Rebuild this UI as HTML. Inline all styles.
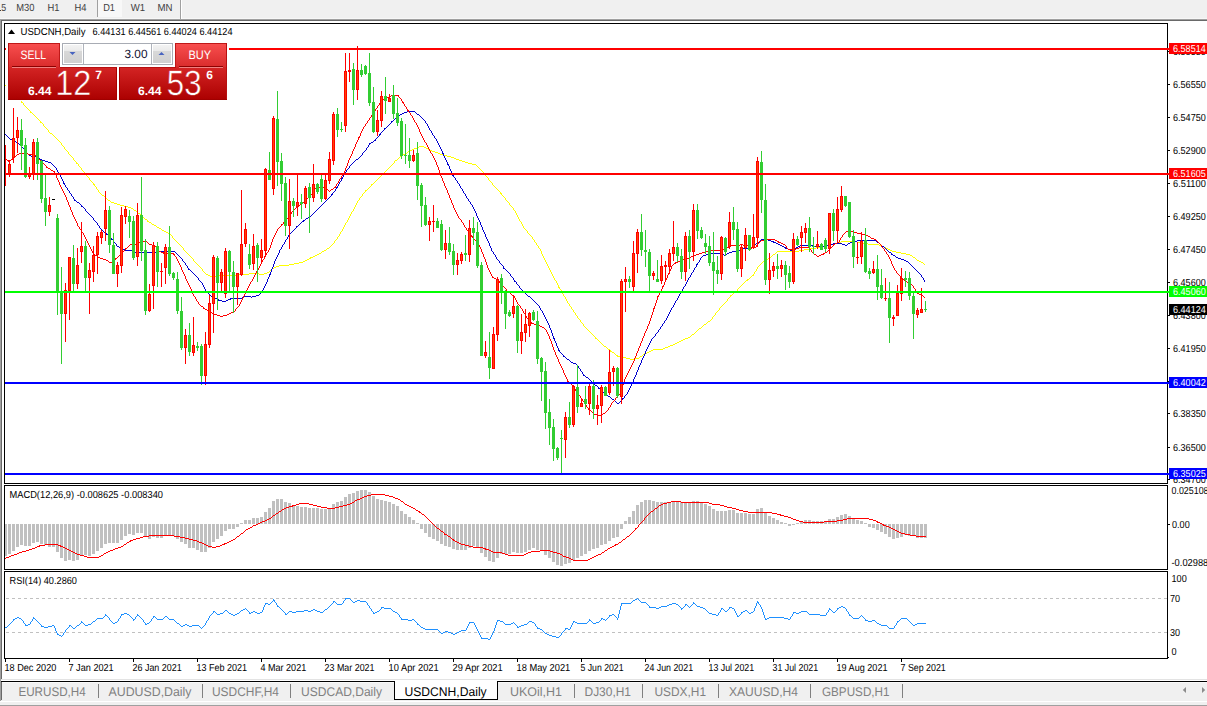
<!DOCTYPE html>
<html><head><meta charset="utf-8"><title>USDCNH,Daily</title>
<style>html,body{margin:0;padding:0;background:#fff;overflow:hidden}body{width:1207px;height:706px;font-family:"Liberation Sans",sans-serif}svg{display:block}text{font-family:"Liberation Sans",sans-serif}</style></head>
<body>
<svg width="1207" height="706" viewBox="0 0 1207 706" shape-rendering="crispEdges" text-rendering="geometricPrecision" font-family="Liberation Sans, sans-serif">
<rect x="0" y="0" width="1207" height="706" fill="#ffffff"/>
<rect x="0" y="0" width="1207" height="18" fill="#f0f0f0"/>
<rect x="0" y="18" width="1207" height="1" fill="#f7f7f7"/>
<rect x="0" y="19" width="1207" height="1" fill="#a0a0a0"/>
<rect x="0" y="20" width="1207" height="1" fill="#696969"/>
<rect x="98" y="0" width="24" height="17" fill="#f8f8f8"/>
<rect x="97" y="0" width="1" height="17" fill="#a0a0a0"/>
<rect x="0" y="10" width="1" height="1" fill="#404040"/>
<rect x="180" y="0" width="1" height="19" fill="#a0a0a0"/>
<rect x="181" y="0" width="1" height="19" fill="#ffffff"/>
<text x="1.2" y="11" font-size="10.3" fill="#404040" textLength="4.9" lengthAdjust="spacingAndGlyphs">5</text>
<text x="16.3" y="11" font-size="10.3" fill="#404040" textLength="18.2" lengthAdjust="spacingAndGlyphs">M30</text>
<text x="47.4" y="11" font-size="10.3" fill="#404040" textLength="12" lengthAdjust="spacingAndGlyphs">H1</text>
<text x="74.6" y="11" font-size="10.3" fill="#404040" textLength="12" lengthAdjust="spacingAndGlyphs">H4</text>
<text x="103.2" y="11" font-size="10.3" fill="#404040" textLength="11.8" lengthAdjust="spacingAndGlyphs">D1</text>
<text x="130.8" y="11" font-size="10.3" fill="#404040" textLength="14.4" lengthAdjust="spacingAndGlyphs">W1</text>
<text x="157.5" y="11" font-size="10.3" fill="#404040" textLength="15" lengthAdjust="spacingAndGlyphs">MN</text>
<rect x="0" y="19" width="1" height="661" fill="#a0a0a0"/>
<rect x="1" y="20" width="1" height="660" fill="#696969"/>
<rect x="4" y="23" width="1164" height="1" fill="#000"/>
<rect x="4" y="483" width="1164" height="1" fill="#000"/>
<rect x="4" y="23" width="1" height="461" fill="#000"/>
<rect x="1167" y="23" width="1" height="461" fill="#000"/>
<rect x="4" y="485" width="1164" height="1" fill="#000"/>
<rect x="4" y="569" width="1164" height="1" fill="#000"/>
<rect x="4" y="485" width="1" height="85" fill="#000"/>
<rect x="1167" y="485" width="1" height="85" fill="#000"/>
<rect x="4" y="571" width="1164" height="1" fill="#000"/>
<rect x="4" y="658" width="1164" height="1" fill="#000"/>
<rect x="4" y="571" width="1" height="88" fill="#000"/>
<rect x="1167" y="571" width="1" height="88" fill="#000"/>
<g id="main">
<path d="M5 85h1v1h-1zM6 86h1v1h-1zM7 87h1v1h-1zM8 88h1v1h-1zM9 89h1v1h-1zM10 90h1v1h-1zM11 91h1v1h-1zM12 92h1v1h-1zM13 93h1v1h-1zM14 94h1v1h-1zM15 95h1v1h-1zM16 96h1v1h-1zM17 97h1v1h-1zM18 98h1v1h-1zM19 99h1v1h-1zM20 100h1v1h-1zM21 101h1v2h-1zM22 102h1v1h-1zM23 103h1v2h-1zM24 105h1v1h-1zM25 106h1v1h-1zM26 107h1v1h-1zM27 108h1v1h-1zM28 109h1v1h-1zM29 110h1v1h-1zM30 111h1v2h-1zM31 112h1v1h-1zM32 113h1v1h-1zM33 114h1v1h-1zM34 115h1v1h-1zM35 116h1v1h-1zM36 117h1v1h-1zM37 118h1v1h-1zM38 119h1v1h-1zM39 120h1v1h-1zM40 121h1v2h-1zM41 122h1v1h-1zM42 123h1v1h-1zM43 124h1v2h-1zM44 126h1v1h-1zM45 127h1v1h-1zM46 128h1v1h-1zM47 129h1v1h-1zM48 130h1v2h-1zM49 132h1v1h-1zM50 133h1v1h-1zM51 133h1v1h-1zM52 134h1v1h-1zM53 135h1v1h-1zM54 136h1v1h-1zM55 137h1v1h-1zM56 138h1v1h-1zM57 139h1v1h-1zM58 140h1v1h-1zM59 141h1v1h-1zM60 142h1v1h-1zM61 143h1v2h-1zM62 145h1v1h-1zM63 146h1v1h-1zM64 147h1v2h-1zM65 149h1v1h-1zM66 150h1v1h-1zM67 151h1v1h-1zM68 152h1v2h-1zM69 154h1v1h-1zM70 155h1v1h-1zM71 156h1v1h-1zM72 157h1v1h-1zM73 158h1v2h-1zM74 160h1v1h-1zM75 161h1v1h-1zM76 162h1v2h-1zM77 163h1v1h-1zM78 164h1v2h-1zM79 166h1v1h-1zM80 167h1v1h-1zM81 168h1v2h-1zM82 170h1v1h-1zM83 171h1v1h-1zM84 172h1v2h-1zM85 174h1v1h-1zM86 175h1v1h-1zM87 176h1v1h-1zM88 177h1v1h-1zM89 178h1v2h-1zM90 180h1v1h-1zM91 181h1v1h-1zM92 182h1v1h-1zM93 183h1v2h-1zM94 184h1v2h-1zM95 186h1v1h-1zM96 187h1v2h-1zM97 189h1v1h-1zM98 190h1v2h-1zM99 192h1v1h-1zM100 193h1v1h-1zM101 194h1v1h-1zM102 195h1v1h-1zM103 195h1v1h-1zM104 196h1v1h-1zM105 197h1v1h-1zM106 198h1v1h-1zM107 199h1v1h-1zM108 200h1v1h-1zM109 200h1v1h-1zM110 201h1v1h-1zM111 202h1v1h-1zM112 202h1v1h-1zM113 202h1v1h-1zM114 203h1v1h-1zM115 203h1v1h-1zM116 203h1v1h-1zM117 204h1v1h-1zM118 204h1v1h-1zM119 204h1v1h-1zM120 205h1v1h-1zM121 205h1v1h-1zM122 205h1v1h-1zM123 205h1v1h-1zM124 206h1v1h-1zM125 206h1v1h-1zM126 206h1v1h-1zM127 206h1v1h-1zM128 207h1v1h-1zM129 207h1v1h-1zM130 207h1v1h-1zM131 208h1v1h-1zM132 208h1v1h-1zM133 209h1v1h-1zM134 210h1v1h-1zM135 210h1v1h-1zM136 211h1v1h-1zM137 212h1v1h-1zM138 213h1v1h-1zM139 213h1v1h-1zM140 214h1v1h-1zM141 215h1v1h-1zM142 216h1v1h-1zM143 217h1v1h-1zM144 218h1v1h-1zM145 219h1v1h-1zM146 219h1v1h-1zM147 220h1v2h-1zM148 221h1v1h-1zM149 222h1v1h-1zM150 222h1v1h-1zM151 223h1v1h-1zM152 224h1v1h-1zM153 224h1v1h-1zM154 225h1v1h-1zM155 225h1v1h-1zM156 226h1v1h-1zM157 227h1v1h-1zM158 227h1v1h-1zM159 228h1v1h-1zM160 228h1v1h-1zM161 229h1v1h-1zM162 230h1v1h-1zM163 230h1v1h-1zM164 231h1v1h-1zM165 231h1v1h-1zM166 232h1v1h-1zM167 232h1v1h-1zM168 233h1v1h-1zM169 234h1v1h-1zM170 234h1v1h-1zM171 235h1v1h-1zM172 236h1v2h-1zM173 238h1v1h-1zM174 239h1v1h-1zM175 240h1v1h-1zM176 241h1v1h-1zM177 242h1v1h-1zM178 243h1v1h-1zM179 244h1v1h-1zM180 245h1v1h-1zM181 246h1v1h-1zM182 247h1v1h-1zM183 248h1v2h-1zM184 250h1v1h-1zM185 251h1v1h-1zM186 252h1v1h-1zM187 253h1v1h-1zM188 254h1v1h-1zM189 255h1v1h-1zM190 256h1v1h-1zM191 257h1v1h-1zM192 258h1v1h-1zM193 259h1v2h-1zM194 261h1v1h-1zM195 262h1v1h-1zM196 263h1v1h-1zM197 264h1v1h-1zM198 265h1v1h-1zM199 266h1v1h-1zM200 267h1v1h-1zM201 268h1v1h-1zM202 269h1v2h-1zM203 271h1v1h-1zM204 272h1v1h-1zM205 273h1v1h-1zM206 274h1v1h-1zM207 274h1v1h-1zM208 275h1v1h-1zM209 275h1v1h-1zM210 276h1v1h-1zM211 276h1v1h-1zM212 276h1v1h-1zM213 276h1v1h-1zM214 276h1v1h-1zM215 276h1v1h-1zM216 276h1v1h-1zM217 276h1v1h-1zM218 275h1v1h-1zM219 275h1v1h-1zM220 275h1v1h-1zM221 275h1v1h-1zM222 275h1v1h-1zM223 275h1v1h-1zM224 275h1v1h-1zM225 275h1v1h-1zM226 275h1v1h-1zM227 275h1v1h-1zM228 275h1v1h-1zM229 275h1v1h-1zM230 275h1v1h-1zM231 275h1v1h-1zM232 275h1v1h-1zM233 275h1v1h-1zM234 275h1v1h-1zM235 275h1v1h-1zM236 274h1v1h-1zM237 274h1v1h-1zM238 274h1v1h-1zM239 274h1v1h-1zM240 274h1v1h-1zM241 274h1v1h-1zM242 274h1v1h-1zM243 274h1v1h-1zM244 274h1v1h-1zM245 274h1v1h-1zM246 274h1v1h-1zM247 274h1v1h-1zM248 274h1v1h-1zM249 273h1v1h-1zM250 273h1v1h-1zM251 273h1v1h-1zM252 273h1v1h-1zM253 273h1v1h-1zM254 273h1v1h-1zM255 273h1v1h-1zM256 273h1v1h-1zM257 273h1v1h-1zM258 273h1v1h-1zM259 274h1v1h-1zM260 274h1v1h-1zM261 274h1v1h-1zM262 274h1v1h-1zM263 274h1v1h-1zM264 273h1v1h-1zM265 273h1v1h-1zM266 273h1v1h-1zM267 272h1v1h-1zM268 272h1v1h-1zM269 271h1v1h-1zM270 270h1v1h-1zM271 269h1v1h-1zM272 268h1v1h-1zM273 268h1v1h-1zM274 267h1v1h-1zM275 267h1v1h-1zM276 266h1v1h-1zM277 266h1v1h-1zM278 266h1v1h-1zM279 265h1v1h-1zM280 265h1v1h-1zM281 265h1v1h-1zM282 265h1v1h-1zM283 265h1v1h-1zM284 265h1v1h-1zM285 265h1v1h-1zM286 265h1v1h-1zM287 265h1v1h-1zM288 265h1v1h-1zM289 264h1v1h-1zM290 264h1v1h-1zM291 264h1v1h-1zM292 264h1v1h-1zM293 264h1v1h-1zM294 263h1v1h-1zM295 263h1v1h-1zM296 263h1v1h-1zM297 263h1v1h-1zM298 263h1v1h-1zM299 262h1v1h-1zM300 262h1v1h-1zM301 262h1v1h-1zM302 262h1v1h-1zM303 261h1v1h-1zM304 261h1v1h-1zM305 260h1v1h-1zM306 260h1v1h-1zM307 259h1v1h-1zM308 259h1v1h-1zM309 258h1v1h-1zM310 257h1v2h-1zM311 257h1v1h-1zM312 257h1v1h-1zM313 256h1v1h-1zM314 256h1v1h-1zM315 255h1v1h-1zM316 255h1v1h-1zM317 254h1v1h-1zM318 254h1v1h-1zM319 253h1v1h-1zM320 253h1v1h-1zM321 252h1v1h-1zM322 251h1v1h-1zM323 251h1v1h-1zM324 250h1v1h-1zM325 250h1v1h-1zM326 249h1v1h-1zM327 248h1v1h-1zM328 248h1v1h-1zM329 247h1v1h-1zM330 246h1v1h-1zM331 245h1v1h-1zM332 244h1v1h-1zM333 243h1v1h-1zM334 241h1v2h-1zM335 240h1v1h-1zM336 239h1v1h-1zM337 237h1v2h-1zM338 236h1v1h-1zM339 234h1v2h-1zM340 232h1v2h-1zM341 231h1v1h-1zM342 229h1v2h-1zM343 227h1v2h-1zM344 225h1v2h-1zM345 223h1v2h-1zM346 222h1v1h-1zM347 220h1v2h-1zM348 218h1v2h-1zM349 216h1v2h-1zM350 214h1v2h-1zM351 212h1v2h-1zM352 211h1v1h-1zM353 209h1v2h-1zM354 207h1v2h-1zM355 205h1v2h-1zM356 203h1v2h-1zM357 201h1v2h-1zM358 200h1v1h-1zM359 198h1v2h-1zM360 197h1v1h-1zM361 196h1v1h-1zM362 194h1v2h-1zM363 193h1v1h-1zM364 192h1v1h-1zM365 190h1v2h-1zM366 190h1v1h-1zM367 189h1v1h-1zM368 188h1v1h-1zM369 187h1v1h-1zM370 186h1v1h-1zM371 184h1v2h-1zM372 184h1v1h-1zM373 183h1v1h-1zM374 182h1v1h-1zM375 181h1v1h-1zM376 180h1v1h-1zM377 179h1v1h-1zM378 178h1v1h-1zM379 177h1v1h-1zM380 176h1v1h-1zM381 175h1v1h-1zM382 174h1v1h-1zM383 173h1v1h-1zM384 172h1v1h-1zM385 171h1v1h-1zM386 170h1v1h-1zM387 169h1v1h-1zM388 168h1v1h-1zM389 167h1v1h-1zM390 166h1v1h-1zM391 165h1v1h-1zM392 164h1v1h-1zM393 163h1v1h-1zM394 161h1v2h-1zM395 160h1v1h-1zM396 160h1v1h-1zM397 159h1v1h-1zM398 158h1v1h-1zM399 157h1v1h-1zM400 156h1v1h-1zM401 156h1v1h-1zM402 155h1v1h-1zM403 154h1v1h-1zM404 154h1v1h-1zM405 153h1v1h-1zM406 153h1v1h-1zM407 152h1v1h-1zM408 151h1v1h-1zM409 151h1v1h-1zM410 150h1v1h-1zM411 150h1v1h-1zM412 149h1v1h-1zM413 149h1v1h-1zM414 148h1v1h-1zM415 148h1v1h-1zM416 148h1v1h-1zM417 147h1v1h-1zM418 147h1v1h-1zM419 146h1v1h-1zM420 146h1v1h-1zM421 146h1v1h-1zM422 146h1v1h-1zM423 146h1v1h-1zM424 147h1v1h-1zM425 147h1v1h-1zM426 148h1v1h-1zM427 148h1v1h-1zM428 149h1v1h-1zM429 149h1v2h-1zM430 150h1v1h-1zM431 150h1v1h-1zM432 151h1v1h-1zM433 151h1v1h-1zM434 151h1v1h-1zM435 152h1v1h-1zM436 152h1v1h-1zM437 152h1v1h-1zM438 153h1v1h-1zM439 153h1v1h-1zM440 154h1v1h-1zM441 154h1v1h-1zM442 154h1v1h-1zM443 155h1v1h-1zM444 155h1v1h-1zM445 155h1v1h-1zM446 155h1v1h-1zM447 156h1v1h-1zM448 156h1v1h-1zM449 156h1v1h-1zM450 156h1v1h-1zM451 157h1v1h-1zM452 157h1v1h-1zM453 157h1v1h-1zM454 158h1v1h-1zM455 158h1v1h-1zM456 159h1v1h-1zM457 159h1v1h-1zM458 159h1v1h-1zM459 160h1v1h-1zM460 160h1v1h-1zM461 160h1v1h-1zM462 161h1v1h-1zM463 161h1v1h-1zM464 161h1v1h-1zM465 162h1v1h-1zM466 162h1v1h-1zM467 162h1v1h-1zM468 163h1v1h-1zM469 163h1v1h-1zM470 163h1v1h-1zM471 163h1v1h-1zM472 164h1v1h-1zM473 164h1v1h-1zM474 164h1v1h-1zM475 164h1v1h-1zM476 165h1v1h-1zM477 166h1v1h-1zM478 167h1v1h-1zM479 168h1v1h-1zM480 169h1v1h-1zM481 170h1v1h-1zM482 171h1v1h-1zM483 172h1v1h-1zM484 173h1v1h-1zM485 174h1v2h-1zM486 176h1v1h-1zM487 177h1v1h-1zM488 178h1v2h-1zM489 180h1v1h-1zM490 181h1v1h-1zM491 182h1v1h-1zM492 183h1v2h-1zM493 185h1v1h-1zM494 186h1v1h-1zM495 187h1v1h-1zM496 188h1v1h-1zM497 189h1v1h-1zM498 190h1v1h-1zM499 191h1v1h-1zM500 192h1v2h-1zM501 193h1v2h-1zM502 195h1v1h-1zM503 196h1v1h-1zM504 197h1v1h-1zM505 198h1v2h-1zM506 200h1v1h-1zM507 201h1v1h-1zM508 202h1v1h-1zM509 203h1v2h-1zM510 205h1v1h-1zM511 206h1v1h-1zM512 207h1v1h-1zM513 208h1v2h-1zM514 210h1v1h-1zM515 211h1v2h-1zM516 213h1v2h-1zM517 215h1v2h-1zM518 217h1v2h-1zM519 219h1v2h-1zM520 221h1v1h-1zM521 222h1v2h-1zM522 224h1v2h-1zM523 226h1v2h-1zM524 228h1v1h-1zM525 229h1v1h-1zM526 230h1v1h-1zM527 231h1v2h-1zM528 233h1v1h-1zM529 234h1v1h-1zM530 235h1v1h-1zM531 236h1v1h-1zM532 237h1v2h-1zM533 239h1v1h-1zM534 240h1v2h-1zM535 242h1v1h-1zM536 243h1v2h-1zM537 245h1v1h-1zM538 246h1v2h-1zM539 248h1v1h-1zM540 249h1v2h-1zM541 251h1v3h-1zM542 254h1v2h-1zM543 256h1v2h-1zM544 258h1v2h-1zM545 260h1v2h-1zM546 262h1v2h-1zM547 264h1v2h-1zM548 266h1v2h-1zM549 268h1v2h-1zM550 270h1v2h-1zM551 272h1v2h-1zM552 274h1v2h-1zM553 276h1v2h-1zM554 278h1v2h-1zM555 280h1v1h-1zM556 281h1v2h-1zM557 283h1v2h-1zM558 285h1v3h-1zM559 287h1v2h-1zM560 289h1v1h-1zM561 290h1v2h-1zM562 292h1v2h-1zM563 294h1v2h-1zM564 296h1v1h-1zM565 297h1v2h-1zM566 299h1v2h-1zM567 301h1v2h-1zM568 303h1v1h-1zM569 304h1v2h-1zM570 306h1v1h-1zM571 307h1v2h-1zM572 309h1v1h-1zM573 310h1v2h-1zM574 312h1v1h-1zM575 313h1v2h-1zM576 315h1v1h-1zM577 316h1v2h-1zM578 318h1v1h-1zM579 319h1v1h-1zM580 320h1v2h-1zM581 322h1v1h-1zM582 323h1v1h-1zM583 324h1v2h-1zM584 326h1v1h-1zM585 327h1v1h-1zM586 328h1v1h-1zM587 329h1v1h-1zM588 330h1v1h-1zM589 331h1v1h-1zM590 332h1v1h-1zM591 333h1v1h-1zM592 334h1v1h-1zM593 335h1v1h-1zM594 336h1v1h-1zM595 337h1v2h-1zM596 338h1v1h-1zM597 339h1v1h-1zM598 340h1v1h-1zM599 341h1v1h-1zM600 342h1v1h-1zM601 343h1v1h-1zM602 344h1v1h-1zM603 345h1v1h-1zM604 346h1v1h-1zM605 346h1v1h-1zM606 347h1v1h-1zM607 348h1v1h-1zM608 349h1v1h-1zM609 349h1v1h-1zM610 350h1v2h-1zM611 351h1v1h-1zM612 352h1v1h-1zM613 352h1v1h-1zM614 353h1v1h-1zM615 354h1v1h-1zM616 355h1v1h-1zM617 355h1v2h-1zM618 356h1v1h-1zM619 356h1v1h-1zM620 356h1v1h-1zM621 357h1v1h-1zM622 357h1v1h-1zM623 357h1v1h-1zM624 357h1v1h-1zM625 357h1v1h-1zM626 358h1v1h-1zM627 358h1v1h-1zM628 358h1v1h-1zM629 358h1v1h-1zM630 359h1v1h-1zM631 359h1v1h-1zM632 359h1v1h-1zM633 359h1v1h-1zM634 358h1v1h-1zM635 358h1v1h-1zM636 358h1v1h-1zM637 358h1v1h-1zM638 358h1v1h-1zM639 357h1v1h-1zM640 356h1v1h-1zM641 356h1v1h-1zM642 355h1v1h-1zM643 354h1v1h-1zM644 353h1v2h-1zM645 353h1v1h-1zM646 353h1v1h-1zM647 352h1v1h-1zM648 352h1v1h-1zM649 351h1v1h-1zM650 351h1v1h-1zM651 350h1v1h-1zM652 350h1v1h-1zM653 349h1v1h-1zM654 349h1v1h-1zM655 349h1v1h-1zM656 349h1v1h-1zM657 349h1v1h-1zM658 349h1v1h-1zM659 349h1v1h-1zM660 349h1v1h-1zM661 349h1v1h-1zM662 349h1v1h-1zM663 348h1v1h-1zM664 348h1v1h-1zM665 347h1v1h-1zM666 347h1v1h-1zM667 347h1v1h-1zM668 346h1v1h-1zM669 346h1v1h-1zM670 345h1v1h-1zM671 345h1v1h-1zM672 345h1v1h-1zM673 344h1v1h-1zM674 344h1v1h-1zM675 343h1v1h-1zM676 343h1v1h-1zM677 342h1v1h-1zM678 342h1v1h-1zM679 341h1v1h-1zM680 341h1v1h-1zM681 340h1v1h-1zM682 340h1v1h-1zM683 339h1v1h-1zM684 339h1v1h-1zM685 338h1v1h-1zM686 338h1v1h-1zM687 338h1v1h-1zM688 337h1v1h-1zM689 337h1v1h-1zM690 336h1v1h-1zM691 335h1v1h-1zM692 334h1v1h-1zM693 334h1v1h-1zM694 333h1v1h-1zM695 332h1v1h-1zM696 331h1v1h-1zM697 330h1v1h-1zM698 329h1v1h-1zM699 328h1v1h-1zM700 328h1v1h-1zM701 327h1v1h-1zM702 326h1v1h-1zM703 325h1v1h-1zM704 324h1v1h-1zM705 324h1v1h-1zM706 323h1v1h-1zM707 322h1v1h-1zM708 321h1v1h-1zM709 321h1v1h-1zM710 320h1v1h-1zM711 319h1v1h-1zM712 317h1v2h-1zM713 316h1v1h-1zM714 315h1v1h-1zM715 313h1v2h-1zM716 312h1v1h-1zM717 311h1v1h-1zM718 310h1v1h-1zM719 308h1v2h-1zM720 307h1v1h-1zM721 306h1v1h-1zM722 305h1v1h-1zM723 304h1v1h-1zM724 303h1v1h-1zM725 302h1v1h-1zM726 301h1v1h-1zM727 299h1v2h-1zM728 298h1v1h-1zM729 297h1v1h-1zM730 295h1v2h-1zM731 295h1v1h-1zM732 294h1v1h-1zM733 293h1v1h-1zM734 292h1v1h-1zM735 291h1v2h-1zM736 291h1v1h-1zM737 289h1v2h-1zM738 288h1v1h-1zM739 287h1v1h-1zM740 286h1v1h-1zM741 285h1v1h-1zM742 284h1v1h-1zM743 283h1v1h-1zM744 282h1v1h-1zM745 281h1v1h-1zM746 280h1v1h-1zM747 279h1v2h-1zM748 279h1v1h-1zM749 278h1v1h-1zM750 277h1v1h-1zM751 276h1v1h-1zM752 275h1v1h-1zM753 274h1v2h-1zM754 272h1v2h-1zM755 271h1v1h-1zM756 269h1v2h-1zM757 267h1v2h-1zM758 266h1v1h-1zM759 265h1v1h-1zM760 264h1v1h-1zM761 263h1v1h-1zM762 262h1v1h-1zM763 261h1v1h-1zM764 261h1v1h-1zM765 260h1v1h-1zM766 259h1v1h-1zM767 259h1v1h-1zM768 258h1v1h-1zM769 257h1v1h-1zM770 257h1v1h-1zM771 256h1v1h-1zM772 255h1v1h-1zM773 254h1v1h-1zM774 254h1v1h-1zM775 253h1v1h-1zM776 252h1v1h-1zM777 251h1v1h-1zM778 251h1v1h-1zM779 251h1v1h-1zM780 251h1v1h-1zM781 251h1v1h-1zM782 251h1v1h-1zM783 251h1v1h-1zM784 251h1v1h-1zM785 251h1v1h-1zM786 251h1v1h-1zM787 251h1v1h-1zM788 251h1v1h-1zM789 251h1v1h-1zM790 251h1v1h-1zM791 251h1v1h-1zM792 251h1v1h-1zM793 251h1v1h-1zM794 251h1v1h-1zM795 251h1v1h-1zM796 251h1v1h-1zM797 251h1v1h-1zM798 251h1v1h-1zM799 250h1v1h-1zM800 250h1v1h-1zM801 250h1v1h-1zM802 250h1v1h-1zM803 250h1v1h-1zM804 249h1v1h-1zM805 249h1v1h-1zM806 249h1v1h-1zM807 249h1v1h-1zM808 249h1v1h-1zM809 248h1v1h-1zM810 248h1v1h-1zM811 248h1v1h-1zM812 248h1v1h-1zM813 248h1v1h-1zM814 248h1v1h-1zM815 248h1v1h-1zM816 247h1v1h-1zM817 247h1v1h-1zM818 247h1v1h-1zM819 247h1v1h-1zM820 247h1v1h-1zM821 247h1v1h-1zM822 246h1v1h-1zM823 246h1v1h-1zM824 246h1v1h-1zM825 246h1v1h-1zM826 245h1v1h-1zM827 245h1v1h-1zM828 245h1v1h-1zM829 245h1v1h-1zM830 244h1v1h-1zM831 244h1v1h-1zM832 244h1v1h-1zM833 244h1v1h-1zM834 243h1v1h-1zM835 243h1v1h-1zM836 243h1v1h-1zM837 242h1v1h-1zM838 242h1v1h-1zM839 242h1v1h-1zM840 242h1v1h-1zM841 241h1v1h-1zM842 241h1v1h-1zM843 241h1v1h-1zM844 241h1v1h-1zM845 241h1v1h-1zM846 241h1v1h-1zM847 241h1v1h-1zM848 241h1v1h-1zM849 241h1v1h-1zM850 241h1v1h-1zM851 241h1v1h-1zM852 241h1v1h-1zM853 241h1v1h-1zM854 241h1v1h-1zM855 241h1v1h-1zM856 241h1v1h-1zM857 242h1v1h-1zM858 242h1v1h-1zM859 242h1v1h-1zM860 242h1v1h-1zM861 242h1v1h-1zM862 242h1v1h-1zM863 243h1v1h-1zM864 243h1v1h-1zM865 243h1v1h-1zM866 243h1v1h-1zM867 243h1v1h-1zM868 244h1v1h-1zM869 244h1v1h-1zM870 244h1v1h-1zM871 244h1v1h-1zM872 244h1v1h-1zM873 244h1v1h-1zM874 244h1v1h-1zM875 244h1v1h-1zM876 244h1v1h-1zM877 244h1v1h-1zM878 244h1v1h-1zM879 245h1v1h-1zM880 245h1v1h-1zM881 245h1v1h-1zM882 246h1v1h-1zM883 246h1v1h-1zM884 247h1v1h-1zM885 247h1v1h-1zM886 248h1v1h-1zM887 248h1v1h-1zM888 249h1v1h-1zM889 249h1v1h-1zM890 250h1v1h-1zM891 250h1v1h-1zM892 251h1v1h-1zM893 251h1v1h-1zM894 251h1v1h-1zM895 251h1v1h-1zM896 252h1v1h-1zM897 252h1v1h-1zM898 252h1v1h-1zM899 252h1v1h-1zM900 252h1v1h-1zM901 253h1v1h-1zM902 253h1v1h-1zM903 253h1v1h-1zM904 253h1v1h-1zM905 253h1v1h-1zM906 254h1v1h-1zM907 254h1v1h-1zM908 254h1v1h-1zM909 254h1v1h-1zM910 255h1v1h-1zM911 255h1v1h-1zM912 256h1v1h-1zM913 257h1v1h-1zM914 257h1v1h-1zM915 258h1v1h-1zM916 259h1v1h-1zM917 260h1v1h-1zM918 260h1v1h-1zM919 261h1v1h-1zM920 261h1v1h-1zM921 262h1v1h-1zM922 262h1v1h-1zM923 263h1v1h-1zM924 264h1v1h-1z" fill="#ffff00"/>
<path d="M5 134h1v1h-1zM6 135h1v1h-1zM7 136h1v1h-1zM8 137h1v1h-1zM9 138h1v1h-1zM10 139h1v1h-1zM11 139h1v1h-1zM12 140h1v1h-1zM13 140h1v1h-1zM14 141h1v1h-1zM15 141h1v1h-1zM16 142h1v1h-1zM17 142h1v1h-1zM18 143h1v1h-1zM19 144h1v1h-1zM20 145h1v1h-1zM21 145h1v2h-1zM22 147h1v1h-1zM23 148h1v1h-1zM24 149h1v2h-1zM25 151h1v2h-1zM26 152h1v1h-1zM27 153h1v1h-1zM28 154h1v1h-1zM29 155h1v1h-1zM30 155h1v1h-1zM31 156h1v1h-1zM32 156h1v1h-1zM33 156h1v1h-1zM34 156h1v1h-1zM35 156h1v1h-1zM36 157h1v1h-1zM37 157h1v1h-1zM38 158h1v1h-1zM39 158h1v1h-1zM40 159h1v1h-1zM41 159h1v1h-1zM42 160h1v1h-1zM43 160h1v1h-1zM44 160h1v1h-1zM45 161h1v1h-1zM46 161h1v1h-1zM47 161h1v1h-1zM48 162h1v1h-1zM49 162h1v1h-1zM50 162h1v1h-1zM51 163h1v1h-1zM52 164h1v1h-1zM53 165h1v1h-1zM54 166h1v1h-1zM55 167h1v1h-1zM56 168h1v2h-1zM57 170h1v2h-1zM58 172h1v2h-1zM59 174h1v1h-1zM60 175h1v2h-1zM61 177h1v2h-1zM62 179h1v2h-1zM63 181h1v3h-1zM64 183h1v2h-1zM65 185h1v2h-1zM66 187h1v1h-1zM67 188h1v2h-1zM68 190h1v1h-1zM69 191h1v2h-1zM70 193h1v1h-1zM71 194h1v2h-1zM72 196h1v1h-1zM73 197h1v2h-1zM74 199h1v2h-1zM75 200h1v1h-1zM76 201h1v1h-1zM77 202h1v1h-1zM78 202h1v1h-1zM79 203h1v1h-1zM80 204h1v1h-1zM81 205h1v2h-1zM82 206h1v1h-1zM83 207h1v1h-1zM84 208h1v1h-1zM85 209h1v2h-1zM86 211h1v1h-1zM87 212h1v1h-1zM88 213h1v1h-1zM89 214h1v1h-1zM90 215h1v1h-1zM91 216h1v1h-1zM92 217h1v1h-1zM93 218h1v2h-1zM94 220h1v1h-1zM95 221h1v1h-1zM96 222h1v1h-1zM97 223h1v2h-1zM98 225h1v1h-1zM99 226h1v2h-1zM100 228h1v1h-1zM101 229h1v1h-1zM102 230h1v1h-1zM103 231h1v1h-1zM104 232h1v1h-1zM105 232h1v1h-1zM106 233h1v2h-1zM107 234h1v1h-1zM108 235h1v1h-1zM109 236h1v1h-1zM110 237h1v1h-1zM111 238h1v2h-1zM112 239h1v1h-1zM113 240h1v2h-1zM114 242h1v1h-1zM115 243h1v1h-1zM116 244h1v2h-1zM117 246h1v1h-1zM118 246h1v1h-1zM119 247h1v1h-1zM120 248h1v1h-1zM121 249h1v1h-1zM122 249h1v1h-1zM123 249h1v1h-1zM124 249h1v1h-1zM125 250h1v1h-1zM126 250h1v1h-1zM127 250h1v1h-1zM128 250h1v1h-1zM129 250h1v1h-1zM130 250h1v1h-1zM131 250h1v1h-1zM132 251h1v1h-1zM133 251h1v1h-1zM134 251h1v1h-1zM135 252h1v1h-1zM136 252h1v1h-1zM137 252h1v1h-1zM138 252h1v1h-1zM139 252h1v1h-1zM140 252h1v1h-1zM141 252h1v1h-1zM142 252h1v1h-1zM143 252h1v1h-1zM144 252h1v1h-1zM145 252h1v1h-1zM146 252h1v1h-1zM147 252h1v1h-1zM148 252h1v1h-1zM149 252h1v1h-1zM150 252h1v1h-1zM151 252h1v1h-1zM152 252h1v1h-1zM153 252h1v1h-1zM154 252h1v1h-1zM155 252h1v1h-1zM156 251h1v1h-1zM157 251h1v1h-1zM158 251h1v1h-1zM159 251h1v1h-1zM160 251h1v1h-1zM161 251h1v1h-1zM162 251h1v1h-1zM163 251h1v1h-1zM164 251h1v1h-1zM165 251h1v1h-1zM166 251h1v1h-1zM167 251h1v1h-1zM168 251h1v1h-1zM169 251h1v1h-1zM170 251h1v1h-1zM171 251h1v1h-1zM172 251h1v1h-1zM173 251h1v1h-1zM174 251h1v1h-1zM175 252h1v1h-1zM176 253h1v1h-1zM177 254h1v1h-1zM178 255h1v1h-1zM179 256h1v1h-1zM180 257h1v1h-1zM181 258h1v1h-1zM182 259h1v2h-1zM183 261h1v1h-1zM184 262h1v1h-1zM185 263h1v2h-1zM186 265h1v1h-1zM187 266h1v2h-1zM188 268h1v2h-1zM189 269h1v1h-1zM190 270h1v1h-1zM191 271h1v1h-1zM192 272h1v1h-1zM193 273h1v1h-1zM194 274h1v1h-1zM195 275h1v1h-1zM196 276h1v1h-1zM197 277h1v1h-1zM198 278h1v2h-1zM199 280h1v1h-1zM200 281h1v1h-1zM201 282h1v1h-1zM202 283h1v2h-1zM203 285h1v2h-1zM204 287h1v2h-1zM205 289h1v2h-1zM206 291h1v1h-1zM207 292h1v1h-1zM208 293h1v1h-1zM209 294h1v1h-1zM210 295h1v1h-1zM211 296h1v1h-1zM212 296h1v1h-1zM213 297h1v1h-1zM214 297h1v1h-1zM215 298h1v1h-1zM216 298h1v1h-1zM217 299h1v1h-1zM218 299h1v2h-1zM219 300h1v1h-1zM220 300h1v1h-1zM221 300h1v1h-1zM222 301h1v1h-1zM223 301h1v1h-1zM224 301h1v1h-1zM225 301h1v1h-1zM226 300h1v1h-1zM227 300h1v1h-1zM228 299h1v1h-1zM229 299h1v1h-1zM230 298h1v2h-1zM231 298h1v1h-1zM232 298h1v1h-1zM233 298h1v1h-1zM234 298h1v1h-1zM235 298h1v1h-1zM236 298h1v1h-1zM237 298h1v1h-1zM238 298h1v1h-1zM239 298h1v1h-1zM240 298h1v1h-1zM241 298h1v1h-1zM242 297h1v1h-1zM243 297h1v1h-1zM244 296h1v1h-1zM245 296h1v1h-1zM246 296h1v1h-1zM247 296h1v1h-1zM248 296h1v1h-1zM249 296h1v1h-1zM250 296h1v1h-1zM251 297h1v1h-1zM252 296h1v1h-1zM253 296h1v1h-1zM254 296h1v1h-1zM255 296h1v1h-1zM256 295h1v1h-1zM257 295h1v1h-1zM258 295h1v1h-1zM259 294h1v1h-1zM260 293h1v1h-1zM261 292h1v1h-1zM262 290h1v2h-1zM263 288h1v2h-1zM264 286h1v2h-1zM265 284h1v2h-1zM266 282h1v2h-1zM267 279h1v3h-1zM268 277h1v2h-1zM269 274h1v3h-1zM270 272h1v3h-1zM271 269h1v3h-1zM272 267h1v2h-1zM273 264h1v3h-1zM274 261h1v3h-1zM275 259h1v2h-1zM276 257h1v2h-1zM277 255h1v2h-1zM278 253h1v2h-1zM279 250h1v3h-1zM280 249h1v1h-1zM281 247h1v2h-1zM282 245h1v2h-1zM283 244h1v1h-1zM284 242h1v2h-1zM285 240h1v2h-1zM286 239h1v1h-1zM287 237h1v2h-1zM288 235h1v2h-1zM289 234h1v1h-1zM290 233h1v1h-1zM291 232h1v1h-1zM292 231h1v1h-1zM293 230h1v1h-1zM294 229h1v1h-1zM295 228h1v1h-1zM296 226h1v2h-1zM297 226h1v1h-1zM298 225h1v1h-1zM299 224h1v1h-1zM300 223h1v1h-1zM301 222h1v1h-1zM302 221h1v1h-1zM303 220h1v2h-1zM304 220h1v1h-1zM305 219h1v1h-1zM306 218h1v1h-1zM307 218h1v1h-1zM308 217h1v1h-1zM309 217h1v1h-1zM310 216h1v1h-1zM311 215h1v1h-1zM312 214h1v1h-1zM313 213h1v1h-1zM314 212h1v1h-1zM315 211h1v1h-1zM316 210h1v1h-1zM317 209h1v1h-1zM318 208h1v1h-1zM319 207h1v1h-1zM320 206h1v1h-1zM321 205h1v1h-1zM322 204h1v1h-1zM323 203h1v1h-1zM324 202h1v1h-1zM325 201h1v1h-1zM326 200h1v1h-1zM327 199h1v1h-1zM328 198h1v1h-1zM329 197h1v1h-1zM330 196h1v1h-1zM331 194h1v2h-1zM332 193h1v2h-1zM333 192h1v1h-1zM334 191h1v1h-1zM335 189h1v2h-1zM336 187h1v2h-1zM337 186h1v2h-1zM338 184h1v2h-1zM339 182h1v2h-1zM340 181h1v1h-1zM341 178h1v3h-1zM342 177h1v2h-1zM343 175h1v2h-1zM344 174h1v1h-1zM345 172h1v2h-1zM346 170h1v2h-1zM347 169h1v1h-1zM348 168h1v1h-1zM349 166h1v2h-1zM350 165h1v1h-1zM351 164h1v1h-1zM352 163h1v1h-1zM353 162h1v1h-1zM354 161h1v1h-1zM355 160h1v1h-1zM356 159h1v1h-1zM357 159h1v1h-1zM358 158h1v1h-1zM359 157h1v1h-1zM360 156h1v1h-1zM361 155h1v1h-1zM362 153h1v2h-1zM363 152h1v1h-1zM364 151h1v1h-1zM365 150h1v1h-1zM366 148h1v2h-1zM367 147h1v1h-1zM368 145h1v2h-1zM369 143h1v2h-1zM370 143h1v1h-1zM371 142h1v1h-1zM372 142h1v1h-1zM373 141h1v1h-1zM374 140h1v1h-1zM375 139h1v2h-1zM376 138h1v1h-1zM377 137h1v1h-1zM378 136h1v1h-1zM379 134h1v2h-1zM380 133h1v2h-1zM381 132h1v1h-1zM382 131h1v1h-1zM383 130h1v1h-1zM384 128h1v2h-1zM385 128h1v1h-1zM386 127h1v1h-1zM387 126h1v1h-1zM388 125h1v1h-1zM389 124h1v1h-1zM390 123h1v1h-1zM391 121h1v2h-1zM392 121h1v1h-1zM393 120h1v1h-1zM394 119h1v1h-1zM395 118h1v1h-1zM396 117h1v1h-1zM397 116h1v1h-1zM398 115h1v1h-1zM399 115h1v1h-1zM400 114h1v1h-1zM401 114h1v1h-1zM402 113h1v1h-1zM403 113h1v1h-1zM404 112h1v1h-1zM405 112h1v1h-1zM406 112h1v1h-1zM407 111h1v1h-1zM408 111h1v1h-1zM409 111h1v1h-1zM410 111h1v1h-1zM411 111h1v1h-1zM412 111h1v1h-1zM413 111h1v1h-1zM414 111h1v1h-1zM415 112h1v1h-1zM416 113h1v1h-1zM417 114h1v1h-1zM418 114h1v1h-1zM419 115h1v1h-1zM420 116h1v1h-1zM421 117h1v1h-1zM422 118h1v1h-1zM423 119h1v1h-1zM424 120h1v1h-1zM425 121h1v2h-1zM426 123h1v1h-1zM427 124h1v2h-1zM428 126h1v2h-1zM429 128h1v2h-1zM430 130h1v1h-1zM431 131h1v2h-1zM432 133h1v2h-1zM433 135h1v1h-1zM434 136h1v2h-1zM435 138h1v1h-1zM436 139h1v2h-1zM437 141h1v2h-1zM438 143h1v2h-1zM439 145h1v2h-1zM440 147h1v2h-1zM441 149h1v2h-1zM442 151h1v3h-1zM443 153h1v3h-1zM444 156h1v2h-1zM445 158h1v2h-1zM446 160h1v2h-1zM447 162h1v3h-1zM448 164h1v2h-1zM449 166h1v3h-1zM450 169h1v2h-1zM451 171h1v2h-1zM452 173h1v3h-1zM453 175h1v2h-1zM454 177h1v1h-1zM455 178h1v2h-1zM456 180h1v1h-1zM457 181h1v2h-1zM458 183h1v1h-1zM459 184h1v2h-1zM460 186h1v2h-1zM461 188h1v1h-1zM462 189h1v2h-1zM463 191h1v2h-1zM464 193h1v1h-1zM465 194h1v2h-1zM466 196h1v2h-1zM467 198h1v1h-1zM468 199h1v2h-1zM469 201h1v1h-1zM470 202h1v2h-1zM471 204h1v1h-1zM472 205h1v2h-1zM473 207h1v2h-1zM474 209h1v2h-1zM475 211h1v2h-1zM476 213h1v3h-1zM477 216h1v2h-1zM478 218h1v2h-1zM479 220h1v2h-1zM480 222h1v3h-1zM481 225h1v2h-1zM482 227h1v3h-1zM483 230h1v2h-1zM484 232h1v2h-1zM485 234h1v3h-1zM486 237h1v2h-1zM487 239h1v2h-1zM488 241h1v2h-1zM489 243h1v3h-1zM490 246h1v2h-1zM491 248h1v3h-1zM492 251h1v1h-1zM493 252h1v2h-1zM494 254h1v1h-1zM495 255h1v2h-1zM496 257h1v2h-1zM497 259h1v1h-1zM498 260h1v1h-1zM499 261h1v2h-1zM500 263h1v1h-1zM501 264h1v1h-1zM502 265h1v1h-1zM503 266h1v3h-1zM504 268h1v1h-1zM505 269h1v1h-1zM506 270h1v1h-1zM507 271h1v1h-1zM508 272h1v1h-1zM509 273h1v1h-1zM510 274h1v2h-1zM511 276h1v1h-1zM512 277h1v1h-1zM513 278h1v2h-1zM514 280h1v2h-1zM515 281h1v1h-1zM516 282h1v2h-1zM517 284h1v1h-1zM518 285h1v1h-1zM519 286h1v2h-1zM520 288h1v1h-1zM521 289h1v1h-1zM522 290h1v1h-1zM523 291h1v2h-1zM524 292h1v1h-1zM525 293h1v1h-1zM526 294h1v1h-1zM527 295h1v1h-1zM528 296h1v1h-1zM529 296h1v1h-1zM530 297h1v1h-1zM531 298h1v1h-1zM532 299h1v1h-1zM533 300h1v1h-1zM534 301h1v1h-1zM535 302h1v1h-1zM536 303h1v1h-1zM537 304h1v1h-1zM538 305h1v1h-1zM539 306h1v2h-1zM540 308h1v2h-1zM541 310h1v1h-1zM542 311h1v2h-1zM543 313h1v2h-1zM544 315h1v2h-1zM545 317h1v2h-1zM546 319h1v2h-1zM547 321h1v2h-1zM548 323h1v2h-1zM549 325h1v3h-1zM550 328h1v2h-1zM551 330h1v3h-1zM552 333h1v3h-1zM553 336h1v3h-1zM554 338h1v3h-1zM555 341h1v2h-1zM556 343h1v3h-1zM557 346h1v2h-1zM558 348h1v3h-1zM559 350h1v2h-1zM560 352h1v1h-1zM561 353h1v1h-1zM562 354h1v1h-1zM563 355h1v2h-1zM564 356h1v1h-1zM565 357h1v1h-1zM566 358h1v1h-1zM567 359h1v1h-1zM568 359h1v1h-1zM569 360h1v1h-1zM570 361h1v1h-1zM571 362h1v1h-1zM572 362h1v1h-1zM573 363h1v1h-1zM574 363h1v1h-1zM575 363h1v1h-1zM576 364h1v1h-1zM577 365h1v1h-1zM578 366h1v2h-1zM579 368h1v1h-1zM580 369h1v2h-1zM581 371h1v1h-1zM582 372h1v2h-1zM583 374h1v2h-1zM584 375h1v1h-1zM585 376h1v1h-1zM586 377h1v1h-1zM587 377h1v1h-1zM588 378h1v1h-1zM589 379h1v1h-1zM590 380h1v1h-1zM591 381h1v1h-1zM592 382h1v1h-1zM593 383h1v1h-1zM594 384h1v1h-1zM595 385h1v1h-1zM596 385h1v1h-1zM597 386h1v1h-1zM598 387h1v2h-1zM599 388h1v1h-1zM600 389h1v1h-1zM601 390h1v1h-1zM602 391h1v1h-1zM603 392h1v1h-1zM604 393h1v1h-1zM605 393h1v2h-1zM606 394h1v1h-1zM607 395h1v1h-1zM608 396h1v1h-1zM609 396h1v1h-1zM610 397h1v1h-1zM611 398h1v1h-1zM612 399h1v1h-1zM613 399h1v1h-1zM614 400h1v1h-1zM615 401h1v1h-1zM616 402h1v1h-1zM617 403h1v1h-1zM618 403h1v1h-1zM619 402h1v1h-1zM620 401h1v1h-1zM621 400h1v1h-1zM622 398h1v2h-1zM623 398h1v1h-1zM624 396h1v2h-1zM625 395h1v1h-1zM626 394h1v1h-1zM627 392h1v2h-1zM628 390h1v2h-1zM629 388h1v2h-1zM630 386h1v2h-1zM631 384h1v2h-1zM632 382h1v2h-1zM633 379h1v3h-1zM634 377h1v2h-1zM635 375h1v2h-1zM636 372h1v3h-1zM637 370h1v2h-1zM638 367h1v3h-1zM639 365h1v2h-1zM640 363h1v2h-1zM641 360h1v3h-1zM642 358h1v2h-1zM643 356h1v2h-1zM644 354h1v2h-1zM645 351h1v3h-1zM646 349h1v2h-1zM647 347h1v2h-1zM648 345h1v2h-1zM649 343h1v2h-1zM650 341h1v2h-1zM651 339h1v2h-1zM652 338h1v1h-1zM653 337h1v1h-1zM654 336h1v1h-1zM655 334h1v2h-1zM656 333h1v1h-1zM657 332h1v1h-1zM658 330h1v2h-1zM659 329h1v1h-1zM660 327h1v2h-1zM661 326h1v1h-1zM662 324h1v2h-1zM663 323h1v1h-1zM664 321h1v2h-1zM665 320h1v1h-1zM666 318h1v2h-1zM667 316h1v2h-1zM668 314h1v2h-1zM669 312h1v2h-1zM670 310h1v2h-1zM671 308h1v2h-1zM672 307h1v1h-1zM673 305h1v2h-1zM674 303h1v2h-1zM675 301h1v2h-1zM676 300h1v1h-1zM677 298h1v2h-1zM678 296h1v2h-1zM679 294h1v2h-1zM680 293h1v1h-1zM681 291h1v2h-1zM682 289h1v2h-1zM683 287h1v2h-1zM684 286h1v1h-1zM685 284h1v2h-1zM686 282h1v2h-1zM687 280h1v2h-1zM688 278h1v2h-1zM689 277h1v1h-1zM690 275h1v2h-1zM691 273h1v2h-1zM692 272h1v1h-1zM693 270h1v2h-1zM694 268h1v2h-1zM695 267h1v1h-1zM696 264h1v3h-1zM697 263h1v2h-1zM698 262h1v1h-1zM699 260h1v2h-1zM700 258h1v2h-1zM701 257h1v1h-1zM702 256h1v1h-1zM703 255h1v1h-1zM704 255h1v1h-1zM705 255h1v1h-1zM706 254h1v1h-1zM707 254h1v1h-1zM708 254h1v1h-1zM709 253h1v1h-1zM710 253h1v1h-1zM711 253h1v1h-1zM712 253h1v1h-1zM713 253h1v1h-1zM714 253h1v1h-1zM715 253h1v1h-1zM716 253h1v1h-1zM717 253h1v1h-1zM718 253h1v1h-1zM719 253h1v1h-1zM720 254h1v1h-1zM721 254h1v1h-1zM722 254h1v1h-1zM723 254h1v1h-1zM724 255h1v1h-1zM725 254h1v1h-1zM726 254h1v1h-1zM727 253h1v1h-1zM728 253h1v1h-1zM729 252h1v1h-1zM730 252h1v1h-1zM731 252h1v1h-1zM732 251h1v1h-1zM733 251h1v1h-1zM734 251h1v1h-1zM735 251h1v1h-1zM736 251h1v1h-1zM737 251h1v1h-1zM738 250h1v1h-1zM739 250h1v1h-1zM740 250h1v1h-1zM741 249h1v1h-1zM742 249h1v1h-1zM743 248h1v1h-1zM744 248h1v1h-1zM745 248h1v1h-1zM746 248h1v1h-1zM747 248h1v1h-1zM748 248h1v1h-1zM749 248h1v1h-1zM750 248h1v1h-1zM751 248h1v1h-1zM752 247h1v1h-1zM753 246h1v1h-1zM754 245h1v1h-1zM755 244h1v1h-1zM756 243h1v1h-1zM757 243h1v1h-1zM758 242h1v1h-1zM759 241h1v1h-1zM760 240h1v1h-1zM761 239h1v1h-1zM762 239h1v1h-1zM763 239h1v1h-1zM764 239h1v1h-1zM765 239h1v1h-1zM766 239h1v1h-1zM767 239h1v1h-1zM768 240h1v1h-1zM769 240h1v1h-1zM770 240h1v1h-1zM771 241h1v1h-1zM772 241h1v1h-1zM773 241h1v2h-1zM774 242h1v1h-1zM775 242h1v1h-1zM776 243h1v1h-1zM777 243h1v1h-1zM778 244h1v1h-1zM779 244h1v1h-1zM780 245h1v1h-1zM781 245h1v1h-1zM782 246h1v1h-1zM783 246h1v1h-1zM784 247h1v1h-1zM785 247h1v2h-1zM786 248h1v1h-1zM787 248h1v1h-1zM788 249h1v1h-1zM789 249h1v1h-1zM790 250h1v1h-1zM791 250h1v1h-1zM792 249h1v1h-1zM793 249h1v1h-1zM794 248h1v1h-1zM795 248h1v1h-1zM796 247h1v1h-1zM797 247h1v1h-1zM798 246h1v1h-1zM799 246h1v1h-1zM800 245h1v1h-1zM801 245h1v1h-1zM802 245h1v1h-1zM803 245h1v1h-1zM804 245h1v1h-1zM805 245h1v1h-1zM806 245h1v1h-1zM807 245h1v1h-1zM808 245h1v1h-1zM809 245h1v1h-1zM810 245h1v1h-1zM811 245h1v1h-1zM812 245h1v1h-1zM813 245h1v1h-1zM814 246h1v1h-1zM815 246h1v1h-1zM816 246h1v1h-1zM817 246h1v1h-1zM818 246h1v1h-1zM819 246h1v1h-1zM820 246h1v1h-1zM821 246h1v1h-1zM822 246h1v1h-1zM823 246h1v1h-1zM824 246h1v1h-1zM825 245h1v1h-1zM826 245h1v1h-1zM827 245h1v1h-1zM828 245h1v1h-1zM829 245h1v1h-1zM830 244h1v1h-1zM831 244h1v1h-1zM832 244h1v1h-1zM833 243h1v1h-1zM834 243h1v1h-1zM835 243h1v1h-1zM836 243h1v1h-1zM837 243h1v1h-1zM838 243h1v1h-1zM839 243h1v1h-1zM840 243h1v1h-1zM841 243h1v1h-1zM842 244h1v1h-1zM843 244h1v1h-1zM844 244h1v1h-1zM845 245h1v1h-1zM846 245h1v1h-1zM847 244h1v1h-1zM848 243h1v1h-1zM849 243h1v1h-1zM850 242h1v1h-1zM851 242h1v1h-1zM852 241h1v1h-1zM853 241h1v1h-1zM854 241h1v1h-1zM855 241h1v1h-1zM856 241h1v1h-1zM857 240h1v1h-1zM858 240h1v1h-1zM859 240h1v1h-1zM860 240h1v1h-1zM861 240h1v1h-1zM862 240h1v1h-1zM863 240h1v1h-1zM864 240h1v1h-1zM865 240h1v1h-1zM866 240h1v1h-1zM867 240h1v1h-1zM868 240h1v1h-1zM869 240h1v1h-1zM870 240h1v1h-1zM871 240h1v1h-1zM872 240h1v1h-1zM873 240h1v1h-1zM874 240h1v1h-1zM875 240h1v1h-1zM876 241h1v1h-1zM877 242h1v1h-1zM878 242h1v1h-1zM879 243h1v1h-1zM880 244h1v1h-1zM881 245h1v1h-1zM882 246h1v1h-1zM883 246h1v1h-1zM884 247h1v1h-1zM885 248h1v1h-1zM886 249h1v1h-1zM887 250h1v1h-1zM888 251h1v1h-1zM889 252h1v1h-1zM890 252h1v1h-1zM891 253h1v2h-1zM892 254h1v1h-1zM893 255h1v1h-1zM894 255h1v1h-1zM895 256h1v1h-1zM896 257h1v1h-1zM897 257h1v1h-1zM898 258h1v1h-1zM899 258h1v1h-1zM900 258h1v1h-1zM901 259h1v1h-1zM902 259h1v1h-1zM903 259h1v1h-1zM904 260h1v1h-1zM905 260h1v1h-1zM906 261h1v1h-1zM907 261h1v1h-1zM908 262h1v1h-1zM909 263h1v1h-1zM910 264h1v1h-1zM911 265h1v1h-1zM912 266h1v1h-1zM913 267h1v1h-1zM914 268h1v1h-1zM915 269h1v1h-1zM916 270h1v1h-1zM917 271h1v1h-1zM918 272h1v1h-1zM919 273h1v1h-1zM920 274h1v1h-1zM921 275h1v2h-1zM922 277h1v1h-1zM923 278h1v2h-1zM924 280h1v2h-1z" fill="#0000cd"/>
<path d="M5 159h1v1h-1zM6 159h1v1h-1zM7 160h1v1h-1zM8 160h1v2h-1zM9 160h1v1h-1zM10 160h1v1h-1zM11 159h1v1h-1zM12 158h1v2h-1zM13 158h1v1h-1zM14 157h1v1h-1zM15 156h1v1h-1zM16 155h1v1h-1zM17 154h1v1h-1zM18 154h1v1h-1zM19 153h1v1h-1zM20 153h1v1h-1zM21 153h1v1h-1zM22 153h1v1h-1zM23 153h1v1h-1zM24 153h1v1h-1zM25 153h1v1h-1zM26 153h1v1h-1zM27 153h1v1h-1zM28 154h1v1h-1zM29 154h1v1h-1zM30 154h1v1h-1zM31 154h1v1h-1zM32 154h1v1h-1zM33 154h1v1h-1zM34 154h1v1h-1zM35 155h1v1h-1zM36 156h1v1h-1zM37 157h1v1h-1zM38 158h1v1h-1zM39 159h1v1h-1zM40 160h1v1h-1zM41 161h1v1h-1zM42 162h1v2h-1zM43 163h1v1h-1zM44 164h1v1h-1zM45 165h1v1h-1zM46 166h1v2h-1zM47 167h1v1h-1zM48 168h1v1h-1zM49 168h1v1h-1zM50 169h1v1h-1zM51 170h1v1h-1zM52 170h1v1h-1zM53 171h1v1h-1zM54 171h1v2h-1zM55 173h1v2h-1zM56 175h1v3h-1zM57 178h1v2h-1zM58 180h1v2h-1zM59 182h1v3h-1zM60 185h1v2h-1zM61 187h1v2h-1zM62 189h1v2h-1zM63 191h1v2h-1zM64 193h1v2h-1zM65 195h1v2h-1zM66 197h1v3h-1zM67 200h1v2h-1zM68 202h1v3h-1zM69 205h1v2h-1zM70 207h1v3h-1zM71 210h1v2h-1zM72 212h1v3h-1zM73 215h1v2h-1zM74 217h1v2h-1zM75 219h1v2h-1zM76 221h1v2h-1zM77 223h1v3h-1zM78 226h1v1h-1zM79 227h1v2h-1zM80 229h1v1h-1zM81 230h1v2h-1zM82 232h1v1h-1zM83 233h1v2h-1zM84 235h1v2h-1zM85 237h1v2h-1zM86 239h1v2h-1zM87 241h1v2h-1zM88 243h1v2h-1zM89 245h1v2h-1zM90 247h1v2h-1zM91 249h1v2h-1zM92 251h1v2h-1zM93 253h1v2h-1zM94 254h1v1h-1zM95 255h1v1h-1zM96 255h1v1h-1zM97 256h1v1h-1zM98 257h1v1h-1zM99 257h1v1h-1zM100 258h1v1h-1zM101 258h1v1h-1zM102 258h1v1h-1zM103 259h1v1h-1zM104 259h1v1h-1zM105 259h1v1h-1zM106 260h1v1h-1zM107 260h1v1h-1zM108 261h1v1h-1zM109 262h1v1h-1zM110 262h1v1h-1zM111 262h1v1h-1zM112 261h1v1h-1zM113 260h1v1h-1zM114 259h1v1h-1zM115 258h1v2h-1zM116 258h1v1h-1zM117 257h1v1h-1zM118 256h1v1h-1zM119 255h1v1h-1zM120 253h1v2h-1zM121 253h1v1h-1zM122 252h1v1h-1zM123 251h1v1h-1zM124 250h1v1h-1zM125 248h1v2h-1zM126 248h1v1h-1zM127 247h1v1h-1zM128 246h1v1h-1zM129 245h1v1h-1zM130 244h1v1h-1zM131 244h1v1h-1zM132 244h1v1h-1zM133 244h1v1h-1zM134 244h1v1h-1zM135 244h1v1h-1zM136 243h1v1h-1zM137 243h1v1h-1zM138 242h1v1h-1zM139 242h1v1h-1zM140 241h1v1h-1zM141 241h1v1h-1zM142 241h1v1h-1zM143 241h1v1h-1zM144 241h1v1h-1zM145 241h1v1h-1zM146 241h1v1h-1zM147 242h1v1h-1zM148 243h1v1h-1zM149 244h1v1h-1zM150 244h1v1h-1zM151 244h1v1h-1zM152 245h1v1h-1zM153 245h1v1h-1zM154 245h1v1h-1zM155 246h1v1h-1zM156 247h1v2h-1zM157 249h1v1h-1zM158 250h1v2h-1zM159 251h1v1h-1zM160 251h1v1h-1zM161 252h1v1h-1zM162 252h1v1h-1zM163 252h1v2h-1zM164 253h1v1h-1zM165 253h1v1h-1zM166 253h1v1h-1zM167 253h1v1h-1zM168 253h1v1h-1zM169 253h1v1h-1zM170 253h1v1h-1zM171 253h1v1h-1zM172 253h1v1h-1zM173 253h1v2h-1zM174 254h1v2h-1zM175 256h1v1h-1zM176 257h1v2h-1zM177 259h1v2h-1zM178 261h1v2h-1zM179 263h1v2h-1zM180 265h1v2h-1zM181 267h1v3h-1zM182 270h1v2h-1zM183 272h1v2h-1zM184 274h1v2h-1zM185 276h1v3h-1zM186 279h1v2h-1zM187 281h1v2h-1zM188 283h1v2h-1zM189 285h1v2h-1zM190 287h1v2h-1zM191 289h1v3h-1zM192 292h1v2h-1zM193 294h1v2h-1zM194 296h1v1h-1zM195 297h1v2h-1zM196 299h1v2h-1zM197 301h1v1h-1zM198 302h1v2h-1zM199 304h1v1h-1zM200 305h1v1h-1zM201 306h1v1h-1zM202 306h1v1h-1zM203 307h1v2h-1zM204 308h1v1h-1zM205 309h1v1h-1zM206 309h1v1h-1zM207 310h1v1h-1zM208 310h1v2h-1zM209 311h1v1h-1zM210 312h1v1h-1zM211 312h1v1h-1zM212 313h1v1h-1zM213 313h1v1h-1zM214 314h1v1h-1zM215 314h1v1h-1zM216 314h1v1h-1zM217 315h1v1h-1zM218 315h1v1h-1zM219 315h1v1h-1zM220 316h1v1h-1zM221 316h1v1h-1zM222 316h1v1h-1zM223 315h1v1h-1zM224 315h1v1h-1zM225 315h1v1h-1zM226 315h1v1h-1zM227 314h1v1h-1zM228 314h1v1h-1zM229 313h1v1h-1zM230 313h1v1h-1zM231 312h1v1h-1zM232 312h1v1h-1zM233 311h1v1h-1zM234 311h1v1h-1zM235 309h1v2h-1zM236 308h1v1h-1zM237 307h1v1h-1zM238 306h1v1h-1zM239 304h1v2h-1zM240 302h1v2h-1zM241 300h1v2h-1zM242 298h1v2h-1zM243 296h1v2h-1zM244 294h1v2h-1zM245 292h1v2h-1zM246 290h1v2h-1zM247 288h1v2h-1zM248 286h1v2h-1zM249 284h1v2h-1zM250 282h1v2h-1zM251 281h1v1h-1zM252 279h1v2h-1zM253 277h1v2h-1zM254 275h1v2h-1zM255 273h1v2h-1zM256 271h1v2h-1zM257 270h1v1h-1zM258 268h1v2h-1zM259 266h1v2h-1zM260 264h1v2h-1zM261 262h1v2h-1zM262 260h1v2h-1zM263 259h1v1h-1zM264 256h1v3h-1zM265 255h1v2h-1zM266 253h1v2h-1zM267 252h1v1h-1zM268 250h1v2h-1zM269 248h1v2h-1zM270 245h1v3h-1zM271 242h1v3h-1zM272 239h1v3h-1zM273 237h1v2h-1zM274 235h1v2h-1zM275 233h1v2h-1zM276 231h1v2h-1zM277 229h1v2h-1zM278 228h1v1h-1zM279 227h1v1h-1zM280 226h1v1h-1zM281 224h1v2h-1zM282 224h1v1h-1zM283 222h1v2h-1zM284 221h1v1h-1zM285 220h1v1h-1zM286 219h1v1h-1zM287 218h1v1h-1zM288 216h1v2h-1zM289 215h1v1h-1zM290 214h1v1h-1zM291 212h1v2h-1zM292 211h1v1h-1zM293 210h1v1h-1zM294 209h1v1h-1zM295 208h1v1h-1zM296 207h1v1h-1zM297 207h1v1h-1zM298 205h1v2h-1zM299 205h1v1h-1zM300 204h1v1h-1zM301 203h1v1h-1zM302 203h1v1h-1zM303 202h1v1h-1zM304 201h1v1h-1zM305 200h1v1h-1zM306 199h1v1h-1zM307 198h1v1h-1zM308 197h1v1h-1zM309 196h1v1h-1zM310 195h1v1h-1zM311 194h1v1h-1zM312 192h1v2h-1zM313 191h1v1h-1zM314 189h1v2h-1zM315 188h1v1h-1zM316 187h1v1h-1zM317 187h1v1h-1zM318 187h1v1h-1zM319 187h1v1h-1zM320 187h1v1h-1zM321 187h1v1h-1zM322 187h1v1h-1zM323 187h1v1h-1zM324 187h1v1h-1zM325 187h1v1h-1zM326 188h1v1h-1zM327 189h1v1h-1zM328 190h1v1h-1zM329 191h1v1h-1zM330 190h1v1h-1zM331 189h1v1h-1zM332 189h1v1h-1zM333 188h1v1h-1zM334 187h1v1h-1zM335 186h1v2h-1zM336 184h1v2h-1zM337 183h1v1h-1zM338 181h1v2h-1zM339 179h1v2h-1zM340 178h1v1h-1zM341 176h1v2h-1zM342 174h1v2h-1zM343 173h1v1h-1zM344 171h1v2h-1zM345 168h1v3h-1zM346 166h1v2h-1zM347 163h1v3h-1zM348 160h1v3h-1zM349 158h1v2h-1zM350 156h1v2h-1zM351 154h1v2h-1zM352 151h1v3h-1zM353 149h1v2h-1zM354 147h1v2h-1zM355 144h1v3h-1zM356 142h1v2h-1zM357 140h1v2h-1zM358 137h1v3h-1zM359 136h1v2h-1zM360 133h1v3h-1zM361 131h1v2h-1zM362 129h1v2h-1zM363 127h1v2h-1zM364 126h1v1h-1zM365 124h1v2h-1zM366 123h1v1h-1zM367 121h1v2h-1zM368 120h1v1h-1zM369 118h1v2h-1zM370 117h1v1h-1zM371 115h1v2h-1zM372 114h1v1h-1zM373 112h1v2h-1zM374 111h1v1h-1zM375 109h1v2h-1zM376 108h1v1h-1zM377 106h1v2h-1zM378 105h1v1h-1zM379 103h1v2h-1zM380 102h1v1h-1zM381 100h1v2h-1zM382 100h1v1h-1zM383 99h1v1h-1zM384 99h1v1h-1zM385 98h1v1h-1zM386 97h1v1h-1zM387 97h1v1h-1zM388 97h1v1h-1zM389 96h1v1h-1zM390 96h1v1h-1zM391 95h1v1h-1zM392 95h1v1h-1zM393 95h1v1h-1zM394 95h1v1h-1zM395 95h1v1h-1zM396 95h1v1h-1zM397 95h1v1h-1zM398 95h1v2h-1zM399 97h1v1h-1zM400 98h1v1h-1zM401 99h1v2h-1zM402 101h1v2h-1zM403 102h1v2h-1zM404 104h1v2h-1zM405 106h1v1h-1zM406 107h1v2h-1zM407 109h1v2h-1zM408 110h1v2h-1zM409 112h1v1h-1zM410 113h1v2h-1zM411 115h1v1h-1zM412 116h1v2h-1zM413 118h1v2h-1zM414 120h1v2h-1zM415 122h1v1h-1zM416 123h1v2h-1zM417 125h1v2h-1zM418 127h1v2h-1zM419 129h1v3h-1zM420 132h1v2h-1zM421 134h1v2h-1zM422 136h1v2h-1zM423 138h1v2h-1zM424 140h1v2h-1zM425 142h1v1h-1zM426 143h1v2h-1zM427 145h1v2h-1zM428 147h1v2h-1zM429 149h1v2h-1zM430 151h1v2h-1zM431 153h1v1h-1zM432 154h1v2h-1zM433 156h1v2h-1zM434 158h1v2h-1zM435 160h1v2h-1zM436 162h1v3h-1zM437 165h1v2h-1zM438 167h1v3h-1zM439 170h1v3h-1zM440 173h1v3h-1zM441 176h1v2h-1zM442 178h1v3h-1zM443 181h1v2h-1zM444 183h1v3h-1zM445 186h1v2h-1zM446 188h1v2h-1zM447 190h1v3h-1zM448 193h1v2h-1zM449 195h1v3h-1zM450 198h1v2h-1zM451 200h1v3h-1zM452 203h1v2h-1zM453 205h1v3h-1zM454 208h1v2h-1zM455 210h1v2h-1zM456 212h1v2h-1zM457 214h1v2h-1zM458 216h1v2h-1zM459 218h1v1h-1zM460 219h1v1h-1zM461 220h1v2h-1zM462 222h1v1h-1zM463 223h1v2h-1zM464 225h1v2h-1zM465 227h1v1h-1zM466 228h1v2h-1zM467 230h1v1h-1zM468 231h1v2h-1zM469 233h1v1h-1zM470 234h1v1h-1zM471 235h1v2h-1zM472 236h1v2h-1zM473 238h1v1h-1zM474 239h1v1h-1zM475 240h1v1h-1zM476 241h1v2h-1zM477 242h1v2h-1zM478 244h1v1h-1zM479 245h1v2h-1zM480 247h1v2h-1zM481 249h1v3h-1zM482 252h1v2h-1zM483 254h1v3h-1zM484 257h1v2h-1zM485 259h1v3h-1zM486 262h1v3h-1zM487 265h1v3h-1zM488 268h1v2h-1zM489 270h1v2h-1zM490 272h1v2h-1zM491 274h1v2h-1zM492 276h1v2h-1zM493 277h1v1h-1zM494 278h1v1h-1zM495 278h1v1h-1zM496 279h1v1h-1zM497 280h1v1h-1zM498 280h1v1h-1zM499 281h1v2h-1zM500 283h1v1h-1zM501 284h1v1h-1zM502 285h1v2h-1zM503 286h1v1h-1zM504 287h1v1h-1zM505 288h1v1h-1zM506 289h1v2h-1zM507 291h1v2h-1zM508 292h1v1h-1zM509 292h1v1h-1zM510 293h1v1h-1zM511 294h1v1h-1zM512 295h1v1h-1zM513 295h1v2h-1zM514 296h1v2h-1zM515 298h1v2h-1zM516 300h1v2h-1zM517 302h1v2h-1zM518 304h1v1h-1zM519 305h1v1h-1zM520 306h1v2h-1zM521 308h1v1h-1zM522 309h1v2h-1zM523 311h1v2h-1zM524 313h1v1h-1zM525 314h1v2h-1zM526 316h1v2h-1zM527 318h1v1h-1zM528 319h1v1h-1zM529 320h1v1h-1zM530 321h1v1h-1zM531 322h1v2h-1zM532 323h1v1h-1zM533 323h1v1h-1zM534 324h1v1h-1zM535 324h1v1h-1zM536 324h1v2h-1zM537 325h1v1h-1zM538 325h1v1h-1zM539 325h1v1h-1zM540 326h1v1h-1zM541 326h1v1h-1zM542 327h1v1h-1zM543 327h1v1h-1zM544 328h1v1h-1zM545 329h1v1h-1zM546 330h1v2h-1zM547 332h1v2h-1zM548 334h1v2h-1zM549 336h1v3h-1zM550 339h1v2h-1zM551 341h1v3h-1zM552 344h1v3h-1zM553 347h1v3h-1zM554 350h1v2h-1zM555 352h1v3h-1zM556 355h1v2h-1zM557 357h1v2h-1zM558 359h1v3h-1zM559 362h1v2h-1zM560 364h1v2h-1zM561 366h1v2h-1zM562 368h1v2h-1zM563 370h1v3h-1zM564 373h1v2h-1zM565 375h1v2h-1zM566 377h1v2h-1zM567 379h1v3h-1zM568 381h1v1h-1zM569 382h1v1h-1zM570 383h1v1h-1zM571 384h1v1h-1zM572 385h1v2h-1zM573 387h1v1h-1zM574 388h1v1h-1zM575 389h1v2h-1zM576 391h1v1h-1zM577 392h1v2h-1zM578 394h1v1h-1zM579 395h1v1h-1zM580 396h1v2h-1zM581 398h1v1h-1zM582 399h1v2h-1zM583 401h1v1h-1zM584 402h1v2h-1zM585 404h1v1h-1zM586 405h1v2h-1zM587 407h1v1h-1zM588 408h1v2h-1zM589 410h1v1h-1zM590 410h1v1h-1zM591 411h1v1h-1zM592 412h1v1h-1zM593 413h1v2h-1zM594 414h1v1h-1zM595 414h1v1h-1zM596 414h1v1h-1zM597 415h1v1h-1zM598 415h1v1h-1zM599 415h1v1h-1zM600 415h1v1h-1zM601 414h1v1h-1zM602 414h1v1h-1zM603 413h1v1h-1zM604 413h1v1h-1zM605 412h1v1h-1zM606 411h1v1h-1zM607 410h1v1h-1zM608 408h1v2h-1zM609 407h1v1h-1zM610 405h1v2h-1zM611 403h1v2h-1zM612 402h1v1h-1zM613 401h1v1h-1zM614 400h1v1h-1zM615 398h1v2h-1zM616 397h1v1h-1zM617 396h1v1h-1zM618 395h1v1h-1zM619 394h1v1h-1zM620 393h1v1h-1zM621 389h1v4h-1zM622 385h1v4h-1zM623 382h1v3h-1zM624 379h1v3h-1zM625 377h1v2h-1zM626 375h1v2h-1zM627 373h1v2h-1zM628 371h1v2h-1zM629 369h1v2h-1zM630 367h1v2h-1zM631 365h1v2h-1zM632 363h1v2h-1zM633 361h1v2h-1zM634 358h1v3h-1zM635 356h1v2h-1zM636 353h1v3h-1zM637 351h1v2h-1zM638 348h1v3h-1zM639 346h1v2h-1zM640 343h1v3h-1zM641 341h1v2h-1zM642 338h1v3h-1zM643 336h1v2h-1zM644 333h1v3h-1zM645 331h1v2h-1zM646 329h1v2h-1zM647 326h1v3h-1zM648 324h1v2h-1zM649 321h1v3h-1zM650 318h1v3h-1zM651 315h1v3h-1zM652 312h1v3h-1zM653 308h1v4h-1zM654 306h1v3h-1zM655 303h1v3h-1zM656 300h1v3h-1zM657 296h1v4h-1zM658 295h1v2h-1zM659 293h1v2h-1zM660 291h1v2h-1zM661 289h1v2h-1zM662 286h1v3h-1zM663 285h1v2h-1zM664 282h1v3h-1zM665 280h1v2h-1zM666 278h1v2h-1zM667 275h1v3h-1zM668 273h1v2h-1zM669 271h1v2h-1zM670 269h1v2h-1zM671 266h1v3h-1zM672 265h1v1h-1zM673 264h1v1h-1zM674 263h1v1h-1zM675 262h1v2h-1zM676 262h1v1h-1zM677 262h1v1h-1zM678 261h1v1h-1zM679 261h1v1h-1zM680 260h1v1h-1zM681 260h1v1h-1zM682 260h1v1h-1zM683 259h1v1h-1zM684 259h1v1h-1zM685 259h1v1h-1zM686 258h1v1h-1zM687 258h1v1h-1zM688 258h1v1h-1zM689 257h1v1h-1zM690 257h1v1h-1zM691 256h1v1h-1zM692 256h1v1h-1zM693 255h1v2h-1zM694 255h1v1h-1zM695 255h1v1h-1zM696 254h1v1h-1zM697 254h1v1h-1zM698 254h1v1h-1zM699 253h1v1h-1zM700 253h1v1h-1zM701 253h1v1h-1zM702 252h1v1h-1zM703 252h1v1h-1zM704 252h1v1h-1zM705 251h1v1h-1zM706 251h1v1h-1zM707 251h1v1h-1zM708 250h1v1h-1zM709 250h1v1h-1zM710 250h1v1h-1zM711 250h1v1h-1zM712 250h1v1h-1zM713 250h1v1h-1zM714 250h1v1h-1zM715 250h1v1h-1zM716 250h1v1h-1zM717 250h1v1h-1zM718 250h1v1h-1zM719 250h1v1h-1zM720 250h1v1h-1zM721 250h1v1h-1zM722 249h1v1h-1zM723 249h1v1h-1zM724 248h1v1h-1zM725 248h1v1h-1zM726 247h1v1h-1zM727 247h1v1h-1zM728 247h1v1h-1zM729 246h1v1h-1zM730 246h1v1h-1zM731 245h1v1h-1zM732 245h1v1h-1zM733 245h1v1h-1zM734 245h1v1h-1zM735 245h1v1h-1zM736 245h1v1h-1zM737 245h1v1h-1zM738 245h1v1h-1zM739 245h1v1h-1zM740 244h1v1h-1zM741 244h1v1h-1zM742 244h1v1h-1zM743 245h1v1h-1zM744 245h1v1h-1zM745 245h1v1h-1zM746 245h1v1h-1zM747 245h1v1h-1zM748 246h1v1h-1zM749 246h1v1h-1zM750 247h1v1h-1zM751 247h1v2h-1zM752 247h1v1h-1zM753 247h1v1h-1zM754 247h1v1h-1zM755 247h1v1h-1zM756 245h1v2h-1zM757 244h1v1h-1zM758 243h1v1h-1zM759 241h1v2h-1zM760 241h1v1h-1zM761 240h1v1h-1zM762 240h1v1h-1zM763 240h1v1h-1zM764 239h1v1h-1zM765 239h1v1h-1zM766 239h1v1h-1zM767 239h1v1h-1zM768 239h1v1h-1zM769 239h1v1h-1zM770 239h1v1h-1zM771 239h1v1h-1zM772 239h1v1h-1zM773 239h1v1h-1zM774 239h1v1h-1zM775 240h1v1h-1zM776 240h1v1h-1zM777 241h1v1h-1zM778 241h1v2h-1zM779 242h1v1h-1zM780 242h1v1h-1zM781 243h1v1h-1zM782 243h1v1h-1zM783 244h1v1h-1zM784 244h1v1h-1zM785 245h1v1h-1zM786 246h1v2h-1zM787 248h1v1h-1zM788 249h1v1h-1zM789 249h1v1h-1zM790 249h1v1h-1zM791 249h1v1h-1zM792 250h1v1h-1zM793 249h1v1h-1zM794 249h1v1h-1zM795 249h1v1h-1zM796 248h1v1h-1zM797 248h1v1h-1zM798 248h1v1h-1zM799 247h1v1h-1zM800 247h1v1h-1zM801 247h1v1h-1zM802 247h1v1h-1zM803 247h1v1h-1zM804 247h1v1h-1zM805 247h1v1h-1zM806 247h1v1h-1zM807 247h1v1h-1zM808 247h1v1h-1zM809 248h1v1h-1zM810 249h1v1h-1zM811 250h1v2h-1zM812 252h1v1h-1zM813 253h1v1h-1zM814 254h1v1h-1zM815 254h1v1h-1zM816 255h1v1h-1zM817 256h1v1h-1zM818 256h1v1h-1zM819 255h1v1h-1zM820 255h1v1h-1zM821 254h1v1h-1zM822 254h1v1h-1zM823 253h1v2h-1zM824 253h1v1h-1zM825 252h1v1h-1zM826 252h1v1h-1zM827 251h1v1h-1zM828 250h1v1h-1zM829 249h1v2h-1zM830 248h1v1h-1zM831 247h1v1h-1zM832 246h1v1h-1zM833 244h1v2h-1zM834 244h1v1h-1zM835 243h1v1h-1zM836 243h1v1h-1zM837 242h1v1h-1zM838 242h1v1h-1zM839 240h1v2h-1zM840 238h1v2h-1zM841 237h1v1h-1zM842 235h1v2h-1zM843 234h1v1h-1zM844 233h1v1h-1zM845 232h1v1h-1zM846 231h1v1h-1zM847 231h1v1h-1zM848 231h1v1h-1zM849 231h1v1h-1zM850 231h1v1h-1zM851 231h1v1h-1zM852 231h1v1h-1zM853 232h1v1h-1zM854 232h1v1h-1zM855 232h1v1h-1zM856 232h1v1h-1zM857 233h1v1h-1zM858 233h1v1h-1zM859 233h1v1h-1zM860 233h1v1h-1zM861 233h1v1h-1zM862 234h1v1h-1zM863 234h1v1h-1zM864 234h1v1h-1zM865 235h1v1h-1zM866 235h1v1h-1zM867 235h1v1h-1zM868 236h1v1h-1zM869 236h1v1h-1zM870 237h1v1h-1zM871 238h1v1h-1zM872 238h1v1h-1zM873 238h1v1h-1zM874 239h1v1h-1zM875 239h1v1h-1zM876 240h1v1h-1zM877 241h1v1h-1zM878 242h1v1h-1zM879 243h1v1h-1zM880 244h1v1h-1zM881 245h1v2h-1zM882 247h1v1h-1zM883 248h1v1h-1zM884 249h1v2h-1zM885 251h1v1h-1zM886 252h1v2h-1zM887 254h1v1h-1zM888 255h1v2h-1zM889 257h1v2h-1zM890 259h1v2h-1zM891 261h1v3h-1zM892 264h1v2h-1zM893 266h1v2h-1zM894 268h1v2h-1zM895 270h1v1h-1zM896 271h1v2h-1zM897 273h1v1h-1zM898 274h1v1h-1zM899 275h1v1h-1zM900 276h1v2h-1zM901 277h1v1h-1zM902 278h1v1h-1zM903 279h1v1h-1zM904 280h1v1h-1zM905 281h1v1h-1zM906 281h1v1h-1zM907 282h1v1h-1zM908 282h1v1h-1zM909 283h1v1h-1zM910 284h1v1h-1zM911 284h1v1h-1zM912 285h1v1h-1zM913 286h1v2h-1zM914 288h1v1h-1zM915 289h1v2h-1zM916 291h1v2h-1zM917 293h1v1h-1zM918 293h1v1h-1zM919 294h1v1h-1zM920 294h1v1h-1zM921 294h1v2h-1zM922 295h1v1h-1zM923 296h1v1h-1zM924 297h1v1h-1z" fill="#ff0000"/>
<rect x="5" y="145" width="1" height="41" fill="#ff0000"/>
<rect x="9" y="160" width="1" height="17" fill="#ff0000"/>
<rect x="8" y="164" width="3" height="11" fill="#ff0000"/>
<rect x="9" y="165" width="1" height="9" fill="#ff4500"/>
<rect x="13" y="108" width="1" height="55" fill="#ff0000"/>
<rect x="12" y="138" width="3" height="20" fill="#ff0000"/>
<rect x="13" y="139" width="1" height="18" fill="#ff4500"/>
<rect x="17" y="117" width="1" height="36" fill="#ff0000"/>
<rect x="16" y="130" width="3" height="8" fill="#ff0000"/>
<rect x="17" y="131" width="1" height="6" fill="#ff4500"/>
<rect x="21" y="119" width="1" height="51" fill="#32cd32"/>
<rect x="20" y="130" width="3" height="16" fill="#32cd32"/>
<rect x="21" y="131" width="1" height="14" fill="#32cd32"/>
<rect x="25" y="138" width="1" height="40" fill="#32cd32"/>
<rect x="24" y="145" width="3" height="32" fill="#32cd32"/>
<rect x="25" y="146" width="1" height="30" fill="#32cd32"/>
<rect x="29" y="167" width="1" height="12" fill="#ff0000"/>
<rect x="28" y="173" width="3" height="4" fill="#ff0000"/>
<rect x="29" y="174" width="1" height="2" fill="#ff4500"/>
<rect x="33" y="139" width="1" height="41" fill="#ff0000"/>
<rect x="32" y="142" width="3" height="32" fill="#ff0000"/>
<rect x="33" y="143" width="1" height="30" fill="#ff4500"/>
<rect x="37" y="138" width="1" height="42" fill="#32cd32"/>
<rect x="36" y="142" width="3" height="22" fill="#32cd32"/>
<rect x="37" y="143" width="1" height="20" fill="#32cd32"/>
<rect x="41" y="160" width="1" height="43" fill="#32cd32"/>
<rect x="40" y="161" width="3" height="38" fill="#32cd32"/>
<rect x="41" y="162" width="1" height="36" fill="#32cd32"/>
<rect x="45" y="174" width="1" height="52" fill="#32cd32"/>
<rect x="44" y="198" width="3" height="14" fill="#32cd32"/>
<rect x="45" y="199" width="1" height="12" fill="#32cd32"/>
<rect x="49" y="197" width="1" height="19" fill="#ff0000"/>
<rect x="48" y="205" width="3" height="7" fill="#ff0000"/>
<rect x="49" y="206" width="1" height="5" fill="#ff4500"/>
<rect x="52" y="199" width="3" height="1" fill="#000"/>
<rect x="57" y="214" width="1" height="101" fill="#32cd32"/>
<rect x="56" y="218" width="3" height="75" fill="#32cd32"/>
<rect x="57" y="219" width="1" height="73" fill="#32cd32"/>
<rect x="61" y="267" width="1" height="97" fill="#32cd32"/>
<rect x="60" y="292" width="3" height="22" fill="#32cd32"/>
<rect x="61" y="293" width="1" height="20" fill="#32cd32"/>
<rect x="65" y="283" width="1" height="59" fill="#ff0000"/>
<rect x="64" y="290" width="3" height="24" fill="#ff0000"/>
<rect x="65" y="291" width="1" height="22" fill="#ff4500"/>
<rect x="69" y="257" width="1" height="63" fill="#ff0000"/>
<rect x="68" y="257" width="3" height="34" fill="#ff0000"/>
<rect x="69" y="258" width="1" height="32" fill="#ff4500"/>
<rect x="73" y="245" width="1" height="46" fill="#32cd32"/>
<rect x="72" y="258" width="3" height="26" fill="#32cd32"/>
<rect x="73" y="259" width="1" height="24" fill="#32cd32"/>
<rect x="77" y="248" width="1" height="41" fill="#ff0000"/>
<rect x="76" y="265" width="3" height="19" fill="#ff0000"/>
<rect x="77" y="266" width="1" height="17" fill="#ff4500"/>
<rect x="81" y="222" width="1" height="41" fill="#ff0000"/>
<rect x="80" y="246" width="3" height="6" fill="#ff0000"/>
<rect x="81" y="247" width="1" height="4" fill="#ff4500"/>
<rect x="85" y="241" width="1" height="51" fill="#32cd32"/>
<rect x="84" y="246" width="3" height="32" fill="#32cd32"/>
<rect x="85" y="247" width="1" height="30" fill="#32cd32"/>
<rect x="89" y="263" width="1" height="51" fill="#ff0000"/>
<rect x="88" y="270" width="3" height="8" fill="#ff0000"/>
<rect x="89" y="271" width="1" height="6" fill="#ff4500"/>
<rect x="93" y="246" width="1" height="36" fill="#ff0000"/>
<rect x="92" y="255" width="3" height="17" fill="#ff0000"/>
<rect x="93" y="256" width="1" height="15" fill="#ff4500"/>
<rect x="97" y="232" width="1" height="42" fill="#ff0000"/>
<rect x="96" y="236" width="3" height="19" fill="#ff0000"/>
<rect x="97" y="237" width="1" height="17" fill="#ff4500"/>
<rect x="101" y="230" width="1" height="14" fill="#ff0000"/>
<rect x="100" y="232" width="3" height="6" fill="#ff0000"/>
<rect x="101" y="233" width="1" height="4" fill="#ff4500"/>
<rect x="105" y="191" width="1" height="50" fill="#ff0000"/>
<rect x="104" y="210" width="3" height="19" fill="#ff0000"/>
<rect x="105" y="211" width="1" height="17" fill="#ff4500"/>
<rect x="109" y="206" width="1" height="47" fill="#32cd32"/>
<rect x="108" y="210" width="3" height="35" fill="#32cd32"/>
<rect x="109" y="211" width="1" height="33" fill="#32cd32"/>
<rect x="113" y="233" width="1" height="41" fill="#32cd32"/>
<rect x="112" y="245" width="3" height="29" fill="#32cd32"/>
<rect x="113" y="246" width="1" height="27" fill="#32cd32"/>
<rect x="117" y="262" width="1" height="25" fill="#ff0000"/>
<rect x="116" y="265" width="3" height="9" fill="#ff0000"/>
<rect x="117" y="266" width="1" height="7" fill="#ff4500"/>
<rect x="121" y="207" width="1" height="66" fill="#ff0000"/>
<rect x="120" y="215" width="3" height="51" fill="#ff0000"/>
<rect x="121" y="216" width="1" height="49" fill="#ff4500"/>
<rect x="125" y="206" width="1" height="18" fill="#ff0000"/>
<rect x="124" y="209" width="3" height="8" fill="#ff0000"/>
<rect x="125" y="210" width="1" height="6" fill="#ff4500"/>
<rect x="129" y="210" width="1" height="28" fill="#32cd32"/>
<rect x="128" y="216" width="3" height="6" fill="#32cd32"/>
<rect x="129" y="217" width="1" height="4" fill="#32cd32"/>
<rect x="133" y="216" width="1" height="44" fill="#32cd32"/>
<rect x="132" y="221" width="3" height="37" fill="#32cd32"/>
<rect x="133" y="222" width="1" height="35" fill="#32cd32"/>
<rect x="137" y="203" width="1" height="63" fill="#ff0000"/>
<rect x="136" y="215" width="3" height="42" fill="#ff0000"/>
<rect x="137" y="216" width="1" height="40" fill="#ff4500"/>
<rect x="141" y="177" width="1" height="84" fill="#32cd32"/>
<rect x="140" y="215" width="3" height="36" fill="#32cd32"/>
<rect x="141" y="216" width="1" height="34" fill="#32cd32"/>
<rect x="145" y="239" width="1" height="76" fill="#32cd32"/>
<rect x="144" y="250" width="3" height="61" fill="#32cd32"/>
<rect x="145" y="251" width="1" height="59" fill="#32cd32"/>
<rect x="149" y="284" width="1" height="28" fill="#ff0000"/>
<rect x="148" y="294" width="3" height="17" fill="#ff0000"/>
<rect x="149" y="295" width="1" height="15" fill="#ff4500"/>
<rect x="153" y="242" width="1" height="67" fill="#ff0000"/>
<rect x="152" y="245" width="3" height="41" fill="#ff0000"/>
<rect x="153" y="246" width="1" height="39" fill="#ff4500"/>
<rect x="157" y="242" width="1" height="45" fill="#32cd32"/>
<rect x="156" y="246" width="3" height="26" fill="#32cd32"/>
<rect x="157" y="247" width="1" height="24" fill="#32cd32"/>
<rect x="161" y="263" width="1" height="24" fill="#ff0000"/>
<rect x="160" y="271" width="3" height="1" fill="#ff0000"/>
<rect x="165" y="244" width="1" height="40" fill="#ff0000"/>
<rect x="164" y="247" width="3" height="21" fill="#ff0000"/>
<rect x="165" y="248" width="1" height="19" fill="#ff4500"/>
<rect x="169" y="226" width="1" height="50" fill="#32cd32"/>
<rect x="168" y="247" width="3" height="27" fill="#32cd32"/>
<rect x="169" y="248" width="1" height="25" fill="#32cd32"/>
<rect x="173" y="272" width="1" height="8" fill="#32cd32"/>
<rect x="172" y="273" width="3" height="5" fill="#32cd32"/>
<rect x="173" y="274" width="1" height="3" fill="#32cd32"/>
<rect x="177" y="272" width="1" height="42" fill="#32cd32"/>
<rect x="176" y="279" width="3" height="32" fill="#32cd32"/>
<rect x="177" y="280" width="1" height="30" fill="#32cd32"/>
<rect x="181" y="297" width="1" height="53" fill="#32cd32"/>
<rect x="180" y="311" width="3" height="37" fill="#32cd32"/>
<rect x="181" y="312" width="1" height="35" fill="#32cd32"/>
<rect x="185" y="329" width="1" height="35" fill="#ff0000"/>
<rect x="184" y="335" width="3" height="13" fill="#ff0000"/>
<rect x="185" y="336" width="1" height="11" fill="#ff4500"/>
<rect x="189" y="323" width="1" height="33" fill="#32cd32"/>
<rect x="188" y="335" width="3" height="17" fill="#32cd32"/>
<rect x="189" y="336" width="1" height="15" fill="#32cd32"/>
<rect x="193" y="317" width="1" height="39" fill="#ff0000"/>
<rect x="192" y="345" width="3" height="8" fill="#ff0000"/>
<rect x="193" y="346" width="1" height="6" fill="#ff4500"/>
<rect x="197" y="342" width="1" height="9" fill="#32cd32"/>
<rect x="196" y="346" width="3" height="2" fill="#32cd32"/>
<rect x="201" y="344" width="1" height="41" fill="#32cd32"/>
<rect x="200" y="346" width="3" height="30" fill="#32cd32"/>
<rect x="201" y="347" width="1" height="28" fill="#32cd32"/>
<rect x="205" y="332" width="1" height="53" fill="#ff0000"/>
<rect x="204" y="344" width="3" height="32" fill="#ff0000"/>
<rect x="205" y="345" width="1" height="30" fill="#ff4500"/>
<rect x="209" y="295" width="1" height="53" fill="#ff0000"/>
<rect x="208" y="303" width="3" height="42" fill="#ff0000"/>
<rect x="209" y="304" width="1" height="40" fill="#ff4500"/>
<rect x="213" y="255" width="1" height="78" fill="#ff0000"/>
<rect x="212" y="257" width="3" height="47" fill="#ff0000"/>
<rect x="213" y="258" width="1" height="45" fill="#ff4500"/>
<rect x="217" y="256" width="1" height="54" fill="#32cd32"/>
<rect x="216" y="258" width="3" height="25" fill="#32cd32"/>
<rect x="217" y="259" width="1" height="23" fill="#32cd32"/>
<rect x="221" y="269" width="1" height="23" fill="#ff0000"/>
<rect x="220" y="272" width="3" height="11" fill="#ff0000"/>
<rect x="221" y="273" width="1" height="9" fill="#ff4500"/>
<rect x="225" y="248" width="1" height="50" fill="#ff0000"/>
<rect x="224" y="251" width="3" height="43" fill="#ff0000"/>
<rect x="225" y="252" width="1" height="41" fill="#ff4500"/>
<rect x="229" y="250" width="1" height="42" fill="#32cd32"/>
<rect x="228" y="251" width="3" height="21" fill="#32cd32"/>
<rect x="229" y="252" width="1" height="19" fill="#32cd32"/>
<rect x="233" y="261" width="1" height="52" fill="#32cd32"/>
<rect x="232" y="272" width="3" height="15" fill="#32cd32"/>
<rect x="233" y="273" width="1" height="13" fill="#32cd32"/>
<rect x="237" y="273" width="1" height="32" fill="#ff0000"/>
<rect x="236" y="273" width="3" height="14" fill="#ff0000"/>
<rect x="237" y="274" width="1" height="12" fill="#ff4500"/>
<rect x="241" y="190" width="1" height="86" fill="#ff0000"/>
<rect x="240" y="244" width="3" height="31" fill="#ff0000"/>
<rect x="241" y="245" width="1" height="29" fill="#ff4500"/>
<rect x="245" y="223" width="1" height="24" fill="#ff0000"/>
<rect x="244" y="229" width="3" height="15" fill="#ff0000"/>
<rect x="245" y="230" width="1" height="13" fill="#ff4500"/>
<rect x="249" y="244" width="1" height="25" fill="#32cd32"/>
<rect x="248" y="254" width="3" height="11" fill="#32cd32"/>
<rect x="249" y="255" width="1" height="9" fill="#32cd32"/>
<rect x="253" y="234" width="1" height="36" fill="#ff0000"/>
<rect x="252" y="246" width="3" height="18" fill="#ff0000"/>
<rect x="253" y="247" width="1" height="16" fill="#ff4500"/>
<rect x="257" y="243" width="1" height="39" fill="#32cd32"/>
<rect x="256" y="245" width="3" height="13" fill="#32cd32"/>
<rect x="257" y="246" width="1" height="11" fill="#32cd32"/>
<rect x="261" y="239" width="1" height="23" fill="#ff0000"/>
<rect x="260" y="250" width="3" height="8" fill="#ff0000"/>
<rect x="261" y="251" width="1" height="6" fill="#ff4500"/>
<rect x="265" y="168" width="1" height="87" fill="#ff0000"/>
<rect x="264" y="169" width="3" height="82" fill="#ff0000"/>
<rect x="265" y="170" width="1" height="80" fill="#ff4500"/>
<rect x="269" y="152" width="1" height="28" fill="#32cd32"/>
<rect x="268" y="170" width="3" height="10" fill="#32cd32"/>
<rect x="269" y="171" width="1" height="8" fill="#32cd32"/>
<rect x="273" y="116" width="1" height="79" fill="#ff0000"/>
<rect x="272" y="118" width="3" height="71" fill="#ff0000"/>
<rect x="273" y="119" width="1" height="69" fill="#ff4500"/>
<rect x="277" y="91" width="1" height="95" fill="#32cd32"/>
<rect x="276" y="119" width="3" height="43" fill="#32cd32"/>
<rect x="277" y="120" width="1" height="41" fill="#32cd32"/>
<rect x="281" y="153" width="1" height="48" fill="#32cd32"/>
<rect x="280" y="161" width="3" height="23" fill="#32cd32"/>
<rect x="281" y="162" width="1" height="21" fill="#32cd32"/>
<rect x="285" y="177" width="1" height="59" fill="#32cd32"/>
<rect x="284" y="183" width="3" height="43" fill="#32cd32"/>
<rect x="285" y="184" width="1" height="41" fill="#32cd32"/>
<rect x="289" y="179" width="1" height="70" fill="#ff0000"/>
<rect x="288" y="201" width="3" height="25" fill="#ff0000"/>
<rect x="289" y="202" width="1" height="23" fill="#ff4500"/>
<rect x="293" y="198" width="1" height="19" fill="#32cd32"/>
<rect x="292" y="201" width="3" height="5" fill="#32cd32"/>
<rect x="293" y="202" width="1" height="3" fill="#32cd32"/>
<rect x="297" y="174" width="1" height="42" fill="#ff0000"/>
<rect x="296" y="202" width="3" height="5" fill="#ff0000"/>
<rect x="297" y="203" width="1" height="3" fill="#ff4500"/>
<rect x="301" y="194" width="1" height="25" fill="#32cd32"/>
<rect x="300" y="202" width="3" height="2" fill="#32cd32"/>
<rect x="305" y="186" width="1" height="22" fill="#ff0000"/>
<rect x="304" y="188" width="3" height="16" fill="#ff0000"/>
<rect x="305" y="189" width="1" height="14" fill="#ff4500"/>
<rect x="309" y="183" width="1" height="50" fill="#32cd32"/>
<rect x="308" y="187" width="3" height="11" fill="#32cd32"/>
<rect x="309" y="188" width="1" height="9" fill="#32cd32"/>
<rect x="313" y="164" width="1" height="38" fill="#ff0000"/>
<rect x="312" y="184" width="3" height="14" fill="#ff0000"/>
<rect x="313" y="185" width="1" height="12" fill="#ff4500"/>
<rect x="317" y="183" width="1" height="11" fill="#32cd32"/>
<rect x="316" y="184" width="3" height="8" fill="#32cd32"/>
<rect x="317" y="185" width="1" height="6" fill="#32cd32"/>
<rect x="321" y="175" width="1" height="27" fill="#32cd32"/>
<rect x="320" y="179" width="3" height="20" fill="#32cd32"/>
<rect x="321" y="180" width="1" height="18" fill="#32cd32"/>
<rect x="325" y="174" width="1" height="26" fill="#ff0000"/>
<rect x="324" y="180" width="3" height="19" fill="#ff0000"/>
<rect x="325" y="181" width="1" height="17" fill="#ff4500"/>
<rect x="329" y="152" width="1" height="32" fill="#ff0000"/>
<rect x="328" y="159" width="3" height="22" fill="#ff0000"/>
<rect x="329" y="160" width="1" height="20" fill="#ff4500"/>
<rect x="333" y="112" width="1" height="53" fill="#ff0000"/>
<rect x="332" y="114" width="3" height="47" fill="#ff0000"/>
<rect x="333" y="115" width="1" height="45" fill="#ff4500"/>
<rect x="337" y="108" width="1" height="29" fill="#32cd32"/>
<rect x="336" y="114" width="3" height="16" fill="#32cd32"/>
<rect x="337" y="115" width="1" height="14" fill="#32cd32"/>
<rect x="341" y="122" width="1" height="10" fill="#32cd32"/>
<rect x="340" y="129" width="3" height="1" fill="#32cd32"/>
<rect x="345" y="53" width="1" height="79" fill="#ff0000"/>
<rect x="344" y="71" width="3" height="55" fill="#ff0000"/>
<rect x="345" y="72" width="1" height="53" fill="#ff4500"/>
<rect x="349" y="53" width="1" height="29" fill="#ff0000"/>
<rect x="348" y="70" width="3" height="2" fill="#ff0000"/>
<rect x="353" y="63" width="1" height="42" fill="#32cd32"/>
<rect x="352" y="69" width="3" height="21" fill="#32cd32"/>
<rect x="353" y="70" width="1" height="19" fill="#32cd32"/>
<rect x="357" y="46" width="1" height="54" fill="#ff0000"/>
<rect x="356" y="70" width="3" height="20" fill="#ff0000"/>
<rect x="357" y="71" width="1" height="18" fill="#ff4500"/>
<rect x="361" y="64" width="1" height="13" fill="#32cd32"/>
<rect x="360" y="70" width="3" height="5" fill="#32cd32"/>
<rect x="361" y="71" width="1" height="3" fill="#32cd32"/>
<rect x="365" y="65" width="1" height="10" fill="#32cd32"/>
<rect x="364" y="66" width="3" height="8" fill="#32cd32"/>
<rect x="365" y="67" width="1" height="6" fill="#32cd32"/>
<rect x="369" y="53" width="1" height="53" fill="#32cd32"/>
<rect x="368" y="73" width="3" height="30" fill="#32cd32"/>
<rect x="369" y="74" width="1" height="28" fill="#32cd32"/>
<rect x="373" y="87" width="1" height="46" fill="#32cd32"/>
<rect x="372" y="102" width="3" height="30" fill="#32cd32"/>
<rect x="373" y="103" width="1" height="28" fill="#32cd32"/>
<rect x="377" y="110" width="1" height="26" fill="#ff0000"/>
<rect x="376" y="120" width="3" height="12" fill="#ff0000"/>
<rect x="377" y="121" width="1" height="10" fill="#ff4500"/>
<rect x="381" y="91" width="1" height="36" fill="#ff0000"/>
<rect x="380" y="96" width="3" height="25" fill="#ff0000"/>
<rect x="381" y="97" width="1" height="23" fill="#ff4500"/>
<rect x="385" y="77" width="1" height="37" fill="#32cd32"/>
<rect x="384" y="96" width="3" height="5" fill="#32cd32"/>
<rect x="385" y="97" width="1" height="3" fill="#32cd32"/>
<rect x="389" y="94" width="1" height="8" fill="#ff0000"/>
<rect x="388" y="98" width="3" height="4" fill="#ff0000"/>
<rect x="389" y="99" width="1" height="2" fill="#ff4500"/>
<rect x="393" y="85" width="1" height="34" fill="#32cd32"/>
<rect x="392" y="95" width="3" height="19" fill="#32cd32"/>
<rect x="393" y="96" width="1" height="17" fill="#32cd32"/>
<rect x="397" y="98" width="1" height="28" fill="#32cd32"/>
<rect x="396" y="113" width="3" height="10" fill="#32cd32"/>
<rect x="397" y="114" width="1" height="8" fill="#32cd32"/>
<rect x="401" y="118" width="1" height="41" fill="#32cd32"/>
<rect x="400" y="121" width="3" height="35" fill="#32cd32"/>
<rect x="401" y="122" width="1" height="33" fill="#32cd32"/>
<rect x="405" y="124" width="1" height="40" fill="#32cd32"/>
<rect x="404" y="155" width="3" height="1" fill="#32cd32"/>
<rect x="409" y="138" width="1" height="30" fill="#32cd32"/>
<rect x="408" y="155" width="3" height="6" fill="#32cd32"/>
<rect x="409" y="156" width="1" height="4" fill="#32cd32"/>
<rect x="413" y="150" width="1" height="12" fill="#ff0000"/>
<rect x="412" y="155" width="3" height="6" fill="#ff0000"/>
<rect x="413" y="156" width="1" height="4" fill="#ff4500"/>
<rect x="417" y="142" width="1" height="58" fill="#32cd32"/>
<rect x="416" y="153" width="3" height="33" fill="#32cd32"/>
<rect x="417" y="154" width="1" height="31" fill="#32cd32"/>
<rect x="421" y="183" width="1" height="44" fill="#32cd32"/>
<rect x="420" y="185" width="3" height="21" fill="#32cd32"/>
<rect x="421" y="186" width="1" height="19" fill="#32cd32"/>
<rect x="425" y="197" width="1" height="29" fill="#32cd32"/>
<rect x="424" y="205" width="3" height="20" fill="#32cd32"/>
<rect x="425" y="206" width="1" height="18" fill="#32cd32"/>
<rect x="429" y="217" width="1" height="24" fill="#ff0000"/>
<rect x="428" y="221" width="3" height="4" fill="#ff0000"/>
<rect x="429" y="222" width="1" height="2" fill="#ff4500"/>
<rect x="433" y="205" width="1" height="27" fill="#ff0000"/>
<rect x="432" y="221" width="3" height="1" fill="#ff0000"/>
<rect x="437" y="218" width="1" height="10" fill="#32cd32"/>
<rect x="436" y="221" width="3" height="7" fill="#32cd32"/>
<rect x="437" y="222" width="1" height="5" fill="#32cd32"/>
<rect x="441" y="220" width="1" height="31" fill="#32cd32"/>
<rect x="440" y="224" width="3" height="26" fill="#32cd32"/>
<rect x="441" y="225" width="1" height="24" fill="#32cd32"/>
<rect x="445" y="230" width="1" height="29" fill="#ff0000"/>
<rect x="444" y="243" width="3" height="7" fill="#ff0000"/>
<rect x="445" y="244" width="1" height="5" fill="#ff4500"/>
<rect x="449" y="227" width="1" height="28" fill="#32cd32"/>
<rect x="448" y="243" width="3" height="9" fill="#32cd32"/>
<rect x="449" y="244" width="1" height="7" fill="#32cd32"/>
<rect x="453" y="244" width="1" height="31" fill="#32cd32"/>
<rect x="452" y="251" width="3" height="14" fill="#32cd32"/>
<rect x="453" y="252" width="1" height="12" fill="#32cd32"/>
<rect x="457" y="253" width="1" height="22" fill="#ff0000"/>
<rect x="456" y="260" width="3" height="5" fill="#ff0000"/>
<rect x="457" y="261" width="1" height="3" fill="#ff4500"/>
<rect x="461" y="252" width="1" height="12" fill="#ff0000"/>
<rect x="460" y="254" width="3" height="7" fill="#ff0000"/>
<rect x="461" y="255" width="1" height="5" fill="#ff4500"/>
<rect x="465" y="235" width="1" height="26" fill="#32cd32"/>
<rect x="464" y="253" width="3" height="2" fill="#32cd32"/>
<rect x="469" y="220" width="1" height="42" fill="#ff0000"/>
<rect x="468" y="228" width="3" height="27" fill="#ff0000"/>
<rect x="469" y="229" width="1" height="25" fill="#ff4500"/>
<rect x="473" y="217" width="1" height="28" fill="#32cd32"/>
<rect x="472" y="228" width="3" height="5" fill="#32cd32"/>
<rect x="473" y="229" width="1" height="3" fill="#32cd32"/>
<rect x="477" y="222" width="1" height="46" fill="#32cd32"/>
<rect x="476" y="232" width="3" height="34" fill="#32cd32"/>
<rect x="477" y="233" width="1" height="32" fill="#32cd32"/>
<rect x="481" y="262" width="1" height="94" fill="#32cd32"/>
<rect x="480" y="265" width="3" height="91" fill="#32cd32"/>
<rect x="481" y="266" width="1" height="89" fill="#32cd32"/>
<rect x="485" y="341" width="1" height="17" fill="#ff0000"/>
<rect x="484" y="352" width="3" height="4" fill="#ff0000"/>
<rect x="485" y="353" width="1" height="2" fill="#ff4500"/>
<rect x="489" y="332" width="1" height="47" fill="#32cd32"/>
<rect x="488" y="357" width="3" height="11" fill="#32cd32"/>
<rect x="489" y="358" width="1" height="9" fill="#32cd32"/>
<rect x="493" y="327" width="1" height="42" fill="#ff0000"/>
<rect x="492" y="334" width="3" height="35" fill="#ff0000"/>
<rect x="493" y="335" width="1" height="33" fill="#ff4500"/>
<rect x="497" y="277" width="1" height="64" fill="#ff0000"/>
<rect x="496" y="279" width="3" height="56" fill="#ff0000"/>
<rect x="497" y="280" width="1" height="54" fill="#ff4500"/>
<rect x="501" y="274" width="1" height="30" fill="#32cd32"/>
<rect x="500" y="278" width="3" height="14" fill="#32cd32"/>
<rect x="501" y="279" width="1" height="12" fill="#32cd32"/>
<rect x="505" y="290" width="1" height="39" fill="#32cd32"/>
<rect x="504" y="291" width="3" height="23" fill="#32cd32"/>
<rect x="505" y="292" width="1" height="21" fill="#32cd32"/>
<rect x="509" y="310" width="1" height="7" fill="#32cd32"/>
<rect x="508" y="312" width="3" height="4" fill="#32cd32"/>
<rect x="509" y="313" width="1" height="2" fill="#32cd32"/>
<rect x="513" y="296" width="1" height="22" fill="#ff0000"/>
<rect x="512" y="306" width="3" height="8" fill="#ff0000"/>
<rect x="513" y="307" width="1" height="6" fill="#ff4500"/>
<rect x="517" y="305" width="1" height="48" fill="#32cd32"/>
<rect x="516" y="306" width="3" height="35" fill="#32cd32"/>
<rect x="517" y="307" width="1" height="33" fill="#32cd32"/>
<rect x="521" y="314" width="1" height="40" fill="#ff0000"/>
<rect x="520" y="332" width="3" height="9" fill="#ff0000"/>
<rect x="521" y="333" width="1" height="7" fill="#ff4500"/>
<rect x="525" y="309" width="1" height="33" fill="#ff0000"/>
<rect x="524" y="324" width="3" height="9" fill="#ff0000"/>
<rect x="525" y="325" width="1" height="7" fill="#ff4500"/>
<rect x="529" y="312" width="1" height="25" fill="#ff0000"/>
<rect x="528" y="313" width="3" height="13" fill="#ff0000"/>
<rect x="529" y="314" width="1" height="11" fill="#ff4500"/>
<rect x="533" y="310" width="1" height="11" fill="#32cd32"/>
<rect x="532" y="312" width="3" height="8" fill="#32cd32"/>
<rect x="533" y="313" width="1" height="6" fill="#32cd32"/>
<rect x="537" y="311" width="1" height="53" fill="#32cd32"/>
<rect x="536" y="321" width="3" height="38" fill="#32cd32"/>
<rect x="537" y="322" width="1" height="36" fill="#32cd32"/>
<rect x="541" y="357" width="1" height="44" fill="#32cd32"/>
<rect x="540" y="358" width="3" height="14" fill="#32cd32"/>
<rect x="541" y="359" width="1" height="12" fill="#32cd32"/>
<rect x="545" y="362" width="1" height="67" fill="#32cd32"/>
<rect x="544" y="371" width="3" height="42" fill="#32cd32"/>
<rect x="545" y="372" width="1" height="40" fill="#32cd32"/>
<rect x="549" y="399" width="1" height="46" fill="#32cd32"/>
<rect x="548" y="412" width="3" height="16" fill="#32cd32"/>
<rect x="549" y="413" width="1" height="14" fill="#32cd32"/>
<rect x="553" y="419" width="1" height="42" fill="#32cd32"/>
<rect x="552" y="427" width="3" height="22" fill="#32cd32"/>
<rect x="553" y="428" width="1" height="20" fill="#32cd32"/>
<rect x="557" y="447" width="1" height="13" fill="#32cd32"/>
<rect x="556" y="448" width="3" height="10" fill="#32cd32"/>
<rect x="557" y="449" width="1" height="8" fill="#32cd32"/>
<rect x="561" y="430" width="1" height="43" fill="#32cd32"/>
<rect x="560" y="438" width="3" height="1" fill="#32cd32"/>
<rect x="565" y="412" width="1" height="46" fill="#ff0000"/>
<rect x="564" y="417" width="3" height="23" fill="#ff0000"/>
<rect x="565" y="418" width="1" height="21" fill="#ff4500"/>
<rect x="569" y="402" width="1" height="26" fill="#32cd32"/>
<rect x="568" y="417" width="3" height="8" fill="#32cd32"/>
<rect x="569" y="418" width="1" height="6" fill="#32cd32"/>
<rect x="573" y="385" width="1" height="42" fill="#ff0000"/>
<rect x="572" y="386" width="3" height="39" fill="#ff0000"/>
<rect x="573" y="387" width="1" height="37" fill="#ff4500"/>
<rect x="577" y="365" width="1" height="48" fill="#32cd32"/>
<rect x="576" y="387" width="3" height="20" fill="#32cd32"/>
<rect x="577" y="388" width="1" height="18" fill="#32cd32"/>
<rect x="581" y="399" width="1" height="8" fill="#ff0000"/>
<rect x="580" y="403" width="3" height="4" fill="#ff0000"/>
<rect x="581" y="404" width="1" height="2" fill="#ff4500"/>
<rect x="585" y="386" width="1" height="23" fill="#32cd32"/>
<rect x="584" y="399" width="3" height="5" fill="#32cd32"/>
<rect x="585" y="400" width="1" height="3" fill="#32cd32"/>
<rect x="589" y="384" width="1" height="31" fill="#ff0000"/>
<rect x="588" y="386" width="3" height="18" fill="#ff0000"/>
<rect x="589" y="387" width="1" height="16" fill="#ff4500"/>
<rect x="593" y="380" width="1" height="39" fill="#32cd32"/>
<rect x="592" y="386" width="3" height="23" fill="#32cd32"/>
<rect x="593" y="387" width="1" height="21" fill="#32cd32"/>
<rect x="597" y="395" width="1" height="30" fill="#ff0000"/>
<rect x="596" y="405" width="3" height="4" fill="#ff0000"/>
<rect x="597" y="406" width="1" height="2" fill="#ff4500"/>
<rect x="601" y="385" width="1" height="38" fill="#ff0000"/>
<rect x="600" y="387" width="3" height="19" fill="#ff0000"/>
<rect x="601" y="388" width="1" height="17" fill="#ff4500"/>
<rect x="605" y="386" width="1" height="10" fill="#32cd32"/>
<rect x="604" y="387" width="3" height="9" fill="#32cd32"/>
<rect x="605" y="388" width="1" height="7" fill="#32cd32"/>
<rect x="609" y="350" width="1" height="45" fill="#ff0000"/>
<rect x="608" y="372" width="3" height="21" fill="#ff0000"/>
<rect x="609" y="373" width="1" height="19" fill="#ff4500"/>
<rect x="613" y="366" width="1" height="20" fill="#ff0000"/>
<rect x="612" y="368" width="3" height="4" fill="#ff0000"/>
<rect x="613" y="369" width="1" height="2" fill="#ff4500"/>
<rect x="617" y="367" width="1" height="31" fill="#32cd32"/>
<rect x="616" y="368" width="3" height="28" fill="#32cd32"/>
<rect x="617" y="369" width="1" height="26" fill="#32cd32"/>
<rect x="621" y="279" width="1" height="125" fill="#ff0000"/>
<rect x="620" y="281" width="3" height="116" fill="#ff0000"/>
<rect x="621" y="282" width="1" height="114" fill="#ff4500"/>
<rect x="625" y="267" width="1" height="45" fill="#ff0000"/>
<rect x="624" y="279" width="3" height="3" fill="#ff0000"/>
<rect x="625" y="280" width="1" height="1" fill="#ff4500"/>
<rect x="629" y="276" width="1" height="12" fill="#32cd32"/>
<rect x="628" y="279" width="3" height="3" fill="#32cd32"/>
<rect x="629" y="280" width="1" height="1" fill="#32cd32"/>
<rect x="633" y="241" width="1" height="52" fill="#ff0000"/>
<rect x="632" y="253" width="3" height="34" fill="#ff0000"/>
<rect x="633" y="254" width="1" height="32" fill="#ff4500"/>
<rect x="637" y="229" width="1" height="44" fill="#ff0000"/>
<rect x="636" y="232" width="3" height="22" fill="#ff0000"/>
<rect x="637" y="233" width="1" height="20" fill="#ff4500"/>
<rect x="641" y="214" width="1" height="42" fill="#32cd32"/>
<rect x="640" y="232" width="3" height="18" fill="#32cd32"/>
<rect x="641" y="233" width="1" height="16" fill="#32cd32"/>
<rect x="645" y="230" width="1" height="37" fill="#32cd32"/>
<rect x="644" y="250" width="3" height="2" fill="#32cd32"/>
<rect x="649" y="249" width="1" height="43" fill="#32cd32"/>
<rect x="648" y="252" width="3" height="24" fill="#32cd32"/>
<rect x="649" y="253" width="1" height="22" fill="#32cd32"/>
<rect x="653" y="271" width="1" height="9" fill="#ff0000"/>
<rect x="652" y="273" width="3" height="3" fill="#ff0000"/>
<rect x="653" y="274" width="1" height="1" fill="#ff4500"/>
<rect x="657" y="260" width="1" height="22" fill="#32cd32"/>
<rect x="656" y="279" width="3" height="3" fill="#32cd32"/>
<rect x="657" y="280" width="1" height="1" fill="#32cd32"/>
<rect x="661" y="255" width="1" height="29" fill="#ff0000"/>
<rect x="660" y="266" width="3" height="15" fill="#ff0000"/>
<rect x="661" y="267" width="1" height="13" fill="#ff4500"/>
<rect x="665" y="261" width="1" height="21" fill="#ff0000"/>
<rect x="664" y="265" width="3" height="2" fill="#ff0000"/>
<rect x="669" y="249" width="1" height="25" fill="#ff0000"/>
<rect x="668" y="253" width="3" height="14" fill="#ff0000"/>
<rect x="669" y="254" width="1" height="12" fill="#ff4500"/>
<rect x="673" y="221" width="1" height="40" fill="#ff0000"/>
<rect x="672" y="247" width="3" height="7" fill="#ff0000"/>
<rect x="673" y="248" width="1" height="5" fill="#ff4500"/>
<rect x="677" y="243" width="1" height="19" fill="#32cd32"/>
<rect x="676" y="247" width="3" height="9" fill="#32cd32"/>
<rect x="677" y="248" width="1" height="7" fill="#32cd32"/>
<rect x="681" y="249" width="1" height="30" fill="#32cd32"/>
<rect x="680" y="256" width="3" height="16" fill="#32cd32"/>
<rect x="681" y="257" width="1" height="14" fill="#32cd32"/>
<rect x="685" y="232" width="1" height="49" fill="#ff0000"/>
<rect x="684" y="236" width="3" height="36" fill="#ff0000"/>
<rect x="685" y="237" width="1" height="34" fill="#ff4500"/>
<rect x="689" y="230" width="1" height="39" fill="#32cd32"/>
<rect x="688" y="236" width="3" height="16" fill="#32cd32"/>
<rect x="689" y="237" width="1" height="14" fill="#32cd32"/>
<rect x="693" y="204" width="1" height="57" fill="#ff0000"/>
<rect x="692" y="210" width="3" height="42" fill="#ff0000"/>
<rect x="693" y="211" width="1" height="40" fill="#ff4500"/>
<rect x="697" y="204" width="1" height="35" fill="#32cd32"/>
<rect x="696" y="210" width="3" height="21" fill="#32cd32"/>
<rect x="697" y="211" width="1" height="19" fill="#32cd32"/>
<rect x="701" y="227" width="1" height="12" fill="#32cd32"/>
<rect x="700" y="230" width="3" height="8" fill="#32cd32"/>
<rect x="701" y="231" width="1" height="6" fill="#32cd32"/>
<rect x="705" y="234" width="1" height="20" fill="#32cd32"/>
<rect x="704" y="243" width="3" height="4" fill="#32cd32"/>
<rect x="705" y="244" width="1" height="2" fill="#32cd32"/>
<rect x="709" y="236" width="1" height="30" fill="#32cd32"/>
<rect x="708" y="246" width="3" height="17" fill="#32cd32"/>
<rect x="709" y="247" width="1" height="15" fill="#32cd32"/>
<rect x="713" y="232" width="1" height="63" fill="#32cd32"/>
<rect x="712" y="262" width="3" height="9" fill="#32cd32"/>
<rect x="713" y="263" width="1" height="7" fill="#32cd32"/>
<rect x="717" y="256" width="1" height="28" fill="#32cd32"/>
<rect x="716" y="270" width="3" height="4" fill="#32cd32"/>
<rect x="717" y="271" width="1" height="2" fill="#32cd32"/>
<rect x="721" y="236" width="1" height="44" fill="#ff0000"/>
<rect x="720" y="237" width="3" height="37" fill="#ff0000"/>
<rect x="721" y="238" width="1" height="35" fill="#ff4500"/>
<rect x="725" y="237" width="1" height="19" fill="#32cd32"/>
<rect x="724" y="238" width="3" height="14" fill="#32cd32"/>
<rect x="725" y="239" width="1" height="12" fill="#32cd32"/>
<rect x="729" y="212" width="1" height="37" fill="#ff0000"/>
<rect x="728" y="222" width="3" height="25" fill="#ff0000"/>
<rect x="729" y="223" width="1" height="23" fill="#ff4500"/>
<rect x="733" y="207" width="1" height="33" fill="#32cd32"/>
<rect x="732" y="222" width="3" height="8" fill="#32cd32"/>
<rect x="733" y="223" width="1" height="6" fill="#32cd32"/>
<rect x="737" y="222" width="1" height="50" fill="#32cd32"/>
<rect x="736" y="229" width="3" height="40" fill="#32cd32"/>
<rect x="737" y="230" width="1" height="38" fill="#32cd32"/>
<rect x="741" y="244" width="1" height="33" fill="#ff0000"/>
<rect x="740" y="247" width="3" height="22" fill="#ff0000"/>
<rect x="741" y="248" width="1" height="20" fill="#ff4500"/>
<rect x="745" y="228" width="1" height="33" fill="#ff0000"/>
<rect x="744" y="235" width="3" height="13" fill="#ff0000"/>
<rect x="745" y="236" width="1" height="11" fill="#ff4500"/>
<rect x="749" y="235" width="1" height="16" fill="#32cd32"/>
<rect x="748" y="235" width="3" height="15" fill="#32cd32"/>
<rect x="749" y="236" width="1" height="13" fill="#32cd32"/>
<rect x="753" y="214" width="1" height="35" fill="#ff0000"/>
<rect x="752" y="237" width="3" height="11" fill="#ff0000"/>
<rect x="753" y="238" width="1" height="9" fill="#ff4500"/>
<rect x="757" y="157" width="1" height="90" fill="#ff0000"/>
<rect x="756" y="161" width="3" height="77" fill="#ff0000"/>
<rect x="757" y="162" width="1" height="75" fill="#ff4500"/>
<rect x="761" y="151" width="1" height="62" fill="#32cd32"/>
<rect x="760" y="162" width="3" height="38" fill="#32cd32"/>
<rect x="761" y="163" width="1" height="36" fill="#32cd32"/>
<rect x="765" y="184" width="1" height="101" fill="#32cd32"/>
<rect x="764" y="200" width="3" height="80" fill="#32cd32"/>
<rect x="765" y="201" width="1" height="78" fill="#32cd32"/>
<rect x="769" y="253" width="1" height="41" fill="#ff0000"/>
<rect x="768" y="270" width="3" height="10" fill="#ff0000"/>
<rect x="769" y="271" width="1" height="8" fill="#ff4500"/>
<rect x="773" y="262" width="1" height="15" fill="#ff0000"/>
<rect x="772" y="266" width="3" height="5" fill="#ff0000"/>
<rect x="773" y="267" width="1" height="3" fill="#ff4500"/>
<rect x="777" y="254" width="1" height="25" fill="#32cd32"/>
<rect x="776" y="266" width="3" height="3" fill="#32cd32"/>
<rect x="777" y="267" width="1" height="1" fill="#32cd32"/>
<rect x="781" y="260" width="1" height="17" fill="#ff0000"/>
<rect x="780" y="265" width="3" height="4" fill="#ff0000"/>
<rect x="781" y="266" width="1" height="2" fill="#ff4500"/>
<rect x="785" y="261" width="1" height="29" fill="#32cd32"/>
<rect x="784" y="265" width="3" height="10" fill="#32cd32"/>
<rect x="785" y="266" width="1" height="8" fill="#32cd32"/>
<rect x="789" y="266" width="1" height="22" fill="#32cd32"/>
<rect x="788" y="273" width="3" height="9" fill="#32cd32"/>
<rect x="789" y="274" width="1" height="7" fill="#32cd32"/>
<rect x="793" y="233" width="1" height="51" fill="#ff0000"/>
<rect x="792" y="239" width="3" height="43" fill="#ff0000"/>
<rect x="793" y="240" width="1" height="41" fill="#ff4500"/>
<rect x="797" y="236" width="1" height="10" fill="#32cd32"/>
<rect x="796" y="239" width="3" height="6" fill="#32cd32"/>
<rect x="797" y="240" width="1" height="4" fill="#32cd32"/>
<rect x="801" y="226" width="1" height="26" fill="#ff0000"/>
<rect x="800" y="232" width="3" height="6" fill="#ff0000"/>
<rect x="801" y="233" width="1" height="4" fill="#ff4500"/>
<rect x="805" y="223" width="1" height="20" fill="#ff0000"/>
<rect x="804" y="228" width="3" height="5" fill="#ff0000"/>
<rect x="805" y="229" width="1" height="3" fill="#ff4500"/>
<rect x="809" y="217" width="1" height="35" fill="#32cd32"/>
<rect x="808" y="228" width="3" height="19" fill="#32cd32"/>
<rect x="809" y="229" width="1" height="17" fill="#32cd32"/>
<rect x="813" y="237" width="1" height="17" fill="#32cd32"/>
<rect x="812" y="246" width="3" height="1" fill="#32cd32"/>
<rect x="817" y="231" width="1" height="18" fill="#ff0000"/>
<rect x="816" y="244" width="3" height="3" fill="#ff0000"/>
<rect x="817" y="245" width="1" height="1" fill="#ff4500"/>
<rect x="821" y="243" width="1" height="7" fill="#32cd32"/>
<rect x="820" y="244" width="3" height="6" fill="#32cd32"/>
<rect x="821" y="245" width="1" height="4" fill="#32cd32"/>
<rect x="825" y="238" width="1" height="14" fill="#32cd32"/>
<rect x="824" y="240" width="3" height="9" fill="#32cd32"/>
<rect x="825" y="241" width="1" height="7" fill="#32cd32"/>
<rect x="829" y="213" width="1" height="41" fill="#ff0000"/>
<rect x="828" y="213" width="3" height="36" fill="#ff0000"/>
<rect x="829" y="214" width="1" height="34" fill="#ff4500"/>
<rect x="833" y="209" width="1" height="32" fill="#32cd32"/>
<rect x="832" y="213" width="3" height="18" fill="#32cd32"/>
<rect x="833" y="214" width="1" height="16" fill="#32cd32"/>
<rect x="837" y="197" width="1" height="45" fill="#ff0000"/>
<rect x="836" y="209" width="3" height="22" fill="#ff0000"/>
<rect x="837" y="210" width="1" height="20" fill="#ff4500"/>
<rect x="841" y="186" width="1" height="26" fill="#ff0000"/>
<rect x="840" y="196" width="3" height="14" fill="#ff0000"/>
<rect x="841" y="197" width="1" height="12" fill="#ff4500"/>
<rect x="845" y="196" width="1" height="11" fill="#32cd32"/>
<rect x="844" y="196" width="3" height="10" fill="#32cd32"/>
<rect x="845" y="197" width="1" height="8" fill="#32cd32"/>
<rect x="849" y="202" width="1" height="36" fill="#32cd32"/>
<rect x="848" y="202" width="3" height="35" fill="#32cd32"/>
<rect x="849" y="203" width="1" height="33" fill="#32cd32"/>
<rect x="853" y="230" width="1" height="38" fill="#32cd32"/>
<rect x="852" y="236" width="3" height="21" fill="#32cd32"/>
<rect x="853" y="237" width="1" height="19" fill="#32cd32"/>
<rect x="857" y="242" width="1" height="22" fill="#ff0000"/>
<rect x="856" y="257" width="3" height="1" fill="#ff0000"/>
<rect x="861" y="232" width="1" height="32" fill="#ff0000"/>
<rect x="860" y="241" width="3" height="16" fill="#ff0000"/>
<rect x="861" y="242" width="1" height="14" fill="#ff4500"/>
<rect x="865" y="228" width="1" height="45" fill="#32cd32"/>
<rect x="864" y="240" width="3" height="32" fill="#32cd32"/>
<rect x="865" y="241" width="1" height="30" fill="#32cd32"/>
<rect x="869" y="268" width="1" height="11" fill="#32cd32"/>
<rect x="868" y="271" width="3" height="3" fill="#32cd32"/>
<rect x="869" y="272" width="1" height="1" fill="#32cd32"/>
<rect x="873" y="261" width="1" height="13" fill="#ff0000"/>
<rect x="872" y="269" width="3" height="4" fill="#ff0000"/>
<rect x="873" y="270" width="1" height="2" fill="#ff4500"/>
<rect x="877" y="255" width="1" height="45" fill="#32cd32"/>
<rect x="876" y="269" width="3" height="18" fill="#32cd32"/>
<rect x="877" y="270" width="1" height="16" fill="#32cd32"/>
<rect x="881" y="269" width="1" height="30" fill="#32cd32"/>
<rect x="880" y="285" width="3" height="13" fill="#32cd32"/>
<rect x="881" y="286" width="1" height="11" fill="#32cd32"/>
<rect x="885" y="278" width="1" height="23" fill="#ff0000"/>
<rect x="884" y="298" width="3" height="1" fill="#ff0000"/>
<rect x="889" y="282" width="1" height="61" fill="#32cd32"/>
<rect x="888" y="298" width="3" height="20" fill="#32cd32"/>
<rect x="889" y="299" width="1" height="18" fill="#32cd32"/>
<rect x="893" y="315" width="1" height="11" fill="#ff0000"/>
<rect x="892" y="317" width="3" height="2" fill="#ff0000"/>
<rect x="897" y="285" width="1" height="31" fill="#ff0000"/>
<rect x="896" y="293" width="3" height="23" fill="#ff0000"/>
<rect x="897" y="294" width="1" height="21" fill="#ff4500"/>
<rect x="901" y="268" width="1" height="33" fill="#ff0000"/>
<rect x="900" y="278" width="3" height="16" fill="#ff0000"/>
<rect x="901" y="279" width="1" height="14" fill="#ff4500"/>
<rect x="905" y="271" width="1" height="16" fill="#32cd32"/>
<rect x="904" y="278" width="3" height="2" fill="#32cd32"/>
<rect x="909" y="272" width="1" height="28" fill="#32cd32"/>
<rect x="908" y="278" width="3" height="18" fill="#32cd32"/>
<rect x="909" y="279" width="1" height="16" fill="#32cd32"/>
<rect x="913" y="291" width="1" height="48" fill="#32cd32"/>
<rect x="912" y="296" width="3" height="18" fill="#32cd32"/>
<rect x="913" y="297" width="1" height="16" fill="#32cd32"/>
<rect x="917" y="308" width="1" height="10" fill="#ff0000"/>
<rect x="916" y="310" width="3" height="5" fill="#ff0000"/>
<rect x="917" y="311" width="1" height="3" fill="#ff4500"/>
<rect x="921" y="288" width="1" height="25" fill="#ff0000"/>
<rect x="920" y="309" width="3" height="4" fill="#ff0000"/>
<rect x="921" y="310" width="1" height="2" fill="#ff4500"/>
<rect x="925" y="301" width="1" height="11" fill="#32cd32"/>
<rect x="924" y="309" width="3" height="1" fill="#32cd32"/>
<rect x="5" y="48" width="1164" height="2" fill="#ff0000"/>
<rect x="5" y="173" width="1164" height="2" fill="#ff0000"/>
<rect x="5" y="291" width="1164" height="2" fill="#00ff00"/>
<rect x="5" y="382" width="1164" height="2" fill="#0000ff"/>
<rect x="5" y="473" width="1164" height="2" fill="#0000ff"/>
</g>
<rect x="1168" y="51" width="2" height="1" fill="#000"/>
<text x="1173" y="55" font-size="10.2" fill="#000" textLength="32.8" lengthAdjust="spacingAndGlyphs">6.58350</text>
<rect x="1168" y="84" width="2" height="1" fill="#000"/>
<text x="1173" y="88" font-size="10.2" fill="#000" textLength="32.8" lengthAdjust="spacingAndGlyphs">6.56550</text>
<rect x="1168" y="117" width="2" height="1" fill="#000"/>
<text x="1173" y="121" font-size="10.2" fill="#000" textLength="32.8" lengthAdjust="spacingAndGlyphs">6.54750</text>
<rect x="1168" y="150" width="2" height="1" fill="#000"/>
<text x="1173" y="154" font-size="10.2" fill="#000" textLength="32.8" lengthAdjust="spacingAndGlyphs">6.52900</text>
<rect x="1168" y="183" width="2" height="1" fill="#000"/>
<text x="1173" y="187" font-size="10.2" fill="#000" textLength="32.8" lengthAdjust="spacingAndGlyphs">6.51100</text>
<rect x="1168" y="216" width="2" height="1" fill="#000"/>
<text x="1173" y="220" font-size="10.2" fill="#000" textLength="32.8" lengthAdjust="spacingAndGlyphs">6.49250</text>
<rect x="1168" y="249" width="2" height="1" fill="#000"/>
<text x="1173" y="253" font-size="10.2" fill="#000" textLength="32.8" lengthAdjust="spacingAndGlyphs">6.47450</text>
<rect x="1168" y="282" width="2" height="1" fill="#000"/>
<text x="1173" y="286" font-size="10.2" fill="#000" textLength="32.8" lengthAdjust="spacingAndGlyphs">6.45600</text>
<rect x="1168" y="315" width="2" height="1" fill="#000"/>
<text x="1173" y="319" font-size="10.2" fill="#000" textLength="32.8" lengthAdjust="spacingAndGlyphs">6.43800</text>
<rect x="1168" y="348" width="2" height="1" fill="#000"/>
<text x="1173" y="352" font-size="10.2" fill="#000" textLength="32.8" lengthAdjust="spacingAndGlyphs">6.41950</text>
<rect x="1168" y="381" width="2" height="1" fill="#000"/>
<text x="1173" y="385" font-size="10.2" fill="#000" textLength="32.8" lengthAdjust="spacingAndGlyphs">6.40150</text>
<rect x="1168" y="413" width="2" height="1" fill="#000"/>
<text x="1173" y="417" font-size="10.2" fill="#000" textLength="32.8" lengthAdjust="spacingAndGlyphs">6.38350</text>
<rect x="1168" y="447" width="2" height="1" fill="#000"/>
<text x="1173" y="451" font-size="10.2" fill="#000" textLength="32.8" lengthAdjust="spacingAndGlyphs">6.36500</text>
<rect x="1168" y="479" width="2" height="1" fill="#000"/>
<text x="1173" y="483" font-size="10.2" fill="#000" textLength="32.8" lengthAdjust="spacingAndGlyphs">6.34700</text>
<rect x="1169" y="43" width="38" height="11" fill="#ff0000"/>
<text x="1173" y="52" font-size="10.2" fill="#fff" textLength="32.8" lengthAdjust="spacingAndGlyphs">6.58514</text>
<rect x="1169" y="168" width="38" height="11" fill="#ff0000"/>
<text x="1173" y="177" font-size="10.2" fill="#fff" textLength="32.8" lengthAdjust="spacingAndGlyphs">6.51605</text>
<rect x="1169" y="286" width="38" height="11" fill="#00ff00"/>
<text x="1173" y="295" font-size="10.2" fill="#fff" textLength="32.8" lengthAdjust="spacingAndGlyphs">6.45060</text>
<rect x="1169" y="304" width="38" height="11" fill="#000000"/>
<text x="1173" y="313" font-size="10.2" fill="#fff" textLength="32.8" lengthAdjust="spacingAndGlyphs">6.44124</text>
<rect x="1169" y="377" width="38" height="11" fill="#0000ff"/>
<text x="1173" y="386" font-size="10.2" fill="#fff" textLength="32.8" lengthAdjust="spacingAndGlyphs">6.40042</text>
<rect x="1169" y="468" width="38" height="11" fill="#0000ff"/>
<text x="1173" y="477" font-size="10.2" fill="#fff" textLength="32.8" lengthAdjust="spacingAndGlyphs">6.35025</text>
<path d="M8 34 L11.5 29.6 L15 34 Z" fill="#000" shape-rendering="geometricPrecision"/>
<text x="20.5" y="35" font-size="10.2" fill="#000" textLength="65" lengthAdjust="spacingAndGlyphs">USDCNH,Daily</text>
<text x="92.5" y="35" font-size="10.2" fill="#000" textLength="140" lengthAdjust="spacingAndGlyphs">6.44131 6.44561 6.44024 6.44124</text>
<g id="panel">
<rect x="6" y="41" width="223" height="60" fill="#ffffff"/>
<defs><linearGradient id="gtop" x1="0" y1="0" x2="0" y2="1"><stop offset="0" stop-color="#f95050"/><stop offset="1" stop-color="#d82a2a"/></linearGradient><linearGradient id="gbot" x1="0" y1="0" x2="0" y2="1"><stop offset="0" stop-color="#d42424"/><stop offset="1" stop-color="#ab0000"/></linearGradient><linearGradient id="gbtn" x1="0" y1="0" x2="0" y2="1"><stop offset="0" stop-color="#f3f3f3"/><stop offset="0.36" stop-color="#e9e9e9"/><stop offset="0.36" stop-color="#d8d8d8"/><stop offset="1" stop-color="#d0d0d0"/></linearGradient><linearGradient id="gbotU" gradientUnits="userSpaceOnUse" x1="0" y1="67" x2="0" y2="100"><stop offset="0" stop-color="#d42424"/><stop offset="1" stop-color="#ab0000"/></linearGradient></defs>
<rect x="8" y="43" width="52" height="25" fill="url(#gtop)"/>
<rect x="8" y="67" width="109" height="33" fill="url(#gbot)"/>
<rect x="8" y="43" width="52" height="1" fill="#c01818"/>
<rect x="8" y="43" width="1" height="57" fill="#b81010"/>
<rect x="59" y="43" width="1" height="24" fill="#c01818"/>
<rect x="8" y="99" width="109" height="1" fill="#a00000"/>
<rect x="116" y="67" width="1" height="33" fill="#a80000"/>
<rect x="60" y="67" width="57" height="1" fill="#b81010"/>
<rect x="12" y="66" width="44" height="1" fill="#8c0000"/>
<rect x="12" y="67" width="44" height="1" fill="#f08080"/>
<rect x="175" y="43" width="52" height="25" fill="url(#gtop)"/>
<rect x="119" y="67" width="108" height="33" fill="url(#gbot)"/>
<rect x="175" y="43" width="52" height="1" fill="#c01818"/>
<rect x="226" y="43" width="1" height="57" fill="#b81010"/>
<rect x="175" y="43" width="1" height="24" fill="#c01818"/>
<rect x="119" y="99" width="108" height="1" fill="#a00000"/>
<rect x="119" y="67" width="1" height="33" fill="#a80000"/>
<rect x="119" y="67" width="57" height="1" fill="#b81010"/>
<rect x="179" y="66" width="44" height="1" fill="#8c0000"/>
<rect x="179" y="67" width="44" height="1" fill="#f08080"/>
<rect x="62" y="43" width="111" height="22" fill="#ffffff"/>
<rect x="62" y="43" width="111" height="1" fill="#a8acb4"/>
<rect x="62" y="64" width="111" height="1" fill="#a8acb4"/>
<rect x="62" y="43" width="1" height="22" fill="#a8acb4"/>
<rect x="172" y="43" width="1" height="22" fill="#a8acb4"/>
<rect x="64" y="45" width="18" height="18" fill="url(#gbtn)"/>
<rect x="83" y="44" width="1" height="20" fill="#b0b4bc"/>
<rect x="153" y="45" width="18" height="18" fill="url(#gbtn)"/>
<rect x="151" y="44" width="1" height="20" fill="#b0b4bc"/>
<path d="M69.5 52 L75.5 52 L72.5 55 Z" fill="#4864c0" shape-rendering="geometricPrecision"/>
<path d="M158.5 55 L164.5 55 L161.5 52 Z" fill="#4864c0" shape-rendering="geometricPrecision"/>
<text x="124.5" y="58" font-size="12" fill="#101030" textLength="23" lengthAdjust="spacingAndGlyphs">3.00</text>
<text x="20.5" y="59" font-size="12.3" fill="#fff" textLength="25.5" lengthAdjust="spacingAndGlyphs">SELL</text>
<text x="188.5" y="59" font-size="12.3" fill="#fff" textLength="22.6" lengthAdjust="spacingAndGlyphs">BUY</text>
<text x="28" y="94.7" font-size="12" fill="#fff" font-weight="bold" textLength="23.6" lengthAdjust="spacingAndGlyphs">6.44</text>
<text x="55.2" y="95.3" font-size="35.2" fill="#fff" textLength="36.2" lengthAdjust="spacingAndGlyphs" stroke="url(#gbotU)" stroke-width="0.5">12</text>
<text x="95.2" y="78.8" font-size="12" fill="#fff" font-weight="bold">7</text>
<text x="138" y="94.7" font-size="12" fill="#fff" font-weight="bold" textLength="23.6" lengthAdjust="spacingAndGlyphs">6.44</text>
<text x="166.8" y="95.3" font-size="35.2" fill="#fff" textLength="34.8" lengthAdjust="spacingAndGlyphs" stroke="url(#gbotU)" stroke-width="0.5">53</text>
<text x="206.3" y="78.8" font-size="12" fill="#fff" font-weight="bold">6</text>
</g>
<g id="macd">
<rect x="5" y="524" width="2" height="32" fill="#c0c0c0"/>
<rect x="8" y="524" width="3" height="30" fill="#c0c0c0"/>
<rect x="12" y="524" width="3" height="27" fill="#c0c0c0"/>
<rect x="16" y="524" width="3" height="23" fill="#c0c0c0"/>
<rect x="20" y="524" width="3" height="21" fill="#c0c0c0"/>
<rect x="24" y="524" width="3" height="22" fill="#c0c0c0"/>
<rect x="28" y="524" width="3" height="22" fill="#c0c0c0"/>
<rect x="32" y="524" width="3" height="19" fill="#c0c0c0"/>
<rect x="36" y="524" width="3" height="18" fill="#c0c0c0"/>
<rect x="40" y="524" width="3" height="20" fill="#c0c0c0"/>
<rect x="44" y="524" width="3" height="21" fill="#c0c0c0"/>
<rect x="48" y="524" width="3" height="23" fill="#c0c0c0"/>
<rect x="52" y="524" width="3" height="23" fill="#c0c0c0"/>
<rect x="56" y="524" width="3" height="28" fill="#c0c0c0"/>
<rect x="60" y="524" width="3" height="34" fill="#c0c0c0"/>
<rect x="64" y="524" width="3" height="37" fill="#c0c0c0"/>
<rect x="68" y="524" width="3" height="36" fill="#c0c0c0"/>
<rect x="72" y="524" width="3" height="37" fill="#c0c0c0"/>
<rect x="76" y="524" width="3" height="36" fill="#c0c0c0"/>
<rect x="80" y="524" width="3" height="32" fill="#c0c0c0"/>
<rect x="84" y="524" width="3" height="31" fill="#c0c0c0"/>
<rect x="88" y="524" width="3" height="32" fill="#c0c0c0"/>
<rect x="92" y="524" width="3" height="30" fill="#c0c0c0"/>
<rect x="96" y="524" width="3" height="27" fill="#c0c0c0"/>
<rect x="100" y="524" width="3" height="24" fill="#c0c0c0"/>
<rect x="104" y="524" width="3" height="20" fill="#c0c0c0"/>
<rect x="108" y="524" width="3" height="19" fill="#c0c0c0"/>
<rect x="112" y="524" width="3" height="19" fill="#c0c0c0"/>
<rect x="116" y="524" width="3" height="19" fill="#c0c0c0"/>
<rect x="120" y="524" width="3" height="16" fill="#c0c0c0"/>
<rect x="124" y="524" width="3" height="12" fill="#c0c0c0"/>
<rect x="128" y="524" width="3" height="10" fill="#c0c0c0"/>
<rect x="132" y="524" width="3" height="11" fill="#c0c0c0"/>
<rect x="136" y="524" width="3" height="9" fill="#c0c0c0"/>
<rect x="140" y="524" width="3" height="9" fill="#c0c0c0"/>
<rect x="144" y="524" width="3" height="12" fill="#c0c0c0"/>
<rect x="148" y="524" width="3" height="15" fill="#c0c0c0"/>
<rect x="152" y="524" width="3" height="13" fill="#c0c0c0"/>
<rect x="156" y="524" width="3" height="14" fill="#c0c0c0"/>
<rect x="160" y="524" width="3" height="14" fill="#c0c0c0"/>
<rect x="164" y="524" width="3" height="12" fill="#c0c0c0"/>
<rect x="168" y="524" width="3" height="12" fill="#c0c0c0"/>
<rect x="172" y="524" width="3" height="12" fill="#c0c0c0"/>
<rect x="176" y="524" width="3" height="15" fill="#c0c0c0"/>
<rect x="180" y="524" width="3" height="18" fill="#c0c0c0"/>
<rect x="184" y="524" width="3" height="20" fill="#c0c0c0"/>
<rect x="188" y="524" width="3" height="24" fill="#c0c0c0"/>
<rect x="192" y="524" width="3" height="24" fill="#c0c0c0"/>
<rect x="196" y="524" width="3" height="26" fill="#c0c0c0"/>
<rect x="200" y="524" width="3" height="28" fill="#c0c0c0"/>
<rect x="204" y="524" width="3" height="28" fill="#c0c0c0"/>
<rect x="208" y="524" width="3" height="24" fill="#c0c0c0"/>
<rect x="212" y="524" width="3" height="18" fill="#c0c0c0"/>
<rect x="216" y="524" width="3" height="15" fill="#c0c0c0"/>
<rect x="220" y="524" width="3" height="12" fill="#c0c0c0"/>
<rect x="224" y="524" width="3" height="7" fill="#c0c0c0"/>
<rect x="228" y="524" width="3" height="5" fill="#c0c0c0"/>
<rect x="232" y="524" width="3" height="5" fill="#c0c0c0"/>
<rect x="236" y="524" width="3" height="3" fill="#c0c0c0"/>
<rect x="240" y="523" width="3" height="1" fill="#c0c0c0"/>
<rect x="244" y="520" width="3" height="4" fill="#c0c0c0"/>
<rect x="248" y="520" width="3" height="4" fill="#c0c0c0"/>
<rect x="252" y="518" width="3" height="6" fill="#c0c0c0"/>
<rect x="256" y="518" width="3" height="6" fill="#c0c0c0"/>
<rect x="260" y="517" width="3" height="7" fill="#c0c0c0"/>
<rect x="264" y="512" width="3" height="12" fill="#c0c0c0"/>
<rect x="268" y="508" width="3" height="16" fill="#c0c0c0"/>
<rect x="272" y="501" width="3" height="23" fill="#c0c0c0"/>
<rect x="276" y="499" width="3" height="25" fill="#c0c0c0"/>
<rect x="280" y="499" width="3" height="25" fill="#c0c0c0"/>
<rect x="284" y="502" width="3" height="22" fill="#c0c0c0"/>
<rect x="288" y="503" width="3" height="21" fill="#c0c0c0"/>
<rect x="292" y="505" width="3" height="19" fill="#c0c0c0"/>
<rect x="296" y="506" width="3" height="18" fill="#c0c0c0"/>
<rect x="300" y="507" width="3" height="17" fill="#c0c0c0"/>
<rect x="304" y="507" width="3" height="17" fill="#c0c0c0"/>
<rect x="308" y="508" width="3" height="16" fill="#c0c0c0"/>
<rect x="312" y="508" width="3" height="16" fill="#c0c0c0"/>
<rect x="316" y="508" width="3" height="16" fill="#c0c0c0"/>
<rect x="320" y="509" width="3" height="15" fill="#c0c0c0"/>
<rect x="324" y="509" width="3" height="15" fill="#c0c0c0"/>
<rect x="328" y="509" width="3" height="15" fill="#c0c0c0"/>
<rect x="332" y="504" width="3" height="20" fill="#c0c0c0"/>
<rect x="336" y="502" width="3" height="22" fill="#c0c0c0"/>
<rect x="340" y="501" width="3" height="23" fill="#c0c0c0"/>
<rect x="344" y="497" width="3" height="27" fill="#c0c0c0"/>
<rect x="348" y="494" width="3" height="30" fill="#c0c0c0"/>
<rect x="352" y="493" width="3" height="31" fill="#c0c0c0"/>
<rect x="356" y="491" width="3" height="33" fill="#c0c0c0"/>
<rect x="360" y="490" width="3" height="34" fill="#c0c0c0"/>
<rect x="364" y="490" width="3" height="34" fill="#c0c0c0"/>
<rect x="368" y="492" width="3" height="32" fill="#c0c0c0"/>
<rect x="372" y="496" width="3" height="28" fill="#c0c0c0"/>
<rect x="376" y="499" width="3" height="25" fill="#c0c0c0"/>
<rect x="380" y="500" width="3" height="24" fill="#c0c0c0"/>
<rect x="384" y="501" width="3" height="23" fill="#c0c0c0"/>
<rect x="388" y="502" width="3" height="22" fill="#c0c0c0"/>
<rect x="392" y="504" width="3" height="20" fill="#c0c0c0"/>
<rect x="396" y="506" width="3" height="18" fill="#c0c0c0"/>
<rect x="400" y="511" width="3" height="13" fill="#c0c0c0"/>
<rect x="404" y="514" width="3" height="10" fill="#c0c0c0"/>
<rect x="408" y="517" width="3" height="7" fill="#c0c0c0"/>
<rect x="412" y="520" width="3" height="4" fill="#c0c0c0"/>
<rect x="416" y="523" width="3" height="1" fill="#c0c0c0"/>
<rect x="420" y="524" width="3" height="5" fill="#c0c0c0"/>
<rect x="424" y="524" width="3" height="9" fill="#c0c0c0"/>
<rect x="428" y="524" width="3" height="13" fill="#c0c0c0"/>
<rect x="432" y="524" width="3" height="15" fill="#c0c0c0"/>
<rect x="436" y="524" width="3" height="17" fill="#c0c0c0"/>
<rect x="440" y="524" width="3" height="20" fill="#c0c0c0"/>
<rect x="444" y="524" width="3" height="22" fill="#c0c0c0"/>
<rect x="448" y="524" width="3" height="23" fill="#c0c0c0"/>
<rect x="452" y="524" width="3" height="25" fill="#c0c0c0"/>
<rect x="456" y="524" width="3" height="26" fill="#c0c0c0"/>
<rect x="460" y="524" width="3" height="26" fill="#c0c0c0"/>
<rect x="464" y="524" width="3" height="26" fill="#c0c0c0"/>
<rect x="468" y="524" width="3" height="24" fill="#c0c0c0"/>
<rect x="472" y="524" width="3" height="22" fill="#c0c0c0"/>
<rect x="476" y="524" width="3" height="23" fill="#c0c0c0"/>
<rect x="480" y="524" width="3" height="29" fill="#c0c0c0"/>
<rect x="484" y="524" width="3" height="33" fill="#c0c0c0"/>
<rect x="488" y="524" width="3" height="37" fill="#c0c0c0"/>
<rect x="492" y="524" width="3" height="38" fill="#c0c0c0"/>
<rect x="496" y="524" width="3" height="34" fill="#c0c0c0"/>
<rect x="500" y="524" width="3" height="30" fill="#c0c0c0"/>
<rect x="504" y="524" width="3" height="30" fill="#c0c0c0"/>
<rect x="508" y="524" width="3" height="30" fill="#c0c0c0"/>
<rect x="512" y="524" width="3" height="28" fill="#c0c0c0"/>
<rect x="516" y="524" width="3" height="29" fill="#c0c0c0"/>
<rect x="520" y="524" width="3" height="29" fill="#c0c0c0"/>
<rect x="524" y="524" width="3" height="28" fill="#c0c0c0"/>
<rect x="528" y="524" width="3" height="26" fill="#c0c0c0"/>
<rect x="532" y="524" width="3" height="24" fill="#c0c0c0"/>
<rect x="536" y="524" width="3" height="26" fill="#c0c0c0"/>
<rect x="540" y="524" width="3" height="26" fill="#c0c0c0"/>
<rect x="544" y="524" width="3" height="31" fill="#c0c0c0"/>
<rect x="548" y="524" width="3" height="34" fill="#c0c0c0"/>
<rect x="552" y="524" width="3" height="38" fill="#c0c0c0"/>
<rect x="556" y="524" width="3" height="41" fill="#c0c0c0"/>
<rect x="560" y="524" width="3" height="42" fill="#c0c0c0"/>
<rect x="564" y="524" width="3" height="40" fill="#c0c0c0"/>
<rect x="568" y="524" width="3" height="39" fill="#c0c0c0"/>
<rect x="572" y="524" width="3" height="36" fill="#c0c0c0"/>
<rect x="576" y="524" width="3" height="34" fill="#c0c0c0"/>
<rect x="580" y="524" width="3" height="32" fill="#c0c0c0"/>
<rect x="584" y="524" width="3" height="30" fill="#c0c0c0"/>
<rect x="588" y="524" width="3" height="27" fill="#c0c0c0"/>
<rect x="592" y="524" width="3" height="25" fill="#c0c0c0"/>
<rect x="596" y="524" width="3" height="24" fill="#c0c0c0"/>
<rect x="600" y="524" width="3" height="21" fill="#c0c0c0"/>
<rect x="604" y="524" width="3" height="20" fill="#c0c0c0"/>
<rect x="608" y="524" width="3" height="17" fill="#c0c0c0"/>
<rect x="612" y="524" width="3" height="14" fill="#c0c0c0"/>
<rect x="616" y="524" width="3" height="13" fill="#c0c0c0"/>
<rect x="620" y="524" width="3" height="5" fill="#c0c0c0"/>
<rect x="624" y="521" width="3" height="3" fill="#c0c0c0"/>
<rect x="628" y="517" width="3" height="7" fill="#c0c0c0"/>
<rect x="632" y="511" width="3" height="13" fill="#c0c0c0"/>
<rect x="636" y="505" width="3" height="19" fill="#c0c0c0"/>
<rect x="640" y="502" width="3" height="22" fill="#c0c0c0"/>
<rect x="644" y="500" width="3" height="24" fill="#c0c0c0"/>
<rect x="648" y="500" width="3" height="24" fill="#c0c0c0"/>
<rect x="652" y="501" width="3" height="23" fill="#c0c0c0"/>
<rect x="656" y="502" width="3" height="22" fill="#c0c0c0"/>
<rect x="660" y="502" width="3" height="22" fill="#c0c0c0"/>
<rect x="664" y="502" width="3" height="22" fill="#c0c0c0"/>
<rect x="668" y="502" width="3" height="22" fill="#c0c0c0"/>
<rect x="672" y="501" width="3" height="23" fill="#c0c0c0"/>
<rect x="676" y="501" width="3" height="23" fill="#c0c0c0"/>
<rect x="680" y="502" width="3" height="22" fill="#c0c0c0"/>
<rect x="684" y="502" width="3" height="22" fill="#c0c0c0"/>
<rect x="688" y="502" width="3" height="22" fill="#c0c0c0"/>
<rect x="692" y="501" width="3" height="23" fill="#c0c0c0"/>
<rect x="696" y="501" width="3" height="23" fill="#c0c0c0"/>
<rect x="700" y="502" width="3" height="22" fill="#c0c0c0"/>
<rect x="704" y="504" width="3" height="20" fill="#c0c0c0"/>
<rect x="708" y="506" width="3" height="18" fill="#c0c0c0"/>
<rect x="712" y="509" width="3" height="15" fill="#c0c0c0"/>
<rect x="716" y="511" width="3" height="13" fill="#c0c0c0"/>
<rect x="720" y="511" width="3" height="13" fill="#c0c0c0"/>
<rect x="724" y="511" width="3" height="13" fill="#c0c0c0"/>
<rect x="728" y="510" width="3" height="14" fill="#c0c0c0"/>
<rect x="732" y="510" width="3" height="14" fill="#c0c0c0"/>
<rect x="736" y="513" width="3" height="11" fill="#c0c0c0"/>
<rect x="740" y="513" width="3" height="11" fill="#c0c0c0"/>
<rect x="744" y="513" width="3" height="11" fill="#c0c0c0"/>
<rect x="748" y="514" width="3" height="10" fill="#c0c0c0"/>
<rect x="752" y="514" width="3" height="10" fill="#c0c0c0"/>
<rect x="756" y="509" width="3" height="15" fill="#c0c0c0"/>
<rect x="760" y="508" width="3" height="16" fill="#c0c0c0"/>
<rect x="764" y="513" width="3" height="11" fill="#c0c0c0"/>
<rect x="768" y="516" width="3" height="8" fill="#c0c0c0"/>
<rect x="772" y="518" width="3" height="6" fill="#c0c0c0"/>
<rect x="776" y="520" width="3" height="4" fill="#c0c0c0"/>
<rect x="780" y="522" width="3" height="2" fill="#c0c0c0"/>
<rect x="784" y="523" width="3" height="1" fill="#c0c0c0"/>
<rect x="788" y="524" width="3" height="2" fill="#c0c0c0"/>
<rect x="792" y="524" width="3" height="1" fill="#c0c0c0"/>
<rect x="796" y="523" width="3" height="1" fill="#c0c0c0"/>
<rect x="800" y="521" width="3" height="3" fill="#c0c0c0"/>
<rect x="804" y="520" width="3" height="4" fill="#c0c0c0"/>
<rect x="808" y="520" width="3" height="4" fill="#c0c0c0"/>
<rect x="812" y="521" width="3" height="3" fill="#c0c0c0"/>
<rect x="816" y="521" width="3" height="3" fill="#c0c0c0"/>
<rect x="820" y="521" width="3" height="3" fill="#c0c0c0"/>
<rect x="824" y="521" width="3" height="3" fill="#c0c0c0"/>
<rect x="828" y="519" width="3" height="5" fill="#c0c0c0"/>
<rect x="832" y="519" width="3" height="5" fill="#c0c0c0"/>
<rect x="836" y="517" width="3" height="7" fill="#c0c0c0"/>
<rect x="840" y="515" width="3" height="9" fill="#c0c0c0"/>
<rect x="844" y="514" width="3" height="10" fill="#c0c0c0"/>
<rect x="848" y="516" width="3" height="8" fill="#c0c0c0"/>
<rect x="852" y="519" width="3" height="5" fill="#c0c0c0"/>
<rect x="856" y="520" width="3" height="4" fill="#c0c0c0"/>
<rect x="860" y="521" width="3" height="3" fill="#c0c0c0"/>
<rect x="864" y="523" width="3" height="1" fill="#c0c0c0"/>
<rect x="868" y="524" width="3" height="3" fill="#c0c0c0"/>
<rect x="872" y="524" width="3" height="4" fill="#c0c0c0"/>
<rect x="876" y="524" width="3" height="6" fill="#c0c0c0"/>
<rect x="880" y="524" width="3" height="8" fill="#c0c0c0"/>
<rect x="884" y="524" width="3" height="10" fill="#c0c0c0"/>
<rect x="888" y="524" width="3" height="13" fill="#c0c0c0"/>
<rect x="892" y="524" width="3" height="15" fill="#c0c0c0"/>
<rect x="896" y="524" width="3" height="14" fill="#c0c0c0"/>
<rect x="900" y="524" width="3" height="13" fill="#c0c0c0"/>
<rect x="904" y="524" width="3" height="11" fill="#c0c0c0"/>
<rect x="908" y="524" width="3" height="12" fill="#c0c0c0"/>
<rect x="912" y="524" width="3" height="12" fill="#c0c0c0"/>
<rect x="916" y="524" width="3" height="14" fill="#c0c0c0"/>
<rect x="920" y="524" width="3" height="14" fill="#c0c0c0"/>
<rect x="924" y="524" width="3" height="14" fill="#c0c0c0"/>
<path d="M5 558h1v1h-1zM6 557h1v1h-1zM7 557h1v1h-1zM8 557h1v1h-1zM9 556h1v1h-1zM10 556h1v1h-1zM11 555h1v1h-1zM12 555h1v1h-1zM13 555h1v1h-1zM14 554h1v1h-1zM15 554h1v1h-1zM16 554h1v1h-1zM17 553h1v1h-1zM18 553h1v1h-1zM19 552h1v1h-1zM20 552h1v1h-1zM21 552h1v1h-1zM22 551h1v1h-1zM23 551h1v1h-1zM24 551h1v1h-1zM25 551h1v1h-1zM26 550h1v1h-1zM27 550h1v1h-1zM28 550h1v1h-1zM29 549h1v1h-1zM30 549h1v1h-1zM31 549h1v1h-1zM32 548h1v1h-1zM33 548h1v1h-1zM34 548h1v1h-1zM35 547h1v1h-1zM36 547h1v1h-1zM37 546h1v1h-1zM38 546h1v1h-1zM39 545h1v2h-1zM40 545h1v1h-1zM41 545h1v1h-1zM42 545h1v1h-1zM43 545h1v1h-1zM44 545h1v1h-1zM45 544h1v1h-1zM46 544h1v1h-1zM47 544h1v1h-1zM48 544h1v1h-1zM49 544h1v1h-1zM50 544h1v1h-1zM51 544h1v1h-1zM52 544h1v1h-1zM53 544h1v1h-1zM54 544h1v1h-1zM55 544h1v1h-1zM56 544h1v1h-1zM57 544h1v1h-1zM58 545h1v1h-1zM59 545h1v1h-1zM60 545h1v2h-1zM61 546h1v1h-1zM62 546h1v1h-1zM63 547h1v1h-1zM64 547h1v1h-1zM65 548h1v1h-1zM66 548h1v1h-1zM67 549h1v1h-1zM68 549h1v1h-1zM69 550h1v1h-1zM70 550h1v1h-1zM71 551h1v1h-1zM72 551h1v1h-1zM73 552h1v1h-1zM74 552h1v1h-1zM75 553h1v1h-1zM76 553h1v1h-1zM77 554h1v1h-1zM78 554h1v1h-1zM79 554h1v1h-1zM80 555h1v1h-1zM81 555h1v1h-1zM82 555h1v1h-1zM83 555h1v1h-1zM84 556h1v1h-1zM85 556h1v1h-1zM86 556h1v1h-1zM87 557h1v1h-1zM88 557h1v1h-1zM89 557h1v1h-1zM90 557h1v1h-1zM91 557h1v1h-1zM92 557h1v1h-1zM93 557h1v1h-1zM94 557h1v1h-1zM95 557h1v1h-1zM96 557h1v1h-1zM97 557h1v1h-1zM98 557h1v1h-1zM99 556h1v1h-1zM100 556h1v1h-1zM101 555h1v1h-1zM102 555h1v1h-1zM103 554h1v1h-1zM104 553h1v1h-1zM105 553h1v1h-1zM106 552h1v1h-1zM107 552h1v1h-1zM108 551h1v1h-1zM109 551h1v1h-1zM110 550h1v1h-1zM111 550h1v1h-1zM112 550h1v1h-1zM113 549h1v1h-1zM114 549h1v1h-1zM115 548h1v1h-1zM116 548h1v1h-1zM117 548h1v1h-1zM118 547h1v1h-1zM119 547h1v1h-1zM120 547h1v1h-1zM121 546h1v1h-1zM122 546h1v1h-1zM123 545h1v1h-1zM124 544h1v1h-1zM125 544h1v1h-1zM126 543h1v1h-1zM127 542h1v1h-1zM128 542h1v1h-1zM129 541h1v1h-1zM130 540h1v2h-1zM131 540h1v1h-1zM132 540h1v1h-1zM133 539h1v1h-1zM134 539h1v1h-1zM135 539h1v1h-1zM136 538h1v1h-1zM137 538h1v1h-1zM138 538h1v1h-1zM139 538h1v1h-1zM140 537h1v1h-1zM141 537h1v1h-1zM142 537h1v1h-1zM143 536h1v1h-1zM144 536h1v1h-1zM145 536h1v1h-1zM146 536h1v1h-1zM147 536h1v1h-1zM148 536h1v1h-1zM149 535h1v1h-1zM150 535h1v1h-1zM151 535h1v1h-1zM152 535h1v1h-1zM153 535h1v1h-1zM154 535h1v1h-1zM155 535h1v1h-1zM156 535h1v1h-1zM157 535h1v1h-1zM158 535h1v1h-1zM159 535h1v1h-1zM160 535h1v1h-1zM161 535h1v1h-1zM162 535h1v1h-1zM163 535h1v1h-1zM164 535h1v1h-1zM165 535h1v1h-1zM166 535h1v1h-1zM167 535h1v1h-1zM168 535h1v1h-1zM169 535h1v1h-1zM170 535h1v1h-1zM171 535h1v1h-1zM172 535h1v1h-1zM173 535h1v1h-1zM174 536h1v1h-1zM175 536h1v1h-1zM176 536h1v1h-1zM177 536h1v1h-1zM178 536h1v1h-1zM179 536h1v1h-1zM180 537h1v1h-1zM181 537h1v1h-1zM182 537h1v1h-1zM183 537h1v1h-1zM184 537h1v1h-1zM185 538h1v1h-1zM186 538h1v1h-1zM187 538h1v1h-1zM188 538h1v1h-1zM189 539h1v1h-1zM190 539h1v1h-1zM191 539h1v1h-1zM192 539h1v1h-1zM193 540h1v1h-1zM194 540h1v1h-1zM195 540h1v1h-1zM196 540h1v1h-1zM197 541h1v1h-1zM198 541h1v1h-1zM199 542h1v1h-1zM200 542h1v1h-1zM201 542h1v1h-1zM202 543h1v1h-1zM203 543h1v1h-1zM204 544h1v1h-1zM205 544h1v1h-1zM206 545h1v1h-1zM207 545h1v1h-1zM208 546h1v1h-1zM209 546h1v1h-1zM210 546h1v1h-1zM211 546h1v1h-1zM212 547h1v1h-1zM213 547h1v1h-1zM214 547h1v1h-1zM215 547h1v1h-1zM216 546h1v1h-1zM217 546h1v1h-1zM218 546h1v1h-1zM219 546h1v1h-1zM220 545h1v1h-1zM221 545h1v1h-1zM222 544h1v1h-1zM223 544h1v1h-1zM224 543h1v2h-1zM225 543h1v1h-1zM226 543h1v1h-1zM227 542h1v1h-1zM228 542h1v1h-1zM229 541h1v1h-1zM230 541h1v1h-1zM231 540h1v1h-1zM232 540h1v1h-1zM233 539h1v1h-1zM234 539h1v1h-1zM235 538h1v1h-1zM236 537h1v1h-1zM237 536h1v1h-1zM238 536h1v1h-1zM239 535h1v1h-1zM240 534h1v1h-1zM241 533h1v1h-1zM242 533h1v1h-1zM243 532h1v1h-1zM244 531h1v1h-1zM245 530h1v1h-1zM246 529h1v1h-1zM247 529h1v1h-1zM248 528h1v1h-1zM249 528h1v1h-1zM250 527h1v1h-1zM251 527h1v1h-1zM252 526h1v1h-1zM253 525h1v1h-1zM254 525h1v1h-1zM255 525h1v1h-1zM256 524h1v1h-1zM257 524h1v1h-1zM258 523h1v1h-1zM259 523h1v1h-1zM260 522h1v1h-1zM261 522h1v1h-1zM262 521h1v1h-1zM263 521h1v1h-1zM264 521h1v1h-1zM265 520h1v1h-1zM266 520h1v1h-1zM267 519h1v1h-1zM268 519h1v1h-1zM269 518h1v1h-1zM270 518h1v1h-1zM271 517h1v1h-1zM272 516h1v1h-1zM273 515h1v1h-1zM274 515h1v1h-1zM275 514h1v1h-1zM276 513h1v1h-1zM277 513h1v1h-1zM278 512h1v1h-1zM279 511h1v1h-1zM280 511h1v1h-1zM281 510h1v1h-1zM282 509h1v1h-1zM283 509h1v1h-1zM284 508h1v1h-1zM285 508h1v1h-1zM286 507h1v1h-1zM287 507h1v1h-1zM288 507h1v1h-1zM289 506h1v1h-1zM290 506h1v1h-1zM291 506h1v1h-1zM292 505h1v2h-1zM293 505h1v1h-1zM294 505h1v1h-1zM295 505h1v1h-1zM296 504h1v1h-1zM297 504h1v1h-1zM298 504h1v1h-1zM299 503h1v1h-1zM300 503h1v1h-1zM301 503h1v1h-1zM302 503h1v1h-1zM303 503h1v1h-1zM304 503h1v1h-1zM305 503h1v1h-1zM306 503h1v1h-1zM307 503h1v1h-1zM308 503h1v1h-1zM309 504h1v1h-1zM310 504h1v1h-1zM311 504h1v1h-1zM312 504h1v1h-1zM313 505h1v1h-1zM314 505h1v1h-1zM315 505h1v1h-1zM316 505h1v1h-1zM317 506h1v1h-1zM318 506h1v1h-1zM319 506h1v1h-1zM320 506h1v1h-1zM321 507h1v1h-1zM322 507h1v1h-1zM323 507h1v1h-1zM324 507h1v1h-1zM325 507h1v1h-1zM326 507h1v1h-1zM327 508h1v1h-1zM328 508h1v1h-1zM329 508h1v1h-1zM330 508h1v1h-1zM331 508h1v1h-1zM332 508h1v1h-1zM333 508h1v1h-1zM334 508h1v1h-1zM335 507h1v1h-1zM336 507h1v1h-1zM337 507h1v1h-1zM338 507h1v1h-1zM339 506h1v1h-1zM340 506h1v1h-1zM341 506h1v1h-1zM342 506h1v1h-1zM343 505h1v1h-1zM344 505h1v1h-1zM345 505h1v1h-1zM346 505h1v1h-1zM347 504h1v1h-1zM348 504h1v1h-1zM349 504h1v1h-1zM350 503h1v1h-1zM351 503h1v1h-1zM352 502h1v1h-1zM353 502h1v1h-1zM354 501h1v1h-1zM355 500h1v1h-1zM356 500h1v1h-1zM357 499h1v1h-1zM358 499h1v1h-1zM359 499h1v1h-1zM360 498h1v1h-1zM361 498h1v1h-1zM362 497h1v1h-1zM363 497h1v1h-1zM364 496h1v1h-1zM365 496h1v1h-1zM366 496h1v1h-1zM367 495h1v1h-1zM368 495h1v1h-1zM369 495h1v1h-1zM370 495h1v1h-1zM371 494h1v1h-1zM372 494h1v1h-1zM373 494h1v1h-1zM374 494h1v1h-1zM375 494h1v1h-1zM376 494h1v1h-1zM377 494h1v1h-1zM378 494h1v1h-1zM379 494h1v1h-1zM380 494h1v1h-1zM381 494h1v1h-1zM382 494h1v1h-1zM383 494h1v1h-1zM384 494h1v1h-1zM385 495h1v1h-1zM386 495h1v1h-1zM387 495h1v1h-1zM388 495h1v1h-1zM389 496h1v1h-1zM390 496h1v1h-1zM391 496h1v1h-1zM392 496h1v1h-1zM393 497h1v1h-1zM394 497h1v1h-1zM395 498h1v1h-1zM396 498h1v1h-1zM397 498h1v1h-1zM398 499h1v1h-1zM399 499h1v1h-1zM400 500h1v1h-1zM401 501h1v1h-1zM402 501h1v1h-1zM403 502h1v1h-1zM404 503h1v1h-1zM405 504h1v1h-1zM406 504h1v1h-1zM407 505h1v1h-1zM408 505h1v1h-1zM409 506h1v1h-1zM410 506h1v1h-1zM411 507h1v1h-1zM412 507h1v1h-1zM413 508h1v1h-1zM414 508h1v1h-1zM415 509h1v1h-1zM416 510h1v1h-1zM417 510h1v1h-1zM418 511h1v1h-1zM419 511h1v2h-1zM420 512h1v1h-1zM421 513h1v1h-1zM422 514h1v1h-1zM423 514h1v1h-1zM424 515h1v1h-1zM425 516h1v1h-1zM426 517h1v1h-1zM427 518h1v1h-1zM428 519h1v1h-1zM429 520h1v1h-1zM430 521h1v1h-1zM431 522h1v1h-1zM432 523h1v1h-1zM433 524h1v1h-1zM434 525h1v1h-1zM435 526h1v1h-1zM436 527h1v1h-1zM437 528h1v1h-1zM438 528h1v1h-1zM439 529h1v1h-1zM440 530h1v1h-1zM441 531h1v1h-1zM442 531h1v1h-1zM443 532h1v1h-1zM444 533h1v2h-1zM445 534h1v1h-1zM446 534h1v1h-1zM447 535h1v1h-1zM448 536h1v1h-1zM449 536h1v1h-1zM450 537h1v1h-1zM451 538h1v1h-1zM452 539h1v1h-1zM453 539h1v2h-1zM454 540h1v1h-1zM455 541h1v1h-1zM456 541h1v1h-1zM457 542h1v1h-1zM458 542h1v1h-1zM459 543h1v1h-1zM460 543h1v1h-1zM461 544h1v1h-1zM462 544h1v1h-1zM463 544h1v1h-1zM464 544h1v1h-1zM465 545h1v1h-1zM466 545h1v1h-1zM467 545h1v1h-1zM468 545h1v1h-1zM469 546h1v1h-1zM470 546h1v1h-1zM471 546h1v1h-1zM472 546h1v1h-1zM473 547h1v1h-1zM474 547h1v1h-1zM475 547h1v1h-1zM476 547h1v1h-1zM477 547h1v1h-1zM478 547h1v1h-1zM479 547h1v1h-1zM480 547h1v1h-1zM481 547h1v1h-1zM482 547h1v1h-1zM483 548h1v1h-1zM484 548h1v1h-1zM485 548h1v2h-1zM486 549h1v1h-1zM487 549h1v1h-1zM488 549h1v1h-1zM489 550h1v1h-1zM490 550h1v1h-1zM491 551h1v1h-1zM492 551h1v1h-1zM493 552h1v1h-1zM494 552h1v1h-1zM495 552h1v1h-1zM496 552h1v1h-1zM497 552h1v1h-1zM498 552h1v1h-1zM499 552h1v1h-1zM500 552h1v1h-1zM501 552h1v1h-1zM502 553h1v1h-1zM503 553h1v1h-1zM504 553h1v1h-1zM505 554h1v1h-1zM506 554h1v1h-1zM507 554h1v1h-1zM508 555h1v1h-1zM509 555h1v1h-1zM510 555h1v1h-1zM511 555h1v1h-1zM512 555h1v1h-1zM513 555h1v1h-1zM514 555h1v1h-1zM515 555h1v1h-1zM516 555h1v1h-1zM517 555h1v1h-1zM518 555h1v1h-1zM519 555h1v1h-1zM520 555h1v1h-1zM521 555h1v1h-1zM522 555h1v1h-1zM523 555h1v1h-1zM524 554h1v1h-1zM525 554h1v1h-1zM526 553h1v1h-1zM527 553h1v1h-1zM528 552h1v1h-1zM529 552h1v1h-1zM530 552h1v1h-1zM531 551h1v1h-1zM532 551h1v1h-1zM533 551h1v1h-1zM534 551h1v1h-1zM535 551h1v1h-1zM536 551h1v1h-1zM537 551h1v1h-1zM538 551h1v1h-1zM539 551h1v1h-1zM540 550h1v1h-1zM541 550h1v1h-1zM542 550h1v1h-1zM543 550h1v1h-1zM544 550h1v1h-1zM545 550h1v1h-1zM546 550h1v1h-1zM547 550h1v1h-1zM548 550h1v1h-1zM549 550h1v1h-1zM550 551h1v1h-1zM551 551h1v1h-1zM552 551h1v1h-1zM553 552h1v1h-1zM554 552h1v1h-1zM555 552h1v1h-1zM556 552h1v1h-1zM557 553h1v1h-1zM558 553h1v1h-1zM559 553h1v1h-1zM560 554h1v1h-1zM561 554h1v1h-1zM562 555h1v1h-1zM563 556h1v1h-1zM564 556h1v1h-1zM565 556h1v1h-1zM566 557h1v1h-1zM567 557h1v1h-1zM568 557h1v1h-1zM569 558h1v1h-1zM570 558h1v1h-1zM571 559h1v1h-1zM572 559h1v1h-1zM573 560h1v1h-1zM574 560h1v1h-1zM575 560h1v1h-1zM576 560h1v1h-1zM577 560h1v1h-1zM578 560h1v1h-1zM579 560h1v1h-1zM580 560h1v1h-1zM581 560h1v1h-1zM582 560h1v1h-1zM583 560h1v1h-1zM584 560h1v1h-1zM585 560h1v1h-1zM586 560h1v1h-1zM587 560h1v1h-1zM588 559h1v1h-1zM589 559h1v1h-1zM590 558h1v1h-1zM591 558h1v1h-1zM592 557h1v1h-1zM593 557h1v1h-1zM594 556h1v1h-1zM595 556h1v1h-1zM596 555h1v1h-1zM597 555h1v1h-1zM598 554h1v1h-1zM599 554h1v1h-1zM600 554h1v1h-1zM601 553h1v1h-1zM602 552h1v1h-1zM603 552h1v1h-1zM604 551h1v1h-1zM605 550h1v1h-1zM606 550h1v1h-1zM607 549h1v1h-1zM608 548h1v1h-1zM609 548h1v1h-1zM610 547h1v1h-1zM611 547h1v1h-1zM612 546h1v1h-1zM613 546h1v1h-1zM614 545h1v1h-1zM615 544h1v2h-1zM616 544h1v1h-1zM617 544h1v1h-1zM618 543h1v1h-1zM619 542h1v1h-1zM620 542h1v1h-1zM621 541h1v1h-1zM622 540h1v1h-1zM623 539h1v1h-1zM624 539h1v1h-1zM625 538h1v1h-1zM626 537h1v1h-1zM627 536h1v1h-1zM628 536h1v1h-1zM629 535h1v1h-1zM630 534h1v1h-1zM631 533h1v1h-1zM632 532h1v1h-1zM633 531h1v1h-1zM634 530h1v1h-1zM635 528h1v2h-1zM636 528h1v1h-1zM637 527h1v1h-1zM638 525h1v2h-1zM639 524h1v1h-1zM640 523h1v1h-1zM641 522h1v1h-1zM642 521h1v1h-1zM643 520h1v1h-1zM644 518h1v2h-1zM645 517h1v1h-1zM646 516h1v1h-1zM647 515h1v1h-1zM648 514h1v1h-1zM649 513h1v1h-1zM650 512h1v1h-1zM651 511h1v1h-1zM652 511h1v1h-1zM653 510h1v1h-1zM654 509h1v1h-1zM655 508h1v1h-1zM656 508h1v1h-1zM657 507h1v1h-1zM658 506h1v1h-1zM659 505h1v1h-1zM660 505h1v1h-1zM661 504h1v1h-1zM662 504h1v1h-1zM663 503h1v1h-1zM664 503h1v1h-1zM665 503h1v1h-1zM666 503h1v1h-1zM667 502h1v1h-1zM668 502h1v1h-1zM669 502h1v1h-1zM670 502h1v1h-1zM671 501h1v1h-1zM672 501h1v1h-1zM673 501h1v1h-1zM674 501h1v1h-1zM675 501h1v1h-1zM676 501h1v1h-1zM677 501h1v1h-1zM678 501h1v1h-1zM679 501h1v1h-1zM680 501h1v1h-1zM681 502h1v1h-1zM682 502h1v1h-1zM683 502h1v1h-1zM684 502h1v1h-1zM685 502h1v1h-1zM686 502h1v1h-1zM687 502h1v1h-1zM688 502h1v1h-1zM689 502h1v1h-1zM690 502h1v1h-1zM691 502h1v1h-1zM692 502h1v1h-1zM693 502h1v1h-1zM694 502h1v1h-1zM695 502h1v1h-1zM696 502h1v1h-1zM697 502h1v1h-1zM698 502h1v1h-1zM699 502h1v1h-1zM700 502h1v1h-1zM701 502h1v1h-1zM702 502h1v1h-1zM703 502h1v1h-1zM704 502h1v1h-1zM705 502h1v1h-1zM706 502h1v1h-1zM707 502h1v1h-1zM708 502h1v1h-1zM709 503h1v1h-1zM710 503h1v1h-1zM711 503h1v1h-1zM712 504h1v1h-1zM713 504h1v1h-1zM714 504h1v1h-1zM715 504h1v1h-1zM716 504h1v1h-1zM717 504h1v1h-1zM718 504h1v1h-1zM719 504h1v1h-1zM720 505h1v1h-1zM721 505h1v1h-1zM722 505h1v1h-1zM723 505h1v1h-1zM724 506h1v1h-1zM725 506h1v1h-1zM726 506h1v1h-1zM727 507h1v1h-1zM728 507h1v1h-1zM729 507h1v1h-1zM730 507h1v1h-1zM731 507h1v1h-1zM732 508h1v1h-1zM733 508h1v1h-1zM734 508h1v1h-1zM735 508h1v1h-1zM736 509h1v1h-1zM737 509h1v1h-1zM738 509h1v1h-1zM739 510h1v1h-1zM740 510h1v1h-1zM741 510h1v1h-1zM742 510h1v1h-1zM743 511h1v1h-1zM744 511h1v1h-1zM745 511h1v1h-1zM746 511h1v1h-1zM747 511h1v1h-1zM748 512h1v1h-1zM749 512h1v1h-1zM750 512h1v1h-1zM751 512h1v1h-1zM752 512h1v1h-1zM753 512h1v1h-1zM754 512h1v1h-1zM755 512h1v1h-1zM756 512h1v1h-1zM757 512h1v1h-1zM758 512h1v1h-1zM759 512h1v1h-1zM760 512h1v1h-1zM761 512h1v1h-1zM762 512h1v1h-1zM763 512h1v1h-1zM764 512h1v1h-1zM765 512h1v1h-1zM766 512h1v1h-1zM767 512h1v1h-1zM768 512h1v1h-1zM769 512h1v1h-1zM770 512h1v1h-1zM771 512h1v1h-1zM772 513h1v1h-1zM773 513h1v1h-1zM774 513h1v1h-1zM775 513h1v1h-1zM776 513h1v1h-1zM777 514h1v1h-1zM778 514h1v1h-1zM779 514h1v1h-1zM780 514h1v2h-1zM781 515h1v1h-1zM782 515h1v1h-1zM783 515h1v1h-1zM784 516h1v1h-1zM785 516h1v1h-1zM786 516h1v1h-1zM787 516h1v1h-1zM788 517h1v1h-1zM789 517h1v1h-1zM790 517h1v1h-1zM791 518h1v1h-1zM792 518h1v1h-1zM793 519h1v1h-1zM794 519h1v1h-1zM795 519h1v1h-1zM796 520h1v1h-1zM797 520h1v1h-1zM798 520h1v1h-1zM799 521h1v1h-1zM800 521h1v1h-1zM801 521h1v1h-1zM802 521h1v1h-1zM803 522h1v1h-1zM804 522h1v1h-1zM805 522h1v1h-1zM806 522h1v1h-1zM807 522h1v1h-1zM808 522h1v1h-1zM809 522h1v1h-1zM810 522h1v1h-1zM811 522h1v1h-1zM812 522h1v1h-1zM813 522h1v1h-1zM814 522h1v1h-1zM815 522h1v1h-1zM816 522h1v1h-1zM817 522h1v1h-1zM818 522h1v1h-1zM819 522h1v1h-1zM820 522h1v1h-1zM821 522h1v1h-1zM822 522h1v1h-1zM823 522h1v1h-1zM824 521h1v1h-1zM825 521h1v1h-1zM826 521h1v1h-1zM827 521h1v1h-1zM828 521h1v1h-1zM829 521h1v1h-1zM830 521h1v1h-1zM831 521h1v1h-1zM832 521h1v1h-1zM833 521h1v1h-1zM834 521h1v1h-1zM835 521h1v1h-1zM836 521h1v1h-1zM837 520h1v1h-1zM838 520h1v1h-1zM839 520h1v1h-1zM840 520h1v1h-1zM841 520h1v1h-1zM842 520h1v1h-1zM843 519h1v1h-1zM844 519h1v1h-1zM845 519h1v1h-1zM846 519h1v1h-1zM847 518h1v1h-1zM848 518h1v1h-1zM849 518h1v1h-1zM850 518h1v1h-1zM851 518h1v1h-1zM852 518h1v1h-1zM853 518h1v1h-1zM854 518h1v1h-1zM855 518h1v1h-1zM856 518h1v1h-1zM857 518h1v1h-1zM858 518h1v1h-1zM859 518h1v1h-1zM860 518h1v1h-1zM861 518h1v1h-1zM862 518h1v1h-1zM863 518h1v1h-1zM864 518h1v1h-1zM865 518h1v1h-1zM866 518h1v1h-1zM867 518h1v1h-1zM868 518h1v1h-1zM869 519h1v1h-1zM870 519h1v1h-1zM871 519h1v1h-1zM872 519h1v1h-1zM873 520h1v1h-1zM874 520h1v1h-1zM875 520h1v1h-1zM876 521h1v1h-1zM877 521h1v2h-1zM878 522h1v1h-1zM879 522h1v1h-1zM880 523h1v1h-1zM881 523h1v1h-1zM882 524h1v1h-1zM883 524h1v2h-1zM884 525h1v1h-1zM885 525h1v1h-1zM886 526h1v1h-1zM887 526h1v1h-1zM888 526h1v1h-1zM889 527h1v1h-1zM890 527h1v1h-1zM891 528h1v1h-1zM892 528h1v1h-1zM893 529h1v1h-1zM894 529h1v1h-1zM895 530h1v1h-1zM896 530h1v1h-1zM897 531h1v1h-1zM898 531h1v1h-1zM899 532h1v1h-1zM900 532h1v1h-1zM901 533h1v1h-1zM902 533h1v1h-1zM903 533h1v1h-1zM904 533h1v1h-1zM905 534h1v1h-1zM906 534h1v1h-1zM907 534h1v1h-1zM908 534h1v1h-1zM909 534h1v1h-1zM910 535h1v1h-1zM911 535h1v1h-1zM912 535h1v1h-1zM913 535h1v1h-1zM914 535h1v1h-1zM915 535h1v1h-1zM916 536h1v1h-1zM917 536h1v1h-1zM918 536h1v1h-1zM919 536h1v1h-1zM920 536h1v1h-1zM921 536h1v1h-1zM922 536h1v1h-1zM923 536h1v1h-1zM924 536h1v1h-1zM925 536h1v1h-1z" fill="#ff0000"/>
<text x="9.5" y="498" font-size="10.2" fill="#000" textLength="153.5" lengthAdjust="spacingAndGlyphs">MACD(12,26,9) -0.008625 -0.008340</text>
<text x="1171.5" y="494" font-size="10.2" fill="#000" textLength="37" lengthAdjust="spacingAndGlyphs">0.025108</text>
<text x="1172" y="528" font-size="10.2" fill="#000" textLength="17.7" lengthAdjust="spacingAndGlyphs">0.00</text>
<text x="1171.5" y="566" font-size="10.2" fill="#000" textLength="36.8" lengthAdjust="spacingAndGlyphs">-0.02988</text>
<rect x="1168" y="524" width="2" height="1" fill="#000"/>
</g>
<g id="rsi">
<line x1="6" y1="598.5" x2="1167" y2="598.5" stroke="#c0c0c0" stroke-width="1" stroke-dasharray="3,3"/>
<line x1="6" y1="632.5" x2="1167" y2="632.5" stroke="#c0c0c0" stroke-width="1" stroke-dasharray="3,3"/>
<path d="M5 627h1v1h-1zM6 627h1v1h-1zM7 626h1v1h-1zM8 625h1v1h-1zM9 624h1v1h-1zM10 623h1v1h-1zM11 622h1v1h-1zM12 621h1v1h-1zM13 619h1v2h-1zM14 619h1v1h-1zM15 618h1v1h-1zM16 618h1v1h-1zM17 617h1v1h-1zM18 617h1v1h-1zM19 618h1v1h-1zM20 618h1v1h-1zM21 619h1v1h-1zM22 620h1v1h-1zM23 621h1v2h-1zM24 623h1v1h-1zM25 624h1v2h-1zM26 625h1v1h-1zM27 625h1v1h-1zM28 624h1v1h-1zM29 624h1v1h-1zM30 622h1v2h-1zM31 621h1v1h-1zM32 619h1v2h-1zM33 617h1v2h-1zM34 618h1v1h-1zM35 619h1v1h-1zM36 620h1v1h-1zM37 621h1v1h-1zM38 622h1v1h-1zM39 623h1v1h-1zM40 624h1v1h-1zM41 625h1v2h-1zM42 626h1v1h-1zM43 626h1v1h-1zM44 627h1v1h-1zM45 627h1v1h-1zM46 627h1v1h-1zM47 627h1v1h-1zM48 626h1v1h-1zM49 626h1v1h-1zM50 626h1v1h-1zM51 626h1v1h-1zM52 625h1v1h-1zM53 625h1v1h-1zM54 626h1v2h-1zM55 628h1v3h-1zM56 631h1v2h-1zM57 633h1v2h-1zM58 634h1v1h-1zM59 635h1v1h-1zM60 635h1v1h-1zM61 636h1v1h-1zM62 635h1v1h-1zM63 633h1v2h-1zM64 632h1v1h-1zM65 630h1v2h-1zM66 629h1v1h-1zM67 628h1v1h-1zM68 627h1v1h-1zM69 625h1v2h-1zM70 625h1v1h-1zM71 626h1v1h-1zM72 627h1v1h-1zM73 628h1v1h-1zM74 628h1v1h-1zM75 627h1v1h-1zM76 626h1v1h-1zM77 625h1v1h-1zM78 625h1v1h-1zM79 624h1v1h-1zM80 623h1v1h-1zM81 621h1v2h-1zM82 622h1v1h-1zM83 623h1v1h-1zM84 624h1v1h-1zM85 625h1v1h-1zM86 625h1v1h-1zM87 625h1v1h-1zM88 624h1v1h-1zM89 624h1v1h-1zM90 624h1v1h-1zM91 623h1v1h-1zM92 622h1v1h-1zM93 621h1v1h-1zM94 621h1v1h-1zM95 620h1v1h-1zM96 619h1v1h-1zM97 618h1v1h-1zM98 618h1v1h-1zM99 618h1v1h-1zM100 618h1v1h-1zM101 618h1v1h-1zM102 618h1v1h-1zM103 617h1v1h-1zM104 616h1v1h-1zM105 614h1v2h-1zM106 615h1v1h-1zM107 616h1v1h-1zM108 617h1v1h-1zM109 618h1v2h-1zM110 620h1v1h-1zM111 621h1v1h-1zM112 622h1v1h-1zM113 623h1v1h-1zM114 623h1v1h-1zM115 622h1v1h-1zM116 622h1v1h-1zM117 621h1v1h-1zM118 619h1v2h-1zM119 618h1v1h-1zM120 616h1v2h-1zM121 614h1v2h-1zM122 614h1v1h-1zM123 614h1v1h-1zM124 613h1v1h-1zM125 613h1v1h-1zM126 613h1v1h-1zM127 614h1v1h-1zM128 614h1v1h-1zM129 615h1v1h-1zM130 616h1v1h-1zM131 617h1v1h-1zM132 618h1v1h-1zM133 619h1v2h-1zM134 619h1v1h-1zM135 617h1v2h-1zM136 616h1v1h-1zM137 614h1v2h-1zM138 615h1v1h-1zM139 616h1v1h-1zM140 617h1v1h-1zM141 618h1v1h-1zM142 619h1v1h-1zM143 620h1v2h-1zM144 622h1v1h-1zM145 623h1v2h-1zM146 624h1v1h-1zM147 623h1v1h-1zM148 623h1v1h-1zM149 622h1v1h-1zM150 621h1v1h-1zM151 619h1v2h-1zM152 618h1v1h-1zM153 616h1v2h-1zM154 616h1v1h-1zM155 617h1v1h-1zM156 618h1v1h-1zM157 619h1v1h-1zM158 619h1v1h-1zM159 619h1v1h-1zM160 619h1v1h-1zM161 619h1v1h-1zM162 619h1v1h-1zM163 618h1v1h-1zM164 617h1v1h-1zM165 616h1v1h-1zM166 616h1v1h-1zM167 617h1v1h-1zM168 618h1v1h-1zM169 619h1v1h-1zM170 619h1v1h-1zM171 619h1v1h-1zM172 619h1v1h-1zM173 619h1v1h-1zM174 620h1v1h-1zM175 621h1v1h-1zM176 622h1v1h-1zM177 623h1v1h-1zM178 623h1v1h-1zM179 624h1v1h-1zM180 625h1v1h-1zM181 626h1v1h-1zM182 626h1v1h-1zM183 625h1v1h-1zM184 625h1v1h-1zM185 624h1v1h-1zM186 624h1v1h-1zM187 625h1v1h-1zM188 625h1v1h-1zM189 626h1v1h-1zM190 626h1v1h-1zM191 626h1v1h-1zM192 625h1v1h-1zM193 625h1v1h-1zM194 625h1v1h-1zM195 625h1v1h-1zM196 625h1v1h-1zM197 625h1v1h-1zM198 625h1v1h-1zM199 626h1v1h-1zM200 627h1v1h-1zM201 628h1v1h-1zM202 627h1v1h-1zM203 626h1v1h-1zM204 625h1v1h-1zM205 623h1v2h-1zM206 621h1v2h-1zM207 620h1v1h-1zM208 618h1v2h-1zM209 616h1v2h-1zM210 615h1v1h-1zM211 614h1v1h-1zM212 613h1v1h-1zM213 611h1v2h-1zM214 611h1v1h-1zM215 612h1v1h-1zM216 613h1v1h-1zM217 614h1v1h-1zM218 614h1v1h-1zM219 614h1v1h-1zM220 613h1v1h-1zM221 613h1v1h-1zM222 613h1v1h-1zM223 612h1v1h-1zM224 611h1v1h-1zM225 610h1v1h-1zM226 610h1v1h-1zM227 611h1v1h-1zM228 612h1v1h-1zM229 613h1v1h-1zM230 613h1v1h-1zM231 614h1v1h-1zM232 614h1v1h-1zM233 615h1v1h-1zM234 615h1v1h-1zM235 614h1v1h-1zM236 614h1v1h-1zM237 613h1v1h-1zM238 613h1v1h-1zM239 612h1v1h-1zM240 611h1v1h-1zM241 610h1v1h-1zM242 610h1v1h-1zM243 609h1v1h-1zM244 609h1v1h-1zM245 608h1v1h-1zM246 609h1v1h-1zM247 610h1v1h-1zM248 611h1v1h-1zM249 612h1v2h-1zM250 613h1v1h-1zM251 612h1v1h-1zM252 612h1v1h-1zM253 611h1v1h-1zM254 611h1v1h-1zM255 612h1v1h-1zM256 612h1v1h-1zM257 613h1v1h-1zM258 613h1v1h-1zM259 613h1v1h-1zM260 612h1v1h-1zM261 612h1v1h-1zM262 610h1v2h-1zM263 607h1v3h-1zM264 605h1v2h-1zM265 603h1v2h-1zM266 603h1v1h-1zM267 603h1v1h-1zM268 604h1v1h-1zM269 604h1v1h-1zM270 603h1v1h-1zM271 602h1v1h-1zM272 601h1v1h-1zM273 599h1v2h-1zM274 600h1v2h-1zM275 602h1v1h-1zM276 603h1v2h-1zM277 605h1v2h-1zM278 606h1v1h-1zM279 607h1v1h-1zM280 608h1v1h-1zM281 609h1v1h-1zM282 610h1v1h-1zM283 611h1v1h-1zM284 612h1v1h-1zM285 613h1v2h-1zM286 614h1v1h-1zM287 613h1v1h-1zM288 612h1v1h-1zM289 611h1v1h-1zM290 611h1v1h-1zM291 611h1v1h-1zM292 612h1v1h-1zM293 612h1v1h-1zM294 612h1v1h-1zM295 612h1v1h-1zM296 611h1v1h-1zM297 611h1v1h-1zM298 611h1v1h-1zM299 611h1v1h-1zM300 611h1v1h-1zM301 611h1v1h-1zM302 611h1v1h-1zM303 611h1v1h-1zM304 610h1v1h-1zM305 610h1v1h-1zM306 610h1v1h-1zM307 610h1v1h-1zM308 611h1v1h-1zM309 611h1v1h-1zM310 611h1v1h-1zM311 610h1v1h-1zM312 610h1v1h-1zM313 609h1v1h-1zM314 609h1v1h-1zM315 610h1v1h-1zM316 610h1v1h-1zM317 611h1v1h-1zM318 611h1v1h-1zM319 611h1v1h-1zM320 612h1v1h-1zM321 612h1v1h-1zM322 612h1v1h-1zM323 611h1v1h-1zM324 610h1v1h-1zM325 609h1v1h-1zM326 609h1v1h-1zM327 608h1v1h-1zM328 607h1v1h-1zM329 606h1v1h-1zM330 605h1v1h-1zM331 604h1v1h-1zM332 603h1v1h-1zM333 601h1v2h-1zM334 601h1v1h-1zM335 602h1v1h-1zM336 603h1v1h-1zM337 604h1v1h-1zM338 604h1v1h-1zM339 604h1v1h-1zM340 604h1v1h-1zM341 604h1v1h-1zM342 603h1v1h-1zM343 601h1v2h-1zM344 600h1v1h-1zM345 598h1v2h-1zM346 598h1v1h-1zM347 598h1v1h-1zM348 598h1v1h-1zM349 598h1v1h-1zM350 599h1v1h-1zM351 600h1v1h-1zM352 601h1v1h-1zM353 602h1v1h-1zM354 602h1v1h-1zM355 601h1v1h-1zM356 601h1v1h-1zM357 600h1v1h-1zM358 600h1v1h-1zM359 600h1v1h-1zM360 601h1v1h-1zM361 601h1v1h-1zM362 601h1v1h-1zM363 601h1v1h-1zM364 601h1v1h-1zM365 601h1v1h-1zM366 602h1v1h-1zM367 603h1v2h-1zM368 605h1v1h-1zM369 606h1v2h-1zM370 608h1v1h-1zM371 609h1v2h-1zM372 611h1v1h-1zM373 612h1v2h-1zM374 613h1v1h-1zM375 612h1v1h-1zM376 612h1v1h-1zM377 611h1v1h-1zM378 611h1v1h-1zM379 610h1v1h-1zM380 609h1v1h-1zM381 607h1v2h-1zM382 607h1v1h-1zM383 607h1v1h-1zM384 608h1v1h-1zM385 608h1v1h-1zM386 608h1v1h-1zM387 608h1v1h-1zM388 608h1v1h-1zM389 608h1v1h-1zM390 608h1v1h-1zM391 609h1v1h-1zM392 610h1v1h-1zM393 611h1v1h-1zM394 611h1v1h-1zM395 612h1v1h-1zM396 612h1v1h-1zM397 613h1v1h-1zM398 614h1v1h-1zM399 615h1v2h-1zM400 617h1v1h-1zM401 618h1v2h-1zM402 619h1v1h-1zM403 619h1v1h-1zM404 619h1v1h-1zM405 619h1v1h-1zM406 619h1v1h-1zM407 619h1v1h-1zM408 620h1v1h-1zM409 620h1v1h-1zM410 620h1v1h-1zM411 620h1v1h-1zM412 619h1v1h-1zM413 619h1v1h-1zM414 620h1v1h-1zM415 621h1v1h-1zM416 622h1v1h-1zM417 623h1v2h-1zM418 624h1v1h-1zM419 625h1v1h-1zM420 626h1v1h-1zM421 627h1v1h-1zM422 627h1v1h-1zM423 628h1v1h-1zM424 628h1v1h-1zM425 629h1v1h-1zM426 629h1v1h-1zM427 629h1v1h-1zM428 629h1v1h-1zM429 629h1v1h-1zM430 629h1v1h-1zM431 629h1v1h-1zM432 629h1v1h-1zM433 629h1v1h-1zM434 629h1v1h-1zM435 629h1v1h-1zM436 629h1v1h-1zM437 629h1v1h-1zM438 630h1v1h-1zM439 631h1v1h-1zM440 632h1v1h-1zM441 633h1v1h-1zM442 633h1v1h-1zM443 632h1v1h-1zM444 632h1v1h-1zM445 631h1v1h-1zM446 631h1v1h-1zM447 631h1v1h-1zM448 632h1v1h-1zM449 632h1v1h-1zM450 632h1v1h-1zM451 633h1v1h-1zM452 633h1v1h-1zM453 634h1v1h-1zM454 634h1v1h-1zM455 633h1v1h-1zM456 633h1v1h-1zM457 632h1v1h-1zM458 632h1v1h-1zM459 631h1v1h-1zM460 631h1v1h-1zM461 630h1v1h-1zM462 630h1v1h-1zM463 630h1v1h-1zM464 630h1v1h-1zM465 630h1v1h-1zM466 628h1v2h-1zM467 626h1v2h-1zM468 624h1v2h-1zM469 622h1v2h-1zM470 622h1v1h-1zM471 622h1v1h-1zM472 622h1v1h-1zM473 622h1v1h-1zM474 623h1v2h-1zM475 625h1v2h-1zM476 627h1v2h-1zM477 629h1v2h-1zM478 631h1v2h-1zM479 633h1v2h-1zM480 635h1v2h-1zM481 637h1v2h-1zM482 638h1v1h-1zM483 638h1v1h-1zM484 638h1v1h-1zM485 638h1v1h-1zM486 638h1v1h-1zM487 638h1v1h-1zM488 639h1v1h-1zM489 639h1v1h-1zM490 637h1v2h-1zM491 635h1v2h-1zM492 633h1v2h-1zM493 631h1v2h-1zM494 628h1v3h-1zM495 625h1v3h-1zM496 622h1v3h-1zM497 620h1v2h-1zM498 620h1v1h-1zM499 620h1v1h-1zM500 621h1v1h-1zM501 621h1v1h-1zM502 621h1v1h-1zM503 622h1v1h-1zM504 623h1v1h-1zM505 624h1v1h-1zM506 624h1v1h-1zM507 624h1v1h-1zM508 624h1v1h-1zM509 624h1v1h-1zM510 624h1v1h-1zM511 623h1v1h-1zM512 623h1v1h-1zM513 622h1v1h-1zM514 623h1v1h-1zM515 624h1v1h-1zM516 625h1v1h-1zM517 626h1v2h-1zM518 627h1v1h-1zM519 626h1v1h-1zM520 626h1v1h-1zM521 625h1v1h-1zM522 625h1v1h-1zM523 625h1v1h-1zM524 624h1v1h-1zM525 624h1v1h-1zM526 624h1v1h-1zM527 623h1v1h-1zM528 622h1v1h-1zM529 621h1v1h-1zM530 621h1v1h-1zM531 621h1v1h-1zM532 622h1v1h-1zM533 622h1v1h-1zM534 623h1v1h-1zM535 624h1v2h-1zM536 626h1v1h-1zM537 627h1v2h-1zM538 628h1v1h-1zM539 628h1v1h-1zM540 629h1v1h-1zM541 629h1v1h-1zM542 630h1v1h-1zM543 631h1v1h-1zM544 632h1v1h-1zM545 633h1v1h-1zM546 633h1v1h-1zM547 634h1v1h-1zM548 634h1v1h-1zM549 635h1v1h-1zM550 635h1v1h-1zM551 635h1v1h-1zM552 636h1v1h-1zM553 636h1v1h-1zM554 636h1v1h-1zM555 636h1v1h-1zM556 637h1v1h-1zM557 637h1v1h-1zM558 637h1v1h-1zM559 636h1v1h-1zM560 635h1v1h-1zM561 633h1v2h-1zM562 632h1v1h-1zM563 631h1v1h-1zM564 630h1v1h-1zM565 628h1v2h-1zM566 628h1v1h-1zM567 628h1v1h-1zM568 629h1v1h-1zM569 629h1v1h-1zM570 627h1v2h-1zM571 625h1v2h-1zM572 623h1v2h-1zM573 621h1v2h-1zM574 621h1v1h-1zM575 622h1v1h-1zM576 622h1v1h-1zM577 623h1v1h-1zM578 623h1v1h-1zM579 623h1v1h-1zM580 623h1v1h-1zM581 623h1v1h-1zM582 623h1v1h-1zM583 623h1v1h-1zM584 623h1v1h-1zM585 623h1v1h-1zM586 623h1v1h-1zM587 622h1v1h-1zM588 621h1v1h-1zM589 619h1v2h-1zM590 620h1v1h-1zM591 621h1v1h-1zM592 622h1v1h-1zM593 623h1v1h-1zM594 623h1v1h-1zM595 623h1v1h-1zM596 622h1v1h-1zM597 622h1v1h-1zM598 622h1v1h-1zM599 621h1v1h-1zM600 620h1v1h-1zM601 618h1v2h-1zM602 618h1v1h-1zM603 619h1v1h-1zM604 619h1v1h-1zM605 620h1v1h-1zM606 619h1v1h-1zM607 618h1v1h-1zM608 617h1v1h-1zM609 615h1v2h-1zM610 615h1v1h-1zM611 615h1v1h-1zM612 614h1v1h-1zM613 614h1v1h-1zM614 615h1v1h-1zM615 616h1v1h-1zM616 617h1v1h-1zM617 618h1v2h-1zM618 614h1v4h-1zM619 610h1v4h-1zM620 606h1v4h-1zM621 603h1v3h-1zM622 603h1v1h-1zM623 603h1v1h-1zM624 603h1v1h-1zM625 603h1v1h-1zM626 603h1v1h-1zM627 603h1v1h-1zM628 603h1v1h-1zM629 603h1v1h-1zM630 603h1v1h-1zM631 602h1v1h-1zM632 601h1v1h-1zM633 600h1v1h-1zM634 600h1v1h-1zM635 599h1v1h-1zM636 599h1v1h-1zM637 598h1v1h-1zM638 599h1v1h-1zM639 600h1v1h-1zM640 601h1v1h-1zM641 602h1v1h-1zM642 602h1v1h-1zM643 602h1v1h-1zM644 602h1v1h-1zM645 602h1v1h-1zM646 603h1v1h-1zM647 604h1v1h-1zM648 605h1v1h-1zM649 606h1v2h-1zM650 607h1v1h-1zM651 607h1v1h-1zM652 607h1v1h-1zM653 607h1v1h-1zM654 607h1v1h-1zM655 607h1v1h-1zM656 608h1v1h-1zM657 608h1v1h-1zM658 608h1v1h-1zM659 607h1v1h-1zM660 607h1v1h-1zM661 606h1v1h-1zM662 606h1v1h-1zM663 606h1v1h-1zM664 606h1v1h-1zM665 606h1v1h-1zM666 606h1v1h-1zM667 605h1v1h-1zM668 605h1v1h-1zM669 604h1v1h-1zM670 604h1v1h-1zM671 604h1v1h-1zM672 603h1v1h-1zM673 603h1v1h-1zM674 603h1v1h-1zM675 603h1v1h-1zM676 604h1v1h-1zM677 604h1v1h-1zM678 605h1v1h-1zM679 606h1v1h-1zM680 607h1v1h-1zM681 608h1v2h-1zM682 608h1v1h-1zM683 607h1v1h-1zM684 606h1v1h-1zM685 604h1v2h-1zM686 604h1v1h-1zM687 605h1v1h-1zM688 606h1v1h-1zM689 607h1v1h-1zM690 606h1v1h-1zM691 605h1v1h-1zM692 604h1v1h-1zM693 602h1v2h-1zM694 603h1v1h-1zM695 604h1v1h-1zM696 605h1v1h-1zM697 606h1v1h-1zM698 606h1v1h-1zM699 606h1v1h-1zM700 607h1v1h-1zM701 607h1v1h-1zM702 607h1v1h-1zM703 608h1v1h-1zM704 608h1v1h-1zM705 609h1v1h-1zM706 610h1v1h-1zM707 611h1v1h-1zM708 612h1v1h-1zM709 613h1v1h-1zM710 613h1v1h-1zM711 613h1v1h-1zM712 614h1v1h-1zM713 614h1v1h-1zM714 614h1v1h-1zM715 614h1v1h-1zM716 615h1v1h-1zM717 615h1v1h-1zM718 613h1v2h-1zM719 612h1v1h-1zM720 610h1v2h-1zM721 608h1v2h-1zM722 608h1v1h-1zM723 609h1v1h-1zM724 610h1v1h-1zM725 611h1v1h-1zM726 611h1v1h-1zM727 610h1v1h-1zM728 609h1v1h-1zM729 607h1v2h-1zM730 607h1v1h-1zM731 607h1v1h-1zM732 608h1v1h-1zM733 608h1v1h-1zM734 609h1v2h-1zM735 611h1v2h-1zM736 613h1v2h-1zM737 615h1v2h-1zM738 616h1v1h-1zM739 615h1v1h-1zM740 614h1v1h-1zM741 612h1v2h-1zM742 612h1v1h-1zM743 611h1v1h-1zM744 611h1v1h-1zM745 610h1v1h-1zM746 610h1v1h-1zM747 611h1v1h-1zM748 612h1v1h-1zM749 613h1v1h-1zM750 613h1v1h-1zM751 612h1v1h-1zM752 612h1v1h-1zM753 611h1v1h-1zM754 608h1v3h-1zM755 606h1v2h-1zM756 603h1v3h-1zM757 601h1v2h-1zM758 602h1v2h-1zM759 604h1v1h-1zM760 605h1v2h-1zM761 607h1v2h-1zM762 609h1v3h-1zM763 612h1v3h-1zM764 615h1v3h-1zM765 618h1v2h-1zM766 619h1v1h-1zM767 618h1v1h-1zM768 618h1v1h-1zM769 617h1v1h-1zM770 617h1v1h-1zM771 617h1v1h-1zM772 617h1v1h-1zM773 617h1v1h-1zM774 617h1v1h-1zM775 617h1v1h-1zM776 617h1v1h-1zM777 617h1v1h-1zM778 617h1v1h-1zM779 617h1v1h-1zM780 617h1v1h-1zM781 617h1v1h-1zM782 617h1v1h-1zM783 617h1v1h-1zM784 618h1v1h-1zM785 618h1v1h-1zM786 618h1v1h-1zM787 618h1v1h-1zM788 619h1v1h-1zM789 619h1v1h-1zM790 617h1v2h-1zM791 616h1v1h-1zM792 614h1v2h-1zM793 612h1v2h-1zM794 612h1v1h-1zM795 612h1v1h-1zM796 613h1v1h-1zM797 613h1v1h-1zM798 613h1v1h-1zM799 612h1v1h-1zM800 612h1v1h-1zM801 611h1v1h-1zM802 611h1v1h-1zM803 611h1v1h-1zM804 611h1v1h-1zM805 611h1v1h-1zM806 611h1v1h-1zM807 612h1v1h-1zM808 613h1v1h-1zM809 614h1v1h-1zM810 614h1v1h-1zM811 614h1v1h-1zM812 614h1v1h-1zM813 614h1v1h-1zM814 614h1v1h-1zM815 614h1v1h-1zM816 614h1v1h-1zM817 614h1v1h-1zM818 614h1v1h-1zM819 614h1v1h-1zM820 615h1v1h-1zM821 615h1v1h-1zM822 615h1v1h-1zM823 615h1v1h-1zM824 615h1v1h-1zM825 615h1v1h-1zM826 613h1v2h-1zM827 612h1v1h-1zM828 610h1v2h-1zM829 608h1v2h-1zM830 609h1v1h-1zM831 610h1v1h-1zM832 611h1v1h-1zM833 612h1v1h-1zM834 612h1v1h-1zM835 611h1v1h-1zM836 610h1v1h-1zM837 608h1v2h-1zM838 608h1v1h-1zM839 607h1v1h-1zM840 607h1v1h-1zM841 606h1v1h-1zM842 606h1v1h-1zM843 607h1v1h-1zM844 607h1v1h-1zM845 608h1v1h-1zM846 609h1v2h-1zM847 611h1v1h-1zM848 612h1v2h-1zM849 614h1v2h-1zM850 615h1v1h-1zM851 616h1v1h-1zM852 617h1v1h-1zM853 618h1v1h-1zM854 618h1v1h-1zM855 618h1v1h-1zM856 618h1v1h-1zM857 618h1v1h-1zM858 618h1v1h-1zM859 617h1v1h-1zM860 616h1v1h-1zM861 615h1v1h-1zM862 616h1v1h-1zM863 617h1v1h-1zM864 618h1v1h-1zM865 619h1v2h-1zM866 620h1v1h-1zM867 620h1v1h-1zM868 621h1v1h-1zM869 621h1v1h-1zM870 621h1v1h-1zM871 621h1v1h-1zM872 620h1v1h-1zM873 620h1v1h-1zM874 620h1v1h-1zM875 621h1v1h-1zM876 622h1v1h-1zM877 623h1v1h-1zM878 623h1v1h-1zM879 624h1v1h-1zM880 624h1v1h-1zM881 625h1v1h-1zM882 625h1v1h-1zM883 625h1v1h-1zM884 625h1v1h-1zM885 625h1v1h-1zM886 625h1v1h-1zM887 626h1v1h-1zM888 627h1v1h-1zM889 628h1v1h-1zM890 628h1v1h-1zM891 628h1v1h-1zM892 628h1v1h-1zM893 628h1v1h-1zM894 626h1v2h-1zM895 625h1v1h-1zM896 623h1v2h-1zM897 621h1v2h-1zM898 621h1v1h-1zM899 620h1v1h-1zM900 619h1v1h-1zM901 618h1v1h-1zM902 618h1v1h-1zM903 618h1v1h-1zM904 618h1v1h-1zM905 618h1v1h-1zM906 618h1v1h-1zM907 619h1v1h-1zM908 620h1v1h-1zM909 621h1v1h-1zM910 622h1v1h-1zM911 623h1v1h-1zM912 624h1v1h-1zM913 625h1v1h-1zM914 625h1v1h-1zM915 624h1v1h-1zM916 624h1v1h-1zM917 623h1v1h-1zM918 623h1v1h-1zM919 623h1v1h-1zM920 623h1v1h-1zM921 623h1v1h-1zM922 623h1v1h-1zM923 623h1v1h-1zM924 623h1v1h-1zM925 623h1v1h-1z" fill="#1e90ff"/>
<text x="9.5" y="584" font-size="10.2" fill="#000" textLength="67.5" lengthAdjust="spacingAndGlyphs">RSI(14) 40.2860</text>
<text x="1171.5" y="582" font-size="10.2" fill="#000" textLength="15.2" lengthAdjust="spacingAndGlyphs">100</text>
<text x="1170" y="602" font-size="10.2" fill="#000" textLength="10.1" lengthAdjust="spacingAndGlyphs">70</text>
<text x="1170" y="636" font-size="10.2" fill="#000" textLength="10.1" lengthAdjust="spacingAndGlyphs">30</text>
<text x="1171.5" y="655" font-size="10.2" fill="#000" textLength="5.1" lengthAdjust="spacingAndGlyphs">0</text>
<rect x="1168" y="657" width="1" height="1" fill="#000"/>
</g>
<rect x="5" y="659" width="1" height="3" fill="#000"/>
<text x="4.5" y="671" font-size="10.2" fill="#000" textLength="51.8" lengthAdjust="spacingAndGlyphs">18 Dec 2020</text>
<rect x="69" y="659" width="1" height="3" fill="#000"/>
<text x="68.5" y="671" font-size="10.2" fill="#000" textLength="45.2" lengthAdjust="spacingAndGlyphs">7 Jan 2021</text>
<rect x="133" y="659" width="1" height="3" fill="#000"/>
<text x="132.5" y="671" font-size="10.2" fill="#000" textLength="49.2" lengthAdjust="spacingAndGlyphs">26 Jan 2021</text>
<rect x="197" y="659" width="1" height="3" fill="#000"/>
<text x="196.5" y="671" font-size="10.2" fill="#000" textLength="50.6" lengthAdjust="spacingAndGlyphs">13 Feb 2021</text>
<rect x="261" y="659" width="1" height="3" fill="#000"/>
<text x="260.5" y="671" font-size="10.2" fill="#000" textLength="45.7" lengthAdjust="spacingAndGlyphs">4 Mar 2021</text>
<rect x="325" y="659" width="1" height="3" fill="#000"/>
<text x="324.5" y="671" font-size="10.2" fill="#000" textLength="50" lengthAdjust="spacingAndGlyphs">23 Mar 2021</text>
<rect x="389" y="659" width="1" height="3" fill="#000"/>
<text x="388.5" y="671" font-size="10.2" fill="#000" textLength="50.2" lengthAdjust="spacingAndGlyphs">10 Apr 2021</text>
<rect x="453" y="659" width="1" height="3" fill="#000"/>
<text x="452.5" y="671" font-size="10.2" fill="#000" textLength="50.2" lengthAdjust="spacingAndGlyphs">29 Apr 2021</text>
<rect x="517" y="659" width="1" height="3" fill="#000"/>
<text x="516.5" y="671" font-size="10.2" fill="#000" textLength="53.8" lengthAdjust="spacingAndGlyphs">18 May 2021</text>
<rect x="581" y="659" width="1" height="3" fill="#000"/>
<text x="580.5" y="671" font-size="10.2" fill="#000" textLength="43" lengthAdjust="spacingAndGlyphs">5 Jun 2021</text>
<rect x="645" y="659" width="1" height="3" fill="#000"/>
<text x="644.5" y="671" font-size="10.2" fill="#000" textLength="48.6" lengthAdjust="spacingAndGlyphs">24 Jun 2021</text>
<rect x="709" y="659" width="1" height="3" fill="#000"/>
<text x="708.5" y="671" font-size="10.2" fill="#000" textLength="45.7" lengthAdjust="spacingAndGlyphs">13 Jul 2021</text>
<rect x="773" y="659" width="1" height="3" fill="#000"/>
<text x="772.5" y="671" font-size="10.2" fill="#000" textLength="45.7" lengthAdjust="spacingAndGlyphs">31 Jul 2021</text>
<rect x="837" y="659" width="1" height="3" fill="#000"/>
<text x="836.5" y="671" font-size="10.2" fill="#000" textLength="51" lengthAdjust="spacingAndGlyphs">19 Aug 2021</text>
<rect x="901" y="659" width="1" height="3" fill="#000"/>
<text x="900.5" y="671" font-size="10.2" fill="#000" textLength="45.3" lengthAdjust="spacingAndGlyphs">7 Sep 2021</text>
<rect x="0" y="679" width="1207" height="1" fill="#e3e3e3"/>
<rect x="0" y="680" width="1207" height="1" fill="#ffffff"/>
<rect x="0" y="681" width="1207" height="1" fill="#000000"/>
<rect x="0" y="682" width="1207" height="1" fill="#fafafa"/>
<rect x="0" y="683" width="1207" height="18" fill="#f0f0f0"/>
<rect x="0" y="701" width="1207" height="1" fill="#ffffff"/>
<rect x="0" y="702" width="1207" height="3" fill="#f0f0f0"/>
<rect x="0" y="705" width="1207" height="1" fill="#a0a0a0"/>
<rect x="0" y="679" width="1" height="22" fill="#a0a0a0"/>
<rect x="1" y="682" width="1" height="18" fill="#696969"/>
<rect x="394" y="680" width="104" height="20" fill="#ffffff"/>
<rect x="394" y="681" width="1" height="19" fill="#000"/>
<rect x="497" y="681" width="1" height="19" fill="#000"/>
<rect x="394" y="699" width="104" height="1" fill="#000"/>
<text x="18.4" y="696" font-size="12.6" fill="#808080" textLength="67.3" lengthAdjust="spacingAndGlyphs">EURUSD,H4</text>
<text x="108.5" y="696" font-size="12.6" fill="#808080" textLength="83" lengthAdjust="spacingAndGlyphs">AUDUSD,Daily</text>
<text x="212" y="696" font-size="12.6" fill="#808080" textLength="67" lengthAdjust="spacingAndGlyphs">USDCHF,H4</text>
<text x="301" y="696" font-size="12.6" fill="#808080" textLength="81" lengthAdjust="spacingAndGlyphs">USDCAD,Daily</text>
<text x="510" y="696" font-size="12.6" fill="#808080" textLength="52" lengthAdjust="spacingAndGlyphs">UKOil,H1</text>
<text x="584.5" y="696" font-size="12.6" fill="#808080" textLength="46.5" lengthAdjust="spacingAndGlyphs">DJ30,H1</text>
<text x="654.5" y="696" font-size="12.6" fill="#808080" textLength="51.5" lengthAdjust="spacingAndGlyphs">USDX,H1</text>
<text x="729" y="696" font-size="12.6" fill="#808080" textLength="69" lengthAdjust="spacingAndGlyphs">XAUUSD,H4</text>
<text x="822" y="696" font-size="12.6" fill="#808080" textLength="67.5" lengthAdjust="spacingAndGlyphs">GBPUSD,H1</text>
<text x="404.4" y="696" font-size="12.6" fill="#000" textLength="82.3" lengthAdjust="spacingAndGlyphs">USDCNH,Daily</text>
<rect x="98" y="684" width="1" height="14" fill="#808080"/>
<rect x="202" y="684" width="1" height="14" fill="#808080"/>
<rect x="290" y="684" width="1" height="14" fill="#808080"/>
<rect x="574" y="684" width="1" height="14" fill="#808080"/>
<rect x="642" y="684" width="1" height="14" fill="#808080"/>
<rect x="718" y="684" width="1" height="14" fill="#808080"/>
<rect x="810" y="684" width="1" height="14" fill="#808080"/>
<rect x="902" y="684" width="1" height="14" fill="#808080"/>
<path d="M1186 687 L1186 693 L1182.8 690 Z" fill="#8c8c8c" shape-rendering="geometricPrecision"/>
<path d="M1202 687 L1202 693 L1205.2 690 Z" fill="#8c8c8c" shape-rendering="geometricPrecision"/>
</svg>
</body></html>
